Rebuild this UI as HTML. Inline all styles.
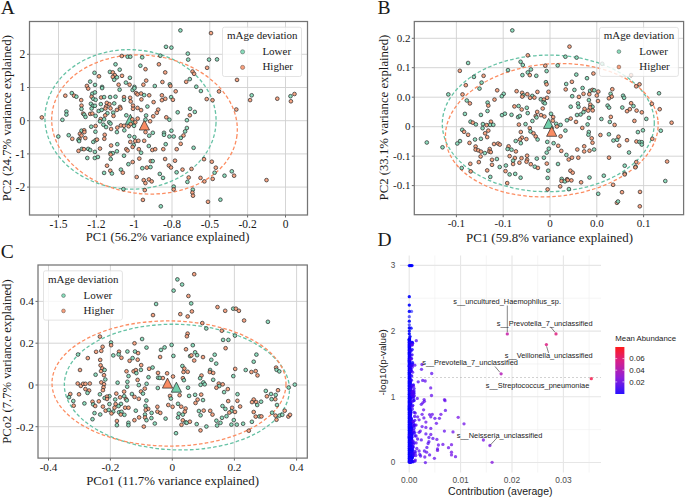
<!DOCTYPE html>
<html><head><meta charset="utf-8"><style>
html,body{margin:0;padding:0;background:#fff;}
svg{display:block;}

</style></head><body>
<svg width="685" height="498" viewBox="0 0 685 498">
<rect width="685" height="498" fill="#fff"/>
<line x1="58.5" y1="21.5" x2="58.5" y2="215" stroke="#d0d0d0" stroke-width="0.9" />
<line x1="96.4" y1="21.5" x2="96.4" y2="215" stroke="#d0d0d0" stroke-width="0.9" />
<line x1="134.2" y1="21.5" x2="134.2" y2="215" stroke="#d0d0d0" stroke-width="0.9" />
<line x1="172" y1="21.5" x2="172" y2="215" stroke="#d0d0d0" stroke-width="0.9" />
<line x1="209.8" y1="21.5" x2="209.8" y2="215" stroke="#d0d0d0" stroke-width="0.9" />
<line x1="247.6" y1="21.5" x2="247.6" y2="215" stroke="#d0d0d0" stroke-width="0.9" />
<line x1="285.5" y1="21.5" x2="285.5" y2="215" stroke="#d0d0d0" stroke-width="0.9" />
<line x1="29.5" y1="54.3" x2="307.5" y2="54.3" stroke="#d0d0d0" stroke-width="0.9" />
<line x1="29.5" y1="87.5" x2="307.5" y2="87.5" stroke="#d0d0d0" stroke-width="0.9" />
<line x1="29.5" y1="120.7" x2="307.5" y2="120.7" stroke="#d0d0d0" stroke-width="0.9" />
<line x1="29.5" y1="153.9" x2="307.5" y2="153.9" stroke="#d0d0d0" stroke-width="0.9" />
<line x1="29.5" y1="187.1" x2="307.5" y2="187.1" stroke="#d0d0d0" stroke-width="0.9" />
<line x1="58.5" y1="215" x2="58.5" y2="217.5" stroke="#444" stroke-width="0.8" />
<text x="58.5" y="227.5" font-size="11.5" text-anchor="middle" font-family="Liberation Serif, serif" fill="#1a1a1a" >-1.5</text>
<line x1="96.4" y1="215" x2="96.4" y2="217.5" stroke="#444" stroke-width="0.8" />
<text x="96.4" y="227.5" font-size="11.5" text-anchor="middle" font-family="Liberation Serif, serif" fill="#1a1a1a" >-1.2</text>
<line x1="134.2" y1="215" x2="134.2" y2="217.5" stroke="#444" stroke-width="0.8" />
<text x="134.2" y="227.5" font-size="11.5" text-anchor="middle" font-family="Liberation Serif, serif" fill="#1a1a1a" >-1</text>
<line x1="172" y1="215" x2="172" y2="217.5" stroke="#444" stroke-width="0.8" />
<text x="172" y="227.5" font-size="11.5" text-anchor="middle" font-family="Liberation Serif, serif" fill="#1a1a1a" >-0.8</text>
<line x1="209.8" y1="215" x2="209.8" y2="217.5" stroke="#444" stroke-width="0.8" />
<text x="209.8" y="227.5" font-size="11.5" text-anchor="middle" font-family="Liberation Serif, serif" fill="#1a1a1a" >-0.5</text>
<line x1="247.6" y1="215" x2="247.6" y2="217.5" stroke="#444" stroke-width="0.8" />
<text x="247.6" y="227.5" font-size="11.5" text-anchor="middle" font-family="Liberation Serif, serif" fill="#1a1a1a" >-0.2</text>
<line x1="285.5" y1="215" x2="285.5" y2="217.5" stroke="#444" stroke-width="0.8" />
<text x="285.5" y="227.5" font-size="11.5" text-anchor="middle" font-family="Liberation Serif, serif" fill="#1a1a1a" >0</text>
<line x1="27" y1="54.3" x2="29.5" y2="54.3" stroke="#444" stroke-width="0.8" />
<text x="25.2" y="58.21" font-size="11.5" text-anchor="end" font-family="Liberation Serif, serif" fill="#1a1a1a" >2</text>
<line x1="27" y1="87.5" x2="29.5" y2="87.5" stroke="#444" stroke-width="0.8" />
<text x="25.2" y="91.41" font-size="11.5" text-anchor="end" font-family="Liberation Serif, serif" fill="#1a1a1a" >1</text>
<line x1="27" y1="120.7" x2="29.5" y2="120.7" stroke="#444" stroke-width="0.8" />
<text x="25.2" y="124.61" font-size="11.5" text-anchor="end" font-family="Liberation Serif, serif" fill="#1a1a1a" >0</text>
<line x1="27" y1="153.9" x2="29.5" y2="153.9" stroke="#444" stroke-width="0.8" />
<text x="25.2" y="157.81" font-size="11.5" text-anchor="end" font-family="Liberation Serif, serif" fill="#1a1a1a" >-1</text>
<line x1="27" y1="187.1" x2="29.5" y2="187.1" stroke="#444" stroke-width="0.8" />
<text x="25.2" y="191.01" font-size="11.5" text-anchor="end" font-family="Liberation Serif, serif" fill="#1a1a1a" >-2</text>
<ellipse cx="130.5" cy="119.4" rx="85.6" ry="69.7" transform="rotate(2.4 130.5 119.4)" fill="none" stroke="#66c2a5" stroke-width="1.3" stroke-dasharray="3.6 2.2"/>
<ellipse cx="144.5" cy="124.5" rx="93.1" ry="69.2" transform="rotate(6.7 144.5 124.5)" fill="none" stroke="#fc8d62" stroke-width="1.3" stroke-dasharray="3.6 2.2"/>
<polygon points="130.4,114.3 125.3,124.3 135.5,124.3" fill="#72cfab" stroke="#222" stroke-width="0.7" stroke-linejoin="miter"/>
<polygon points="144.4,120 139.3,130 149.5,130" fill="#f98c63" stroke="#222" stroke-width="0.7" stroke-linejoin="miter"/>
<circle cx="94.5" cy="72.8" r="1.85" fill="#88dbba" fill-opacity="0.93" stroke="#2a2a2a" stroke-opacity="0.9" stroke-width="0.8"/>
<circle cx="90.2" cy="81.6" r="1.85" fill="#88dbba" fill-opacity="0.93" stroke="#2a2a2a" stroke-opacity="0.9" stroke-width="0.8"/>
<circle cx="95" cy="84.9" r="1.85" fill="#88dbba" fill-opacity="0.93" stroke="#2a2a2a" stroke-opacity="0.9" stroke-width="0.8"/>
<circle cx="86.9" cy="85.9" r="1.85" fill="#f79f7c" fill-opacity="0.93" stroke="#2a2a2a" stroke-opacity="0.9" stroke-width="0.8"/>
<circle cx="166" cy="46.8" r="1.85" fill="#88dbba" fill-opacity="0.93" stroke="#2a2a2a" stroke-opacity="0.9" stroke-width="0.8"/>
<circle cx="171.4" cy="47.6" r="1.85" fill="#88dbba" fill-opacity="0.93" stroke="#2a2a2a" stroke-opacity="0.9" stroke-width="0.8"/>
<circle cx="121.8" cy="56" r="1.85" fill="#f79f7c" fill-opacity="0.93" stroke="#2a2a2a" stroke-opacity="0.9" stroke-width="0.8"/>
<circle cx="127.6" cy="56.7" r="1.85" fill="#88dbba" fill-opacity="0.93" stroke="#2a2a2a" stroke-opacity="0.9" stroke-width="0.8"/>
<circle cx="130.3" cy="56.7" r="1.85" fill="#88dbba" fill-opacity="0.93" stroke="#2a2a2a" stroke-opacity="0.9" stroke-width="0.8"/>
<circle cx="142.2" cy="57.3" r="1.85" fill="#88dbba" fill-opacity="0.93" stroke="#2a2a2a" stroke-opacity="0.9" stroke-width="0.8"/>
<circle cx="160.3" cy="55.7" r="1.85" fill="#88dbba" fill-opacity="0.93" stroke="#2a2a2a" stroke-opacity="0.9" stroke-width="0.8"/>
<circle cx="115.5" cy="64.3" r="1.85" fill="#88dbba" fill-opacity="0.93" stroke="#2a2a2a" stroke-opacity="0.9" stroke-width="0.8"/>
<circle cx="140.4" cy="65.7" r="1.85" fill="#88dbba" fill-opacity="0.93" stroke="#2a2a2a" stroke-opacity="0.9" stroke-width="0.8"/>
<circle cx="145.5" cy="69.2" r="1.85" fill="#f79f7c" fill-opacity="0.93" stroke="#2a2a2a" stroke-opacity="0.9" stroke-width="0.8"/>
<circle cx="158.9" cy="64.3" r="1.85" fill="#f79f7c" fill-opacity="0.93" stroke="#2a2a2a" stroke-opacity="0.9" stroke-width="0.8"/>
<circle cx="119.7" cy="69.7" r="1.85" fill="#88dbba" fill-opacity="0.93" stroke="#2a2a2a" stroke-opacity="0.9" stroke-width="0.8"/>
<circle cx="109.9" cy="71.9" r="1.85" fill="#88dbba" fill-opacity="0.93" stroke="#2a2a2a" stroke-opacity="0.9" stroke-width="0.8"/>
<circle cx="112.8" cy="72.4" r="1.85" fill="#f79f7c" fill-opacity="0.93" stroke="#2a2a2a" stroke-opacity="0.9" stroke-width="0.8"/>
<circle cx="114.8" cy="75.2" r="1.85" fill="#f79f7c" fill-opacity="0.93" stroke="#2a2a2a" stroke-opacity="0.9" stroke-width="0.8"/>
<circle cx="112.8" cy="76.9" r="1.85" fill="#f79f7c" fill-opacity="0.93" stroke="#2a2a2a" stroke-opacity="0.9" stroke-width="0.8"/>
<circle cx="116.9" cy="77.3" r="1.85" fill="#88dbba" fill-opacity="0.93" stroke="#2a2a2a" stroke-opacity="0.9" stroke-width="0.8"/>
<circle cx="114.2" cy="79.8" r="1.85" fill="#88dbba" fill-opacity="0.93" stroke="#2a2a2a" stroke-opacity="0.9" stroke-width="0.8"/>
<circle cx="122" cy="75.8" r="1.85" fill="#f79f7c" fill-opacity="0.93" stroke="#2a2a2a" stroke-opacity="0.9" stroke-width="0.8"/>
<circle cx="129.9" cy="77.8" r="1.85" fill="#88dbba" fill-opacity="0.93" stroke="#2a2a2a" stroke-opacity="0.9" stroke-width="0.8"/>
<circle cx="99" cy="76.3" r="1.85" fill="#f79f7c" fill-opacity="0.93" stroke="#2a2a2a" stroke-opacity="0.9" stroke-width="0.8"/>
<circle cx="165.2" cy="72.4" r="1.85" fill="#f79f7c" fill-opacity="0.93" stroke="#2a2a2a" stroke-opacity="0.9" stroke-width="0.8"/>
<circle cx="146.2" cy="80.6" r="1.85" fill="#f79f7c" fill-opacity="0.93" stroke="#2a2a2a" stroke-opacity="0.9" stroke-width="0.8"/>
<circle cx="162.4" cy="82" r="1.85" fill="#f79f7c" fill-opacity="0.93" stroke="#2a2a2a" stroke-opacity="0.9" stroke-width="0.8"/>
<circle cx="125.9" cy="82.6" r="1.85" fill="#88dbba" fill-opacity="0.93" stroke="#2a2a2a" stroke-opacity="0.9" stroke-width="0.8"/>
<circle cx="118.6" cy="84.7" r="1.85" fill="#f79f7c" fill-opacity="0.93" stroke="#2a2a2a" stroke-opacity="0.9" stroke-width="0.8"/>
<circle cx="129.6" cy="84.7" r="1.85" fill="#f79f7c" fill-opacity="0.93" stroke="#2a2a2a" stroke-opacity="0.9" stroke-width="0.8"/>
<circle cx="143.4" cy="84.7" r="1.85" fill="#f79f7c" fill-opacity="0.93" stroke="#2a2a2a" stroke-opacity="0.9" stroke-width="0.8"/>
<circle cx="169.8" cy="84.3" r="1.85" fill="#88dbba" fill-opacity="0.93" stroke="#2a2a2a" stroke-opacity="0.9" stroke-width="0.8"/>
<circle cx="170.4" cy="85.9" r="1.85" fill="#f79f7c" fill-opacity="0.93" stroke="#2a2a2a" stroke-opacity="0.9" stroke-width="0.8"/>
<circle cx="102.1" cy="86.9" r="1.85" fill="#88dbba" fill-opacity="0.93" stroke="#2a2a2a" stroke-opacity="0.9" stroke-width="0.8"/>
<circle cx="134.4" cy="86.9" r="1.85" fill="#88dbba" fill-opacity="0.93" stroke="#2a2a2a" stroke-opacity="0.9" stroke-width="0.8"/>
<circle cx="154.8" cy="86" r="1.85" fill="#88dbba" fill-opacity="0.93" stroke="#2a2a2a" stroke-opacity="0.9" stroke-width="0.8"/>
<circle cx="180.4" cy="30.4" r="1.85" fill="#88dbba" fill-opacity="0.93" stroke="#2a2a2a" stroke-opacity="0.9" stroke-width="0.8"/>
<circle cx="211" cy="33.1" r="1.85" fill="#f79f7c" fill-opacity="0.93" stroke="#2a2a2a" stroke-opacity="0.9" stroke-width="0.8"/>
<circle cx="187.8" cy="53.6" r="1.85" fill="#88dbba" fill-opacity="0.93" stroke="#2a2a2a" stroke-opacity="0.9" stroke-width="0.8"/>
<circle cx="188.2" cy="59.6" r="1.85" fill="#88dbba" fill-opacity="0.93" stroke="#2a2a2a" stroke-opacity="0.9" stroke-width="0.8"/>
<circle cx="209" cy="59.6" r="1.85" fill="#88dbba" fill-opacity="0.93" stroke="#2a2a2a" stroke-opacity="0.9" stroke-width="0.8"/>
<circle cx="217" cy="59.4" r="1.85" fill="#88dbba" fill-opacity="0.93" stroke="#2a2a2a" stroke-opacity="0.9" stroke-width="0.8"/>
<circle cx="207.1" cy="67.8" r="1.85" fill="#f79f7c" fill-opacity="0.93" stroke="#2a2a2a" stroke-opacity="0.9" stroke-width="0.8"/>
<circle cx="192.5" cy="71.5" r="1.85" fill="#f79f7c" fill-opacity="0.93" stroke="#2a2a2a" stroke-opacity="0.9" stroke-width="0.8"/>
<circle cx="194.1" cy="73.8" r="1.85" fill="#f79f7c" fill-opacity="0.93" stroke="#2a2a2a" stroke-opacity="0.9" stroke-width="0.8"/>
<circle cx="189.8" cy="79.1" r="1.85" fill="#88dbba" fill-opacity="0.93" stroke="#2a2a2a" stroke-opacity="0.9" stroke-width="0.8"/>
<circle cx="186.2" cy="81.8" r="1.85" fill="#f79f7c" fill-opacity="0.93" stroke="#2a2a2a" stroke-opacity="0.9" stroke-width="0.8"/>
<circle cx="196.3" cy="86.7" r="1.85" fill="#88dbba" fill-opacity="0.93" stroke="#2a2a2a" stroke-opacity="0.9" stroke-width="0.8"/>
<circle cx="237" cy="79.9" r="1.85" fill="#f79f7c" fill-opacity="0.93" stroke="#2a2a2a" stroke-opacity="0.9" stroke-width="0.8"/>
<circle cx="41.8" cy="117.4" r="1.85" fill="#f79f7c" fill-opacity="0.93" stroke="#2a2a2a" stroke-opacity="0.9" stroke-width="0.8"/>
<circle cx="65.3" cy="95.7" r="1.85" fill="#f79f7c" fill-opacity="0.93" stroke="#2a2a2a" stroke-opacity="0.9" stroke-width="0.8"/>
<circle cx="71.8" cy="93.1" r="1.85" fill="#88dbba" fill-opacity="0.93" stroke="#2a2a2a" stroke-opacity="0.9" stroke-width="0.8"/>
<circle cx="74.1" cy="95.7" r="1.85" fill="#f79f7c" fill-opacity="0.93" stroke="#2a2a2a" stroke-opacity="0.9" stroke-width="0.8"/>
<circle cx="76.4" cy="96.7" r="1.85" fill="#88dbba" fill-opacity="0.93" stroke="#2a2a2a" stroke-opacity="0.9" stroke-width="0.8"/>
<circle cx="81.2" cy="100.1" r="1.85" fill="#f79f7c" fill-opacity="0.93" stroke="#2a2a2a" stroke-opacity="0.9" stroke-width="0.8"/>
<circle cx="81.5" cy="105.6" r="1.85" fill="#f79f7c" fill-opacity="0.93" stroke="#2a2a2a" stroke-opacity="0.9" stroke-width="0.8"/>
<circle cx="81.5" cy="108.9" r="1.85" fill="#88dbba" fill-opacity="0.93" stroke="#2a2a2a" stroke-opacity="0.9" stroke-width="0.8"/>
<circle cx="66.4" cy="111.5" r="1.85" fill="#88dbba" fill-opacity="0.93" stroke="#2a2a2a" stroke-opacity="0.9" stroke-width="0.8"/>
<circle cx="66.4" cy="114.6" r="1.85" fill="#88dbba" fill-opacity="0.93" stroke="#2a2a2a" stroke-opacity="0.9" stroke-width="0.8"/>
<circle cx="62.4" cy="119.8" r="1.85" fill="#88dbba" fill-opacity="0.93" stroke="#2a2a2a" stroke-opacity="0.9" stroke-width="0.8"/>
<circle cx="83.2" cy="113.6" r="1.85" fill="#f79f7c" fill-opacity="0.93" stroke="#2a2a2a" stroke-opacity="0.9" stroke-width="0.8"/>
<circle cx="84.2" cy="114.6" r="1.85" fill="#88dbba" fill-opacity="0.93" stroke="#2a2a2a" stroke-opacity="0.9" stroke-width="0.8"/>
<circle cx="85.5" cy="116.9" r="1.85" fill="#88dbba" fill-opacity="0.93" stroke="#2a2a2a" stroke-opacity="0.9" stroke-width="0.8"/>
<circle cx="90.2" cy="113.9" r="1.85" fill="#f79f7c" fill-opacity="0.93" stroke="#2a2a2a" stroke-opacity="0.9" stroke-width="0.8"/>
<circle cx="92.3" cy="113.5" r="1.85" fill="#f79f7c" fill-opacity="0.93" stroke="#2a2a2a" stroke-opacity="0.9" stroke-width="0.8"/>
<circle cx="95.6" cy="115.9" r="1.85" fill="#88dbba" fill-opacity="0.93" stroke="#2a2a2a" stroke-opacity="0.9" stroke-width="0.8"/>
<circle cx="88.2" cy="88.6" r="1.85" fill="#f79f7c" fill-opacity="0.93" stroke="#2a2a2a" stroke-opacity="0.9" stroke-width="0.8"/>
<circle cx="92.3" cy="93.7" r="1.85" fill="#88dbba" fill-opacity="0.93" stroke="#2a2a2a" stroke-opacity="0.9" stroke-width="0.8"/>
<circle cx="94.9" cy="92.4" r="1.85" fill="#88dbba" fill-opacity="0.93" stroke="#2a2a2a" stroke-opacity="0.9" stroke-width="0.8"/>
<circle cx="91.6" cy="96.7" r="1.85" fill="#f79f7c" fill-opacity="0.93" stroke="#2a2a2a" stroke-opacity="0.9" stroke-width="0.8"/>
<circle cx="93.3" cy="98.8" r="1.85" fill="#88dbba" fill-opacity="0.93" stroke="#2a2a2a" stroke-opacity="0.9" stroke-width="0.8"/>
<circle cx="95.6" cy="99.8" r="1.85" fill="#88dbba" fill-opacity="0.93" stroke="#2a2a2a" stroke-opacity="0.9" stroke-width="0.8"/>
<circle cx="90.9" cy="103.8" r="1.85" fill="#88dbba" fill-opacity="0.93" stroke="#2a2a2a" stroke-opacity="0.9" stroke-width="0.8"/>
<circle cx="92.9" cy="105.8" r="1.85" fill="#88dbba" fill-opacity="0.93" stroke="#2a2a2a" stroke-opacity="0.9" stroke-width="0.8"/>
<circle cx="94.9" cy="105.8" r="1.85" fill="#88dbba" fill-opacity="0.93" stroke="#2a2a2a" stroke-opacity="0.9" stroke-width="0.8"/>
<circle cx="91.6" cy="108.5" r="1.85" fill="#88dbba" fill-opacity="0.93" stroke="#2a2a2a" stroke-opacity="0.9" stroke-width="0.8"/>
<circle cx="91.2" cy="126.7" r="1.85" fill="#88dbba" fill-opacity="0.93" stroke="#2a2a2a" stroke-opacity="0.9" stroke-width="0.8"/>
<circle cx="95.6" cy="126" r="1.85" fill="#f79f7c" fill-opacity="0.93" stroke="#2a2a2a" stroke-opacity="0.9" stroke-width="0.8"/>
<circle cx="95.4" cy="131.7" r="1.85" fill="#88dbba" fill-opacity="0.93" stroke="#2a2a2a" stroke-opacity="0.9" stroke-width="0.8"/>
<circle cx="81.5" cy="130.7" r="1.85" fill="#88dbba" fill-opacity="0.93" stroke="#2a2a2a" stroke-opacity="0.9" stroke-width="0.8"/>
<circle cx="84.2" cy="130.3" r="1.85" fill="#f79f7c" fill-opacity="0.93" stroke="#2a2a2a" stroke-opacity="0.9" stroke-width="0.8"/>
<circle cx="84.4" cy="132.1" r="1.85" fill="#f79f7c" fill-opacity="0.93" stroke="#2a2a2a" stroke-opacity="0.9" stroke-width="0.8"/>
<circle cx="79.9" cy="133.8" r="1.85" fill="#f79f7c" fill-opacity="0.93" stroke="#2a2a2a" stroke-opacity="0.9" stroke-width="0.8"/>
<circle cx="81.5" cy="135.5" r="1.85" fill="#f79f7c" fill-opacity="0.93" stroke="#2a2a2a" stroke-opacity="0.9" stroke-width="0.8"/>
<circle cx="68.7" cy="135.2" r="1.85" fill="#88dbba" fill-opacity="0.93" stroke="#2a2a2a" stroke-opacity="0.9" stroke-width="0.8"/>
<circle cx="72.3" cy="138.8" r="1.85" fill="#f79f7c" fill-opacity="0.93" stroke="#2a2a2a" stroke-opacity="0.9" stroke-width="0.8"/>
<circle cx="58.3" cy="136.5" r="1.85" fill="#88dbba" fill-opacity="0.93" stroke="#2a2a2a" stroke-opacity="0.9" stroke-width="0.8"/>
<circle cx="79.5" cy="138.8" r="1.85" fill="#f79f7c" fill-opacity="0.93" stroke="#2a2a2a" stroke-opacity="0.9" stroke-width="0.8"/>
<circle cx="78.4" cy="139.8" r="1.85" fill="#88dbba" fill-opacity="0.93" stroke="#2a2a2a" stroke-opacity="0.9" stroke-width="0.8"/>
<circle cx="79.1" cy="141.1" r="1.85" fill="#88dbba" fill-opacity="0.93" stroke="#2a2a2a" stroke-opacity="0.9" stroke-width="0.8"/>
<circle cx="85.3" cy="138.1" r="1.85" fill="#f79f7c" fill-opacity="0.93" stroke="#2a2a2a" stroke-opacity="0.9" stroke-width="0.8"/>
<circle cx="93.3" cy="141.9" r="1.85" fill="#88dbba" fill-opacity="0.93" stroke="#2a2a2a" stroke-opacity="0.9" stroke-width="0.8"/>
<circle cx="95.6" cy="140.2" r="1.85" fill="#88dbba" fill-opacity="0.93" stroke="#2a2a2a" stroke-opacity="0.9" stroke-width="0.8"/>
<circle cx="78.5" cy="150.9" r="1.85" fill="#f79f7c" fill-opacity="0.93" stroke="#2a2a2a" stroke-opacity="0.9" stroke-width="0.8"/>
<circle cx="81.9" cy="148.9" r="1.85" fill="#88dbba" fill-opacity="0.93" stroke="#2a2a2a" stroke-opacity="0.9" stroke-width="0.8"/>
<circle cx="83.9" cy="149.2" r="1.85" fill="#f79f7c" fill-opacity="0.93" stroke="#2a2a2a" stroke-opacity="0.9" stroke-width="0.8"/>
<circle cx="88.2" cy="148.9" r="1.85" fill="#88dbba" fill-opacity="0.93" stroke="#2a2a2a" stroke-opacity="0.9" stroke-width="0.8"/>
<circle cx="90.2" cy="150" r="1.85" fill="#88dbba" fill-opacity="0.93" stroke="#2a2a2a" stroke-opacity="0.9" stroke-width="0.8"/>
<circle cx="94.9" cy="151.9" r="1.85" fill="#88dbba" fill-opacity="0.93" stroke="#2a2a2a" stroke-opacity="0.9" stroke-width="0.8"/>
<circle cx="102.1" cy="88.1" r="1.85" fill="#88dbba" fill-opacity="0.93" stroke="#2a2a2a" stroke-opacity="0.9" stroke-width="0.8"/>
<circle cx="119.6" cy="89.7" r="1.85" fill="#88dbba" fill-opacity="0.93" stroke="#2a2a2a" stroke-opacity="0.9" stroke-width="0.8"/>
<circle cx="132.6" cy="90" r="1.85" fill="#88dbba" fill-opacity="0.93" stroke="#2a2a2a" stroke-opacity="0.9" stroke-width="0.8"/>
<circle cx="134.4" cy="88.3" r="1.85" fill="#88dbba" fill-opacity="0.93" stroke="#2a2a2a" stroke-opacity="0.9" stroke-width="0.8"/>
<circle cx="136.1" cy="93.1" r="1.85" fill="#f79f7c" fill-opacity="0.93" stroke="#2a2a2a" stroke-opacity="0.9" stroke-width="0.8"/>
<circle cx="137.5" cy="94.4" r="1.85" fill="#f79f7c" fill-opacity="0.93" stroke="#2a2a2a" stroke-opacity="0.9" stroke-width="0.8"/>
<circle cx="141.1" cy="93.5" r="1.85" fill="#f79f7c" fill-opacity="0.93" stroke="#2a2a2a" stroke-opacity="0.9" stroke-width="0.8"/>
<circle cx="144.2" cy="95.1" r="1.85" fill="#88dbba" fill-opacity="0.93" stroke="#2a2a2a" stroke-opacity="0.9" stroke-width="0.8"/>
<circle cx="149.2" cy="95.3" r="1.85" fill="#f79f7c" fill-opacity="0.93" stroke="#2a2a2a" stroke-opacity="0.9" stroke-width="0.8"/>
<circle cx="101.1" cy="97.5" r="1.85" fill="#f79f7c" fill-opacity="0.93" stroke="#2a2a2a" stroke-opacity="0.9" stroke-width="0.8"/>
<circle cx="104.1" cy="97.1" r="1.85" fill="#88dbba" fill-opacity="0.93" stroke="#2a2a2a" stroke-opacity="0.9" stroke-width="0.8"/>
<circle cx="110.1" cy="97.1" r="1.85" fill="#88dbba" fill-opacity="0.93" stroke="#2a2a2a" stroke-opacity="0.9" stroke-width="0.8"/>
<circle cx="115.5" cy="96.7" r="1.85" fill="#88dbba" fill-opacity="0.93" stroke="#2a2a2a" stroke-opacity="0.9" stroke-width="0.8"/>
<circle cx="124" cy="97.1" r="1.85" fill="#f79f7c" fill-opacity="0.93" stroke="#2a2a2a" stroke-opacity="0.9" stroke-width="0.8"/>
<circle cx="124" cy="99.8" r="1.85" fill="#88dbba" fill-opacity="0.93" stroke="#2a2a2a" stroke-opacity="0.9" stroke-width="0.8"/>
<circle cx="130.1" cy="97.8" r="1.85" fill="#f79f7c" fill-opacity="0.93" stroke="#2a2a2a" stroke-opacity="0.9" stroke-width="0.8"/>
<circle cx="141.4" cy="99.4" r="1.85" fill="#f79f7c" fill-opacity="0.93" stroke="#2a2a2a" stroke-opacity="0.9" stroke-width="0.8"/>
<circle cx="161.9" cy="95.3" r="1.85" fill="#f79f7c" fill-opacity="0.93" stroke="#2a2a2a" stroke-opacity="0.9" stroke-width="0.8"/>
<circle cx="165.3" cy="98.8" r="1.85" fill="#f79f7c" fill-opacity="0.93" stroke="#2a2a2a" stroke-opacity="0.9" stroke-width="0.8"/>
<circle cx="161.9" cy="100.2" r="1.85" fill="#f79f7c" fill-opacity="0.93" stroke="#2a2a2a" stroke-opacity="0.9" stroke-width="0.8"/>
<circle cx="171.1" cy="97.1" r="1.85" fill="#88dbba" fill-opacity="0.93" stroke="#2a2a2a" stroke-opacity="0.9" stroke-width="0.8"/>
<circle cx="100.8" cy="104.1" r="1.85" fill="#88dbba" fill-opacity="0.93" stroke="#2a2a2a" stroke-opacity="0.9" stroke-width="0.8"/>
<circle cx="106.8" cy="102.9" r="1.85" fill="#f79f7c" fill-opacity="0.93" stroke="#2a2a2a" stroke-opacity="0.9" stroke-width="0.8"/>
<circle cx="109.5" cy="104.2" r="1.85" fill="#f79f7c" fill-opacity="0.93" stroke="#2a2a2a" stroke-opacity="0.9" stroke-width="0.8"/>
<circle cx="114.2" cy="103.4" r="1.85" fill="#88dbba" fill-opacity="0.93" stroke="#2a2a2a" stroke-opacity="0.9" stroke-width="0.8"/>
<circle cx="130.7" cy="101.5" r="1.85" fill="#f79f7c" fill-opacity="0.93" stroke="#2a2a2a" stroke-opacity="0.9" stroke-width="0.8"/>
<circle cx="153.6" cy="102.1" r="1.85" fill="#f79f7c" fill-opacity="0.93" stroke="#2a2a2a" stroke-opacity="0.9" stroke-width="0.8"/>
<circle cx="106.1" cy="106.5" r="1.85" fill="#f79f7c" fill-opacity="0.93" stroke="#2a2a2a" stroke-opacity="0.9" stroke-width="0.8"/>
<circle cx="105.4" cy="108.5" r="1.85" fill="#f79f7c" fill-opacity="0.93" stroke="#2a2a2a" stroke-opacity="0.9" stroke-width="0.8"/>
<circle cx="110.5" cy="108.3" r="1.85" fill="#f79f7c" fill-opacity="0.93" stroke="#2a2a2a" stroke-opacity="0.9" stroke-width="0.8"/>
<circle cx="98.7" cy="111" r="1.85" fill="#88dbba" fill-opacity="0.93" stroke="#2a2a2a" stroke-opacity="0.9" stroke-width="0.8"/>
<circle cx="101.7" cy="109.9" r="1.85" fill="#88dbba" fill-opacity="0.93" stroke="#2a2a2a" stroke-opacity="0.9" stroke-width="0.8"/>
<circle cx="116.9" cy="109.9" r="1.85" fill="#f79f7c" fill-opacity="0.93" stroke="#2a2a2a" stroke-opacity="0.9" stroke-width="0.8"/>
<circle cx="120" cy="106.9" r="1.85" fill="#f79f7c" fill-opacity="0.93" stroke="#2a2a2a" stroke-opacity="0.9" stroke-width="0.8"/>
<circle cx="120.5" cy="108.5" r="1.85" fill="#f79f7c" fill-opacity="0.93" stroke="#2a2a2a" stroke-opacity="0.9" stroke-width="0.8"/>
<circle cx="133" cy="105.6" r="1.85" fill="#f79f7c" fill-opacity="0.93" stroke="#2a2a2a" stroke-opacity="0.9" stroke-width="0.8"/>
<circle cx="133" cy="108.8" r="1.85" fill="#f79f7c" fill-opacity="0.93" stroke="#2a2a2a" stroke-opacity="0.9" stroke-width="0.8"/>
<circle cx="137.5" cy="107.9" r="1.85" fill="#f79f7c" fill-opacity="0.93" stroke="#2a2a2a" stroke-opacity="0.9" stroke-width="0.8"/>
<circle cx="141.1" cy="110.1" r="1.85" fill="#f79f7c" fill-opacity="0.93" stroke="#2a2a2a" stroke-opacity="0.9" stroke-width="0.8"/>
<circle cx="147.4" cy="106.5" r="1.85" fill="#88dbba" fill-opacity="0.93" stroke="#2a2a2a" stroke-opacity="0.9" stroke-width="0.8"/>
<circle cx="158.2" cy="109.6" r="1.85" fill="#f79f7c" fill-opacity="0.93" stroke="#2a2a2a" stroke-opacity="0.9" stroke-width="0.8"/>
<circle cx="156.8" cy="112.8" r="1.85" fill="#f79f7c" fill-opacity="0.93" stroke="#2a2a2a" stroke-opacity="0.9" stroke-width="0.8"/>
<circle cx="107.4" cy="113.2" r="1.85" fill="#88dbba" fill-opacity="0.93" stroke="#2a2a2a" stroke-opacity="0.9" stroke-width="0.8"/>
<circle cx="113.2" cy="112.6" r="1.85" fill="#88dbba" fill-opacity="0.93" stroke="#2a2a2a" stroke-opacity="0.9" stroke-width="0.8"/>
<circle cx="113.5" cy="115.9" r="1.85" fill="#f79f7c" fill-opacity="0.93" stroke="#2a2a2a" stroke-opacity="0.9" stroke-width="0.8"/>
<circle cx="105.2" cy="115.3" r="1.85" fill="#f79f7c" fill-opacity="0.93" stroke="#2a2a2a" stroke-opacity="0.9" stroke-width="0.8"/>
<circle cx="126.3" cy="115.3" r="1.85" fill="#88dbba" fill-opacity="0.93" stroke="#2a2a2a" stroke-opacity="0.9" stroke-width="0.8"/>
<circle cx="146.1" cy="115.5" r="1.85" fill="#88dbba" fill-opacity="0.93" stroke="#2a2a2a" stroke-opacity="0.9" stroke-width="0.8"/>
<circle cx="153.2" cy="116.3" r="1.85" fill="#f79f7c" fill-opacity="0.93" stroke="#2a2a2a" stroke-opacity="0.9" stroke-width="0.8"/>
<circle cx="166.3" cy="117.3" r="1.85" fill="#f79f7c" fill-opacity="0.93" stroke="#2a2a2a" stroke-opacity="0.9" stroke-width="0.8"/>
<circle cx="169.4" cy="119.7" r="1.85" fill="#88dbba" fill-opacity="0.93" stroke="#2a2a2a" stroke-opacity="0.9" stroke-width="0.8"/>
<circle cx="100.7" cy="119" r="1.85" fill="#f79f7c" fill-opacity="0.93" stroke="#2a2a2a" stroke-opacity="0.9" stroke-width="0.8"/>
<circle cx="104.1" cy="119.3" r="1.85" fill="#88dbba" fill-opacity="0.93" stroke="#2a2a2a" stroke-opacity="0.9" stroke-width="0.8"/>
<circle cx="100" cy="121.3" r="1.85" fill="#88dbba" fill-opacity="0.93" stroke="#2a2a2a" stroke-opacity="0.9" stroke-width="0.8"/>
<circle cx="109.2" cy="122.3" r="1.85" fill="#88dbba" fill-opacity="0.93" stroke="#2a2a2a" stroke-opacity="0.9" stroke-width="0.8"/>
<circle cx="110.5" cy="123.6" r="1.85" fill="#88dbba" fill-opacity="0.93" stroke="#2a2a2a" stroke-opacity="0.9" stroke-width="0.8"/>
<circle cx="132.3" cy="119.3" r="1.85" fill="#f79f7c" fill-opacity="0.93" stroke="#2a2a2a" stroke-opacity="0.9" stroke-width="0.8"/>
<circle cx="137.7" cy="118.6" r="1.85" fill="#f79f7c" fill-opacity="0.93" stroke="#2a2a2a" stroke-opacity="0.9" stroke-width="0.8"/>
<circle cx="135.3" cy="122.3" r="1.85" fill="#f79f7c" fill-opacity="0.93" stroke="#2a2a2a" stroke-opacity="0.9" stroke-width="0.8"/>
<circle cx="145.5" cy="119.6" r="1.85" fill="#88dbba" fill-opacity="0.93" stroke="#2a2a2a" stroke-opacity="0.9" stroke-width="0.8"/>
<circle cx="150.1" cy="121.3" r="1.85" fill="#f79f7c" fill-opacity="0.93" stroke="#2a2a2a" stroke-opacity="0.9" stroke-width="0.8"/>
<circle cx="103.4" cy="124.7" r="1.85" fill="#88dbba" fill-opacity="0.93" stroke="#2a2a2a" stroke-opacity="0.9" stroke-width="0.8"/>
<circle cx="106.1" cy="127.1" r="1.85" fill="#88dbba" fill-opacity="0.93" stroke="#2a2a2a" stroke-opacity="0.9" stroke-width="0.8"/>
<circle cx="111.1" cy="129" r="1.85" fill="#f79f7c" fill-opacity="0.93" stroke="#2a2a2a" stroke-opacity="0.9" stroke-width="0.8"/>
<circle cx="117.3" cy="127.6" r="1.85" fill="#f79f7c" fill-opacity="0.93" stroke="#2a2a2a" stroke-opacity="0.9" stroke-width="0.8"/>
<circle cx="120.9" cy="125.4" r="1.85" fill="#f79f7c" fill-opacity="0.93" stroke="#2a2a2a" stroke-opacity="0.9" stroke-width="0.8"/>
<circle cx="124" cy="125.8" r="1.85" fill="#f79f7c" fill-opacity="0.93" stroke="#2a2a2a" stroke-opacity="0.9" stroke-width="0.8"/>
<circle cx="128.6" cy="126.3" r="1.85" fill="#f79f7c" fill-opacity="0.93" stroke="#2a2a2a" stroke-opacity="0.9" stroke-width="0.8"/>
<circle cx="130.7" cy="124" r="1.85" fill="#f79f7c" fill-opacity="0.93" stroke="#2a2a2a" stroke-opacity="0.9" stroke-width="0.8"/>
<circle cx="134" cy="125.8" r="1.85" fill="#88dbba" fill-opacity="0.93" stroke="#2a2a2a" stroke-opacity="0.9" stroke-width="0.8"/>
<circle cx="124.3" cy="130.3" r="1.85" fill="#88dbba" fill-opacity="0.93" stroke="#2a2a2a" stroke-opacity="0.9" stroke-width="0.8"/>
<circle cx="116.9" cy="132.1" r="1.85" fill="#88dbba" fill-opacity="0.93" stroke="#2a2a2a" stroke-opacity="0.9" stroke-width="0.8"/>
<circle cx="145.5" cy="132.1" r="1.85" fill="#f79f7c" fill-opacity="0.93" stroke="#2a2a2a" stroke-opacity="0.9" stroke-width="0.8"/>
<circle cx="152.8" cy="132.8" r="1.85" fill="#88dbba" fill-opacity="0.93" stroke="#2a2a2a" stroke-opacity="0.9" stroke-width="0.8"/>
<circle cx="164" cy="132.8" r="1.85" fill="#88dbba" fill-opacity="0.93" stroke="#2a2a2a" stroke-opacity="0.9" stroke-width="0.8"/>
<circle cx="164" cy="134.8" r="1.85" fill="#88dbba" fill-opacity="0.93" stroke="#2a2a2a" stroke-opacity="0.9" stroke-width="0.8"/>
<circle cx="171.4" cy="130.7" r="1.85" fill="#88dbba" fill-opacity="0.93" stroke="#2a2a2a" stroke-opacity="0.9" stroke-width="0.8"/>
<circle cx="104.7" cy="134.8" r="1.85" fill="#f79f7c" fill-opacity="0.93" stroke="#2a2a2a" stroke-opacity="0.9" stroke-width="0.8"/>
<circle cx="104.3" cy="138.8" r="1.85" fill="#f79f7c" fill-opacity="0.93" stroke="#2a2a2a" stroke-opacity="0.9" stroke-width="0.8"/>
<circle cx="129.4" cy="136.1" r="1.85" fill="#88dbba" fill-opacity="0.93" stroke="#2a2a2a" stroke-opacity="0.9" stroke-width="0.8"/>
<circle cx="134.4" cy="137.1" r="1.85" fill="#88dbba" fill-opacity="0.93" stroke="#2a2a2a" stroke-opacity="0.9" stroke-width="0.8"/>
<circle cx="149.2" cy="135.7" r="1.85" fill="#88dbba" fill-opacity="0.93" stroke="#2a2a2a" stroke-opacity="0.9" stroke-width="0.8"/>
<circle cx="169.4" cy="136.5" r="1.85" fill="#88dbba" fill-opacity="0.93" stroke="#2a2a2a" stroke-opacity="0.9" stroke-width="0.8"/>
<circle cx="97" cy="139.6" r="1.85" fill="#f79f7c" fill-opacity="0.93" stroke="#2a2a2a" stroke-opacity="0.9" stroke-width="0.8"/>
<circle cx="130.3" cy="141.9" r="1.85" fill="#f79f7c" fill-opacity="0.93" stroke="#2a2a2a" stroke-opacity="0.9" stroke-width="0.8"/>
<circle cx="135.3" cy="141.1" r="1.85" fill="#f79f7c" fill-opacity="0.93" stroke="#2a2a2a" stroke-opacity="0.9" stroke-width="0.8"/>
<circle cx="138.4" cy="140.8" r="1.85" fill="#f79f7c" fill-opacity="0.93" stroke="#2a2a2a" stroke-opacity="0.9" stroke-width="0.8"/>
<circle cx="144.2" cy="140.8" r="1.85" fill="#f79f7c" fill-opacity="0.93" stroke="#2a2a2a" stroke-opacity="0.9" stroke-width="0.8"/>
<circle cx="117.3" cy="144.2" r="1.85" fill="#88dbba" fill-opacity="0.93" stroke="#2a2a2a" stroke-opacity="0.9" stroke-width="0.8"/>
<circle cx="133.7" cy="145.1" r="1.85" fill="#88dbba" fill-opacity="0.93" stroke="#2a2a2a" stroke-opacity="0.9" stroke-width="0.8"/>
<circle cx="132.6" cy="146.9" r="1.85" fill="#f79f7c" fill-opacity="0.93" stroke="#2a2a2a" stroke-opacity="0.9" stroke-width="0.8"/>
<circle cx="111.1" cy="145.5" r="1.85" fill="#f79f7c" fill-opacity="0.93" stroke="#2a2a2a" stroke-opacity="0.9" stroke-width="0.8"/>
<circle cx="148.8" cy="146" r="1.85" fill="#88dbba" fill-opacity="0.93" stroke="#2a2a2a" stroke-opacity="0.9" stroke-width="0.8"/>
<circle cx="165.7" cy="144.2" r="1.85" fill="#88dbba" fill-opacity="0.93" stroke="#2a2a2a" stroke-opacity="0.9" stroke-width="0.8"/>
<circle cx="100" cy="148.6" r="1.85" fill="#f79f7c" fill-opacity="0.93" stroke="#2a2a2a" stroke-opacity="0.9" stroke-width="0.8"/>
<circle cx="126.3" cy="149.2" r="1.85" fill="#f79f7c" fill-opacity="0.93" stroke="#2a2a2a" stroke-opacity="0.9" stroke-width="0.8"/>
<circle cx="127.6" cy="150.5" r="1.85" fill="#f79f7c" fill-opacity="0.93" stroke="#2a2a2a" stroke-opacity="0.9" stroke-width="0.8"/>
<circle cx="138.8" cy="149.2" r="1.85" fill="#f79f7c" fill-opacity="0.93" stroke="#2a2a2a" stroke-opacity="0.9" stroke-width="0.8"/>
<circle cx="141.1" cy="152.7" r="1.85" fill="#88dbba" fill-opacity="0.93" stroke="#2a2a2a" stroke-opacity="0.9" stroke-width="0.8"/>
<circle cx="152.3" cy="150" r="1.85" fill="#f79f7c" fill-opacity="0.93" stroke="#2a2a2a" stroke-opacity="0.9" stroke-width="0.8"/>
<circle cx="155.2" cy="149.2" r="1.85" fill="#f79f7c" fill-opacity="0.93" stroke="#2a2a2a" stroke-opacity="0.9" stroke-width="0.8"/>
<circle cx="163.3" cy="149.2" r="1.85" fill="#f79f7c" fill-opacity="0.93" stroke="#2a2a2a" stroke-opacity="0.9" stroke-width="0.8"/>
<circle cx="110.5" cy="153.2" r="1.85" fill="#88dbba" fill-opacity="0.93" stroke="#2a2a2a" stroke-opacity="0.9" stroke-width="0.8"/>
<circle cx="112.8" cy="153.2" r="1.85" fill="#88dbba" fill-opacity="0.93" stroke="#2a2a2a" stroke-opacity="0.9" stroke-width="0.8"/>
<circle cx="116.9" cy="151.3" r="1.85" fill="#88dbba" fill-opacity="0.93" stroke="#2a2a2a" stroke-opacity="0.9" stroke-width="0.8"/>
<circle cx="175.7" cy="91.3" r="1.85" fill="#f79f7c" fill-opacity="0.93" stroke="#2a2a2a" stroke-opacity="0.9" stroke-width="0.8"/>
<circle cx="200.9" cy="91" r="1.85" fill="#88dbba" fill-opacity="0.93" stroke="#2a2a2a" stroke-opacity="0.9" stroke-width="0.8"/>
<circle cx="172.9" cy="99.8" r="1.85" fill="#f79f7c" fill-opacity="0.93" stroke="#2a2a2a" stroke-opacity="0.9" stroke-width="0.8"/>
<circle cx="206.7" cy="99.1" r="1.85" fill="#f79f7c" fill-opacity="0.93" stroke="#2a2a2a" stroke-opacity="0.9" stroke-width="0.8"/>
<circle cx="212.5" cy="100.2" r="1.85" fill="#f79f7c" fill-opacity="0.93" stroke="#2a2a2a" stroke-opacity="0.9" stroke-width="0.8"/>
<circle cx="219" cy="91.4" r="1.85" fill="#f79f7c" fill-opacity="0.93" stroke="#2a2a2a" stroke-opacity="0.9" stroke-width="0.8"/>
<circle cx="236.3" cy="109.5" r="1.85" fill="#f79f7c" fill-opacity="0.93" stroke="#2a2a2a" stroke-opacity="0.9" stroke-width="0.8"/>
<circle cx="190.1" cy="108.8" r="1.85" fill="#88dbba" fill-opacity="0.93" stroke="#2a2a2a" stroke-opacity="0.9" stroke-width="0.8"/>
<circle cx="177.7" cy="112.3" r="1.85" fill="#88dbba" fill-opacity="0.93" stroke="#2a2a2a" stroke-opacity="0.9" stroke-width="0.8"/>
<circle cx="194.8" cy="111.9" r="1.85" fill="#88dbba" fill-opacity="0.93" stroke="#2a2a2a" stroke-opacity="0.9" stroke-width="0.8"/>
<circle cx="189.8" cy="115.3" r="1.85" fill="#f79f7c" fill-opacity="0.93" stroke="#2a2a2a" stroke-opacity="0.9" stroke-width="0.8"/>
<circle cx="186.9" cy="120.2" r="1.85" fill="#88dbba" fill-opacity="0.93" stroke="#2a2a2a" stroke-opacity="0.9" stroke-width="0.8"/>
<circle cx="186.9" cy="128" r="1.85" fill="#88dbba" fill-opacity="0.93" stroke="#2a2a2a" stroke-opacity="0.9" stroke-width="0.8"/>
<circle cx="185.1" cy="131.4" r="1.85" fill="#88dbba" fill-opacity="0.93" stroke="#2a2a2a" stroke-opacity="0.9" stroke-width="0.8"/>
<circle cx="173.7" cy="136.5" r="1.85" fill="#88dbba" fill-opacity="0.93" stroke="#2a2a2a" stroke-opacity="0.9" stroke-width="0.8"/>
<circle cx="183.5" cy="135.5" r="1.85" fill="#f79f7c" fill-opacity="0.93" stroke="#2a2a2a" stroke-opacity="0.9" stroke-width="0.8"/>
<circle cx="180.8" cy="137.9" r="1.85" fill="#88dbba" fill-opacity="0.93" stroke="#2a2a2a" stroke-opacity="0.9" stroke-width="0.8"/>
<circle cx="180.7" cy="143.8" r="1.85" fill="#f79f7c" fill-opacity="0.93" stroke="#2a2a2a" stroke-opacity="0.9" stroke-width="0.8"/>
<circle cx="176.7" cy="149.2" r="1.85" fill="#f79f7c" fill-opacity="0.93" stroke="#2a2a2a" stroke-opacity="0.9" stroke-width="0.8"/>
<circle cx="193.6" cy="147.8" r="1.85" fill="#88dbba" fill-opacity="0.93" stroke="#2a2a2a" stroke-opacity="0.9" stroke-width="0.8"/>
<circle cx="251.7" cy="95.3" r="1.85" fill="#88dbba" fill-opacity="0.93" stroke="#2a2a2a" stroke-opacity="0.9" stroke-width="0.8"/>
<circle cx="250.1" cy="100.1" r="1.85" fill="#f79f7c" fill-opacity="0.93" stroke="#2a2a2a" stroke-opacity="0.9" stroke-width="0.8"/>
<circle cx="277.3" cy="98.7" r="1.85" fill="#f79f7c" fill-opacity="0.93" stroke="#2a2a2a" stroke-opacity="0.9" stroke-width="0.8"/>
<circle cx="290.5" cy="96.2" r="1.85" fill="#88dbba" fill-opacity="0.93" stroke="#2a2a2a" stroke-opacity="0.9" stroke-width="0.8"/>
<circle cx="294.5" cy="94" r="1.85" fill="#f79f7c" fill-opacity="0.93" stroke="#2a2a2a" stroke-opacity="0.9" stroke-width="0.8"/>
<circle cx="290.9" cy="101.3" r="1.85" fill="#f79f7c" fill-opacity="0.93" stroke="#2a2a2a" stroke-opacity="0.9" stroke-width="0.8"/>
<circle cx="87.3" cy="158" r="1.85" fill="#88dbba" fill-opacity="0.93" stroke="#2a2a2a" stroke-opacity="0.9" stroke-width="0.8"/>
<circle cx="94.8" cy="158" r="1.85" fill="#88dbba" fill-opacity="0.93" stroke="#2a2a2a" stroke-opacity="0.9" stroke-width="0.8"/>
<circle cx="97.9" cy="157" r="1.85" fill="#88dbba" fill-opacity="0.93" stroke="#2a2a2a" stroke-opacity="0.9" stroke-width="0.8"/>
<circle cx="110.7" cy="154.5" r="1.85" fill="#f79f7c" fill-opacity="0.93" stroke="#2a2a2a" stroke-opacity="0.9" stroke-width="0.8"/>
<circle cx="110.7" cy="159" r="1.85" fill="#88dbba" fill-opacity="0.93" stroke="#2a2a2a" stroke-opacity="0.9" stroke-width="0.8"/>
<circle cx="124" cy="155.7" r="1.85" fill="#88dbba" fill-opacity="0.93" stroke="#2a2a2a" stroke-opacity="0.9" stroke-width="0.8"/>
<circle cx="107" cy="165.7" r="1.85" fill="#f79f7c" fill-opacity="0.93" stroke="#2a2a2a" stroke-opacity="0.9" stroke-width="0.8"/>
<circle cx="110.3" cy="170.7" r="1.85" fill="#f79f7c" fill-opacity="0.93" stroke="#2a2a2a" stroke-opacity="0.9" stroke-width="0.8"/>
<circle cx="111.9" cy="173.5" r="1.85" fill="#88dbba" fill-opacity="0.93" stroke="#2a2a2a" stroke-opacity="0.9" stroke-width="0.8"/>
<circle cx="104.1" cy="172.9" r="1.85" fill="#88dbba" fill-opacity="0.93" stroke="#2a2a2a" stroke-opacity="0.9" stroke-width="0.8"/>
<circle cx="120.9" cy="169.6" r="1.85" fill="#88dbba" fill-opacity="0.93" stroke="#2a2a2a" stroke-opacity="0.9" stroke-width="0.8"/>
<circle cx="122.8" cy="172.7" r="1.85" fill="#f79f7c" fill-opacity="0.93" stroke="#2a2a2a" stroke-opacity="0.9" stroke-width="0.8"/>
<circle cx="128.4" cy="164.2" r="1.85" fill="#88dbba" fill-opacity="0.93" stroke="#2a2a2a" stroke-opacity="0.9" stroke-width="0.8"/>
<circle cx="132.7" cy="162" r="1.85" fill="#f79f7c" fill-opacity="0.93" stroke="#2a2a2a" stroke-opacity="0.9" stroke-width="0.8"/>
<circle cx="139.3" cy="158.6" r="1.85" fill="#f79f7c" fill-opacity="0.93" stroke="#2a2a2a" stroke-opacity="0.9" stroke-width="0.8"/>
<circle cx="150.8" cy="161.1" r="1.85" fill="#f79f7c" fill-opacity="0.93" stroke="#2a2a2a" stroke-opacity="0.9" stroke-width="0.8"/>
<circle cx="152.7" cy="161.1" r="1.85" fill="#88dbba" fill-opacity="0.93" stroke="#2a2a2a" stroke-opacity="0.9" stroke-width="0.8"/>
<circle cx="165.1" cy="159" r="1.85" fill="#f79f7c" fill-opacity="0.93" stroke="#2a2a2a" stroke-opacity="0.9" stroke-width="0.8"/>
<circle cx="142.3" cy="168.2" r="1.85" fill="#88dbba" fill-opacity="0.93" stroke="#2a2a2a" stroke-opacity="0.9" stroke-width="0.8"/>
<circle cx="146.8" cy="167.6" r="1.85" fill="#f79f7c" fill-opacity="0.93" stroke="#2a2a2a" stroke-opacity="0.9" stroke-width="0.8"/>
<circle cx="150.5" cy="167.1" r="1.85" fill="#88dbba" fill-opacity="0.93" stroke="#2a2a2a" stroke-opacity="0.9" stroke-width="0.8"/>
<circle cx="168.9" cy="165.5" r="1.85" fill="#f79f7c" fill-opacity="0.93" stroke="#2a2a2a" stroke-opacity="0.9" stroke-width="0.8"/>
<circle cx="171" cy="167.5" r="1.85" fill="#f79f7c" fill-opacity="0.93" stroke="#2a2a2a" stroke-opacity="0.9" stroke-width="0.8"/>
<circle cx="159.8" cy="173.9" r="1.85" fill="#88dbba" fill-opacity="0.93" stroke="#2a2a2a" stroke-opacity="0.9" stroke-width="0.8"/>
<circle cx="163" cy="177.9" r="1.85" fill="#88dbba" fill-opacity="0.93" stroke="#2a2a2a" stroke-opacity="0.9" stroke-width="0.8"/>
<circle cx="136.7" cy="177" r="1.85" fill="#f79f7c" fill-opacity="0.93" stroke="#2a2a2a" stroke-opacity="0.9" stroke-width="0.8"/>
<circle cx="143.7" cy="180.1" r="1.85" fill="#f79f7c" fill-opacity="0.93" stroke="#2a2a2a" stroke-opacity="0.9" stroke-width="0.8"/>
<circle cx="148.9" cy="179.4" r="1.85" fill="#f79f7c" fill-opacity="0.93" stroke="#2a2a2a" stroke-opacity="0.9" stroke-width="0.8"/>
<circle cx="151.7" cy="181.4" r="1.85" fill="#f79f7c" fill-opacity="0.93" stroke="#2a2a2a" stroke-opacity="0.9" stroke-width="0.8"/>
<circle cx="145.4" cy="183.1" r="1.85" fill="#f79f7c" fill-opacity="0.93" stroke="#2a2a2a" stroke-opacity="0.9" stroke-width="0.8"/>
<circle cx="123.4" cy="189.1" r="1.85" fill="#88dbba" fill-opacity="0.93" stroke="#2a2a2a" stroke-opacity="0.9" stroke-width="0.8"/>
<circle cx="144.8" cy="190.1" r="1.85" fill="#f79f7c" fill-opacity="0.93" stroke="#2a2a2a" stroke-opacity="0.9" stroke-width="0.8"/>
<circle cx="142.9" cy="199.9" r="1.85" fill="#f79f7c" fill-opacity="0.93" stroke="#2a2a2a" stroke-opacity="0.9" stroke-width="0.8"/>
<circle cx="160.8" cy="206.3" r="1.85" fill="#88dbba" fill-opacity="0.93" stroke="#2a2a2a" stroke-opacity="0.9" stroke-width="0.8"/>
<circle cx="175" cy="160.7" r="1.85" fill="#f79f7c" fill-opacity="0.93" stroke="#2a2a2a" stroke-opacity="0.9" stroke-width="0.8"/>
<circle cx="182.5" cy="169.6" r="1.85" fill="#f79f7c" fill-opacity="0.93" stroke="#2a2a2a" stroke-opacity="0.9" stroke-width="0.8"/>
<circle cx="191.5" cy="168.9" r="1.85" fill="#f79f7c" fill-opacity="0.93" stroke="#2a2a2a" stroke-opacity="0.9" stroke-width="0.8"/>
<circle cx="176.6" cy="172.3" r="1.85" fill="#88dbba" fill-opacity="0.93" stroke="#2a2a2a" stroke-opacity="0.9" stroke-width="0.8"/>
<circle cx="204" cy="159.2" r="1.85" fill="#f79f7c" fill-opacity="0.93" stroke="#2a2a2a" stroke-opacity="0.9" stroke-width="0.8"/>
<circle cx="211.8" cy="161.7" r="1.85" fill="#f79f7c" fill-opacity="0.93" stroke="#2a2a2a" stroke-opacity="0.9" stroke-width="0.8"/>
<circle cx="215.8" cy="167.7" r="1.85" fill="#f79f7c" fill-opacity="0.93" stroke="#2a2a2a" stroke-opacity="0.9" stroke-width="0.8"/>
<circle cx="214.6" cy="172.7" r="1.85" fill="#88dbba" fill-opacity="0.93" stroke="#2a2a2a" stroke-opacity="0.9" stroke-width="0.8"/>
<circle cx="231.8" cy="171.3" r="1.85" fill="#88dbba" fill-opacity="0.93" stroke="#2a2a2a" stroke-opacity="0.9" stroke-width="0.8"/>
<circle cx="224.5" cy="175.7" r="1.85" fill="#88dbba" fill-opacity="0.93" stroke="#2a2a2a" stroke-opacity="0.9" stroke-width="0.8"/>
<circle cx="234.1" cy="175.7" r="1.85" fill="#f79f7c" fill-opacity="0.93" stroke="#2a2a2a" stroke-opacity="0.9" stroke-width="0.8"/>
<circle cx="188.7" cy="177.5" r="1.85" fill="#f79f7c" fill-opacity="0.93" stroke="#2a2a2a" stroke-opacity="0.9" stroke-width="0.8"/>
<circle cx="187.4" cy="181.9" r="1.85" fill="#88dbba" fill-opacity="0.93" stroke="#2a2a2a" stroke-opacity="0.9" stroke-width="0.8"/>
<circle cx="200.5" cy="177.9" r="1.85" fill="#f79f7c" fill-opacity="0.93" stroke="#2a2a2a" stroke-opacity="0.9" stroke-width="0.8"/>
<circle cx="204.4" cy="181.4" r="1.85" fill="#f79f7c" fill-opacity="0.93" stroke="#2a2a2a" stroke-opacity="0.9" stroke-width="0.8"/>
<circle cx="212.7" cy="178.9" r="1.85" fill="#f79f7c" fill-opacity="0.93" stroke="#2a2a2a" stroke-opacity="0.9" stroke-width="0.8"/>
<circle cx="173.7" cy="186.6" r="1.85" fill="#88dbba" fill-opacity="0.93" stroke="#2a2a2a" stroke-opacity="0.9" stroke-width="0.8"/>
<circle cx="173.7" cy="189.4" r="1.85" fill="#f79f7c" fill-opacity="0.93" stroke="#2a2a2a" stroke-opacity="0.9" stroke-width="0.8"/>
<circle cx="192.8" cy="189.7" r="1.85" fill="#88dbba" fill-opacity="0.93" stroke="#2a2a2a" stroke-opacity="0.9" stroke-width="0.8"/>
<circle cx="192.4" cy="192.6" r="1.85" fill="#f79f7c" fill-opacity="0.93" stroke="#2a2a2a" stroke-opacity="0.9" stroke-width="0.8"/>
<circle cx="193" cy="195.7" r="1.85" fill="#f79f7c" fill-opacity="0.93" stroke="#2a2a2a" stroke-opacity="0.9" stroke-width="0.8"/>
<circle cx="208" cy="201.8" r="1.85" fill="#f79f7c" fill-opacity="0.93" stroke="#2a2a2a" stroke-opacity="0.9" stroke-width="0.8"/>
<circle cx="220.4" cy="199.7" r="1.85" fill="#88dbba" fill-opacity="0.93" stroke="#2a2a2a" stroke-opacity="0.9" stroke-width="0.8"/>
<circle cx="266.5" cy="180.1" r="1.85" fill="#f79f7c" fill-opacity="0.93" stroke="#2a2a2a" stroke-opacity="0.9" stroke-width="0.8"/>
<rect x="222.5" y="27.2" width="79" height="49.3" rx="2" fill="#fff" fill-opacity="0.8" stroke="#dcdcdc" stroke-width="0.8"/>
<text x="227" y="39" font-size="11" text-anchor="start" font-family="Liberation Serif, serif" fill="#1a1a1a" >mAge deviation</text>
<text x="262.4" y="54.6" font-size="11" text-anchor="start" font-family="Liberation Serif, serif" fill="#1a1a1a" >Lower</text>
<text x="262.4" y="69.8" font-size="11" text-anchor="start" font-family="Liberation Serif, serif" fill="#1a1a1a" >Higher</text>
<circle cx="242.6" cy="51.8" r="2.1" fill="#88dbba" stroke="#333" stroke-opacity="0.8" stroke-width="0.5"/>
<circle cx="242.6" cy="67.4" r="2.1" fill="#f79f7c" stroke="#333" stroke-opacity="0.8" stroke-width="0.5"/>
<rect x="29.5" y="21.5" width="278" height="193.5" fill="none" stroke="#747474" stroke-width="1.25"/>
<text x="167.5" y="241" font-size="12.6" text-anchor="middle" font-family="Liberation Serif, serif" fill="#1a1a1a" >PC1 (56.2% variance explained)</text>
<text x="0" y="0" font-size="12.8" text-anchor="middle" font-family="Liberation Serif, serif" fill="#1a1a1a" transform="translate(10.8 118.2) rotate(-90)">PC2 (24.7% variance explained)</text>
<text x="0.8" y="13.8" font-size="19.5" text-anchor="start" font-family="Liberation Serif, serif" fill="#1a1a1a" >A</text>
<line x1="456.4" y1="21.5" x2="456.4" y2="214.7" stroke="#d0d0d0" stroke-width="0.9" />
<line x1="503.2" y1="21.5" x2="503.2" y2="214.7" stroke="#d0d0d0" stroke-width="0.9" />
<line x1="550" y1="21.5" x2="550" y2="214.7" stroke="#d0d0d0" stroke-width="0.9" />
<line x1="596.8" y1="21.5" x2="596.8" y2="214.7" stroke="#d0d0d0" stroke-width="0.9" />
<line x1="643.6" y1="21.5" x2="643.6" y2="214.7" stroke="#d0d0d0" stroke-width="0.9" />
<line x1="414.3" y1="38.3" x2="683.6" y2="38.3" stroke="#d0d0d0" stroke-width="0.9" />
<line x1="414.3" y1="67.7" x2="683.6" y2="67.7" stroke="#d0d0d0" stroke-width="0.9" />
<line x1="414.3" y1="97.2" x2="683.6" y2="97.2" stroke="#d0d0d0" stroke-width="0.9" />
<line x1="414.3" y1="126.7" x2="683.6" y2="126.7" stroke="#d0d0d0" stroke-width="0.9" />
<line x1="414.3" y1="156.2" x2="683.6" y2="156.2" stroke="#d0d0d0" stroke-width="0.9" />
<line x1="414.3" y1="185.6" x2="683.6" y2="185.6" stroke="#d0d0d0" stroke-width="0.9" />
<line x1="456.4" y1="214.7" x2="456.4" y2="217.2" stroke="#444" stroke-width="0.8" />
<text x="456.4" y="227.3" font-size="11" text-anchor="middle" font-family="Liberation Serif, serif" fill="#1a1a1a" >-0.1</text>
<line x1="503.2" y1="214.7" x2="503.2" y2="217.2" stroke="#444" stroke-width="0.8" />
<text x="503.2" y="227.3" font-size="11" text-anchor="middle" font-family="Liberation Serif, serif" fill="#1a1a1a" >-0.1</text>
<line x1="550" y1="214.7" x2="550" y2="217.2" stroke="#444" stroke-width="0.8" />
<text x="550" y="227.3" font-size="11" text-anchor="middle" font-family="Liberation Serif, serif" fill="#1a1a1a" >0</text>
<line x1="596.8" y1="214.7" x2="596.8" y2="217.2" stroke="#444" stroke-width="0.8" />
<text x="596.8" y="227.3" font-size="11" text-anchor="middle" font-family="Liberation Serif, serif" fill="#1a1a1a" >0.0</text>
<line x1="643.6" y1="214.7" x2="643.6" y2="217.2" stroke="#444" stroke-width="0.8" />
<text x="643.6" y="227.3" font-size="11" text-anchor="middle" font-family="Liberation Serif, serif" fill="#1a1a1a" >0.1</text>
<line x1="411.8" y1="38.3" x2="414.3" y2="38.3" stroke="#444" stroke-width="0.8" />
<text x="410.5" y="42.04" font-size="11" text-anchor="end" font-family="Liberation Serif, serif" fill="#1a1a1a" >0.2</text>
<line x1="411.8" y1="67.7" x2="414.3" y2="67.7" stroke="#444" stroke-width="0.8" />
<text x="410.5" y="71.44" font-size="11" text-anchor="end" font-family="Liberation Serif, serif" fill="#1a1a1a" >0.1</text>
<line x1="411.8" y1="97.2" x2="414.3" y2="97.2" stroke="#444" stroke-width="0.8" />
<text x="410.5" y="100.94" font-size="11" text-anchor="end" font-family="Liberation Serif, serif" fill="#1a1a1a" >0.0</text>
<line x1="411.8" y1="126.7" x2="414.3" y2="126.7" stroke="#444" stroke-width="0.8" />
<text x="410.5" y="130.44" font-size="11" text-anchor="end" font-family="Liberation Serif, serif" fill="#1a1a1a" >0</text>
<line x1="411.8" y1="156.2" x2="414.3" y2="156.2" stroke="#444" stroke-width="0.8" />
<text x="410.5" y="159.94" font-size="11" text-anchor="end" font-family="Liberation Serif, serif" fill="#1a1a1a" >-0.1</text>
<line x1="411.8" y1="185.6" x2="414.3" y2="185.6" stroke="#444" stroke-width="0.8" />
<text x="410.5" y="189.34" font-size="11" text-anchor="end" font-family="Liberation Serif, serif" fill="#1a1a1a" >-0.1</text>
<ellipse cx="548.3" cy="123.4" rx="106" ry="68.3" transform="rotate(-0.45 548.3 123.4)" fill="none" stroke="#66c2a5" stroke-width="1.3" stroke-dasharray="3.6 2.2"/>
<ellipse cx="551.8" cy="130.2" rx="106.6" ry="66.3" transform="rotate(-4.9 551.8 130.2)" fill="none" stroke="#fc8d62" stroke-width="1.3" stroke-dasharray="3.6 2.2"/>
<polygon points="548.6,118.4 543.5,128.4 553.7,128.4" fill="#72cfab" stroke="#222" stroke-width="0.7" stroke-linejoin="miter"/>
<polygon points="551.7,126.3 546.6,136.3 556.8,136.3" fill="#f98c63" stroke="#222" stroke-width="0.7" stroke-linejoin="miter"/>
<circle cx="468.1" cy="63" r="1.85" fill="#88dbba" fill-opacity="0.93" stroke="#2a2a2a" stroke-opacity="0.9" stroke-width="0.8"/>
<circle cx="459.8" cy="70.8" r="1.85" fill="#f79f7c" fill-opacity="0.93" stroke="#2a2a2a" stroke-opacity="0.9" stroke-width="0.8"/>
<circle cx="473.9" cy="76.9" r="1.85" fill="#88dbba" fill-opacity="0.93" stroke="#2a2a2a" stroke-opacity="0.9" stroke-width="0.8"/>
<circle cx="465.8" cy="85.2" r="1.85" fill="#f79f7c" fill-opacity="0.93" stroke="#2a2a2a" stroke-opacity="0.9" stroke-width="0.8"/>
<circle cx="512.3" cy="30.4" r="1.85" fill="#88dbba" fill-opacity="0.93" stroke="#2a2a2a" stroke-opacity="0.9" stroke-width="0.8"/>
<circle cx="527.8" cy="55.3" r="1.85" fill="#f79f7c" fill-opacity="0.93" stroke="#2a2a2a" stroke-opacity="0.9" stroke-width="0.8"/>
<circle cx="520.6" cy="61.8" r="1.85" fill="#88dbba" fill-opacity="0.93" stroke="#2a2a2a" stroke-opacity="0.9" stroke-width="0.8"/>
<circle cx="522.8" cy="65" r="1.85" fill="#88dbba" fill-opacity="0.93" stroke="#2a2a2a" stroke-opacity="0.9" stroke-width="0.8"/>
<circle cx="508" cy="70.1" r="1.85" fill="#88dbba" fill-opacity="0.93" stroke="#2a2a2a" stroke-opacity="0.9" stroke-width="0.8"/>
<circle cx="530.9" cy="69.5" r="1.85" fill="#88dbba" fill-opacity="0.93" stroke="#2a2a2a" stroke-opacity="0.9" stroke-width="0.8"/>
<circle cx="527.8" cy="72.4" r="1.85" fill="#88dbba" fill-opacity="0.93" stroke="#2a2a2a" stroke-opacity="0.9" stroke-width="0.8"/>
<circle cx="529.8" cy="75.1" r="1.85" fill="#f79f7c" fill-opacity="0.93" stroke="#2a2a2a" stroke-opacity="0.9" stroke-width="0.8"/>
<circle cx="522.4" cy="75.1" r="1.85" fill="#88dbba" fill-opacity="0.93" stroke="#2a2a2a" stroke-opacity="0.9" stroke-width="0.8"/>
<circle cx="536.3" cy="75.8" r="1.85" fill="#88dbba" fill-opacity="0.93" stroke="#2a2a2a" stroke-opacity="0.9" stroke-width="0.8"/>
<circle cx="545.3" cy="65.7" r="1.85" fill="#f79f7c" fill-opacity="0.93" stroke="#2a2a2a" stroke-opacity="0.9" stroke-width="0.8"/>
<circle cx="546.6" cy="71.1" r="1.85" fill="#88dbba" fill-opacity="0.93" stroke="#2a2a2a" stroke-opacity="0.9" stroke-width="0.8"/>
<circle cx="545.9" cy="82.2" r="1.85" fill="#88dbba" fill-opacity="0.93" stroke="#2a2a2a" stroke-opacity="0.9" stroke-width="0.8"/>
<circle cx="546.6" cy="84.3" r="1.85" fill="#f79f7c" fill-opacity="0.93" stroke="#2a2a2a" stroke-opacity="0.9" stroke-width="0.8"/>
<circle cx="483.6" cy="75.8" r="1.85" fill="#f79f7c" fill-opacity="0.93" stroke="#2a2a2a" stroke-opacity="0.9" stroke-width="0.8"/>
<circle cx="481.6" cy="82.6" r="1.85" fill="#88dbba" fill-opacity="0.93" stroke="#2a2a2a" stroke-opacity="0.9" stroke-width="0.8"/>
<circle cx="569.5" cy="46.6" r="1.85" fill="#f79f7c" fill-opacity="0.93" stroke="#2a2a2a" stroke-opacity="0.9" stroke-width="0.8"/>
<circle cx="565.4" cy="56.7" r="1.85" fill="#88dbba" fill-opacity="0.93" stroke="#2a2a2a" stroke-opacity="0.9" stroke-width="0.8"/>
<circle cx="576.6" cy="57.6" r="1.85" fill="#88dbba" fill-opacity="0.93" stroke="#2a2a2a" stroke-opacity="0.9" stroke-width="0.8"/>
<circle cx="557.7" cy="65.4" r="1.85" fill="#88dbba" fill-opacity="0.93" stroke="#2a2a2a" stroke-opacity="0.9" stroke-width="0.8"/>
<circle cx="602.2" cy="63.8" r="1.85" fill="#88dbba" fill-opacity="0.93" stroke="#2a2a2a" stroke-opacity="0.9" stroke-width="0.8"/>
<circle cx="576.3" cy="74.6" r="1.85" fill="#88dbba" fill-opacity="0.93" stroke="#2a2a2a" stroke-opacity="0.9" stroke-width="0.8"/>
<circle cx="593.4" cy="73.5" r="1.85" fill="#f79f7c" fill-opacity="0.93" stroke="#2a2a2a" stroke-opacity="0.9" stroke-width="0.8"/>
<circle cx="587" cy="78.2" r="1.85" fill="#88dbba" fill-opacity="0.93" stroke="#2a2a2a" stroke-opacity="0.9" stroke-width="0.8"/>
<circle cx="571.9" cy="81.8" r="1.85" fill="#f79f7c" fill-opacity="0.93" stroke="#2a2a2a" stroke-opacity="0.9" stroke-width="0.8"/>
<circle cx="566.2" cy="84" r="1.85" fill="#88dbba" fill-opacity="0.93" stroke="#2a2a2a" stroke-opacity="0.9" stroke-width="0.8"/>
<circle cx="631.1" cy="75.1" r="1.85" fill="#f79f7c" fill-opacity="0.93" stroke="#2a2a2a" stroke-opacity="0.9" stroke-width="0.8"/>
<circle cx="639.5" cy="84.3" r="1.85" fill="#f79f7c" fill-opacity="0.93" stroke="#2a2a2a" stroke-opacity="0.9" stroke-width="0.8"/>
<circle cx="636.2" cy="86.3" r="1.85" fill="#f79f7c" fill-opacity="0.93" stroke="#2a2a2a" stroke-opacity="0.9" stroke-width="0.8"/>
<circle cx="448.3" cy="94.4" r="1.85" fill="#88dbba" fill-opacity="0.93" stroke="#2a2a2a" stroke-opacity="0.9" stroke-width="0.8"/>
<circle cx="462.5" cy="94.4" r="1.85" fill="#f79f7c" fill-opacity="0.93" stroke="#2a2a2a" stroke-opacity="0.9" stroke-width="0.8"/>
<circle cx="479.5" cy="88.6" r="1.85" fill="#88dbba" fill-opacity="0.93" stroke="#2a2a2a" stroke-opacity="0.9" stroke-width="0.8"/>
<circle cx="466.8" cy="100.5" r="1.85" fill="#88dbba" fill-opacity="0.93" stroke="#2a2a2a" stroke-opacity="0.9" stroke-width="0.8"/>
<circle cx="469.9" cy="103.4" r="1.85" fill="#f79f7c" fill-opacity="0.93" stroke="#2a2a2a" stroke-opacity="0.9" stroke-width="0.8"/>
<circle cx="464.9" cy="113.9" r="1.85" fill="#88dbba" fill-opacity="0.93" stroke="#2a2a2a" stroke-opacity="0.9" stroke-width="0.8"/>
<circle cx="480.9" cy="114.9" r="1.85" fill="#88dbba" fill-opacity="0.93" stroke="#2a2a2a" stroke-opacity="0.9" stroke-width="0.8"/>
<circle cx="470.5" cy="121.7" r="1.85" fill="#88dbba" fill-opacity="0.93" stroke="#2a2a2a" stroke-opacity="0.9" stroke-width="0.8"/>
<circle cx="472.8" cy="122.7" r="1.85" fill="#f79f7c" fill-opacity="0.93" stroke="#2a2a2a" stroke-opacity="0.9" stroke-width="0.8"/>
<circle cx="475.9" cy="124.4" r="1.85" fill="#88dbba" fill-opacity="0.93" stroke="#2a2a2a" stroke-opacity="0.9" stroke-width="0.8"/>
<circle cx="462.2" cy="129.8" r="1.85" fill="#88dbba" fill-opacity="0.93" stroke="#2a2a2a" stroke-opacity="0.9" stroke-width="0.8"/>
<circle cx="464.1" cy="131.8" r="1.85" fill="#f79f7c" fill-opacity="0.93" stroke="#2a2a2a" stroke-opacity="0.9" stroke-width="0.8"/>
<circle cx="468.1" cy="134.8" r="1.85" fill="#f79f7c" fill-opacity="0.93" stroke="#2a2a2a" stroke-opacity="0.9" stroke-width="0.8"/>
<circle cx="475" cy="139.5" r="1.85" fill="#88dbba" fill-opacity="0.93" stroke="#2a2a2a" stroke-opacity="0.9" stroke-width="0.8"/>
<circle cx="480.9" cy="138.8" r="1.85" fill="#88dbba" fill-opacity="0.93" stroke="#2a2a2a" stroke-opacity="0.9" stroke-width="0.8"/>
<circle cx="469.5" cy="142.9" r="1.85" fill="#f79f7c" fill-opacity="0.93" stroke="#2a2a2a" stroke-opacity="0.9" stroke-width="0.8"/>
<circle cx="460" cy="141.1" r="1.85" fill="#88dbba" fill-opacity="0.93" stroke="#2a2a2a" stroke-opacity="0.9" stroke-width="0.8"/>
<circle cx="457.3" cy="143.5" r="1.85" fill="#88dbba" fill-opacity="0.93" stroke="#2a2a2a" stroke-opacity="0.9" stroke-width="0.8"/>
<circle cx="426.8" cy="142.5" r="1.85" fill="#88dbba" fill-opacity="0.93" stroke="#2a2a2a" stroke-opacity="0.9" stroke-width="0.8"/>
<circle cx="442.5" cy="147.3" r="1.85" fill="#88dbba" fill-opacity="0.93" stroke="#2a2a2a" stroke-opacity="0.9" stroke-width="0.8"/>
<circle cx="475.6" cy="146.5" r="1.85" fill="#f79f7c" fill-opacity="0.93" stroke="#2a2a2a" stroke-opacity="0.9" stroke-width="0.8"/>
<circle cx="475.6" cy="149.6" r="1.85" fill="#f79f7c" fill-opacity="0.93" stroke="#2a2a2a" stroke-opacity="0.9" stroke-width="0.8"/>
<circle cx="478.3" cy="150.3" r="1.85" fill="#f79f7c" fill-opacity="0.93" stroke="#2a2a2a" stroke-opacity="0.9" stroke-width="0.8"/>
<circle cx="480.9" cy="151.6" r="1.85" fill="#f79f7c" fill-opacity="0.93" stroke="#2a2a2a" stroke-opacity="0.9" stroke-width="0.8"/>
<circle cx="497.2" cy="90.3" r="1.85" fill="#f79f7c" fill-opacity="0.93" stroke="#2a2a2a" stroke-opacity="0.9" stroke-width="0.8"/>
<circle cx="503.7" cy="93.8" r="1.85" fill="#88dbba" fill-opacity="0.93" stroke="#2a2a2a" stroke-opacity="0.9" stroke-width="0.8"/>
<circle cx="501.8" cy="96.2" r="1.85" fill="#88dbba" fill-opacity="0.93" stroke="#2a2a2a" stroke-opacity="0.9" stroke-width="0.8"/>
<circle cx="494.5" cy="99.6" r="1.85" fill="#f79f7c" fill-opacity="0.93" stroke="#2a2a2a" stroke-opacity="0.9" stroke-width="0.8"/>
<circle cx="487.6" cy="102.6" r="1.85" fill="#88dbba" fill-opacity="0.93" stroke="#2a2a2a" stroke-opacity="0.9" stroke-width="0.8"/>
<circle cx="488.3" cy="105.6" r="1.85" fill="#f79f7c" fill-opacity="0.93" stroke="#2a2a2a" stroke-opacity="0.9" stroke-width="0.8"/>
<circle cx="487.5" cy="111" r="1.85" fill="#88dbba" fill-opacity="0.93" stroke="#2a2a2a" stroke-opacity="0.9" stroke-width="0.8"/>
<circle cx="502" cy="115.1" r="1.85" fill="#88dbba" fill-opacity="0.93" stroke="#2a2a2a" stroke-opacity="0.9" stroke-width="0.8"/>
<circle cx="504.9" cy="113.7" r="1.85" fill="#88dbba" fill-opacity="0.93" stroke="#2a2a2a" stroke-opacity="0.9" stroke-width="0.8"/>
<circle cx="511.5" cy="114.8" r="1.85" fill="#88dbba" fill-opacity="0.93" stroke="#2a2a2a" stroke-opacity="0.9" stroke-width="0.8"/>
<circle cx="514.4" cy="106.4" r="1.85" fill="#f79f7c" fill-opacity="0.93" stroke="#2a2a2a" stroke-opacity="0.9" stroke-width="0.8"/>
<circle cx="516.6" cy="91.2" r="1.85" fill="#f79f7c" fill-opacity="0.93" stroke="#2a2a2a" stroke-opacity="0.9" stroke-width="0.8"/>
<circle cx="522.1" cy="92.8" r="1.85" fill="#f79f7c" fill-opacity="0.93" stroke="#2a2a2a" stroke-opacity="0.9" stroke-width="0.8"/>
<circle cx="523.2" cy="95.2" r="1.85" fill="#88dbba" fill-opacity="0.93" stroke="#2a2a2a" stroke-opacity="0.9" stroke-width="0.8"/>
<circle cx="522.2" cy="96.6" r="1.85" fill="#f79f7c" fill-opacity="0.93" stroke="#2a2a2a" stroke-opacity="0.9" stroke-width="0.8"/>
<circle cx="527.3" cy="94.2" r="1.85" fill="#f79f7c" fill-opacity="0.93" stroke="#2a2a2a" stroke-opacity="0.9" stroke-width="0.8"/>
<circle cx="532.3" cy="95.9" r="1.85" fill="#88dbba" fill-opacity="0.93" stroke="#2a2a2a" stroke-opacity="0.9" stroke-width="0.8"/>
<circle cx="530.1" cy="97.8" r="1.85" fill="#f79f7c" fill-opacity="0.93" stroke="#2a2a2a" stroke-opacity="0.9" stroke-width="0.8"/>
<circle cx="534.4" cy="97.6" r="1.85" fill="#f79f7c" fill-opacity="0.93" stroke="#2a2a2a" stroke-opacity="0.9" stroke-width="0.8"/>
<circle cx="537.4" cy="91.9" r="1.85" fill="#f79f7c" fill-opacity="0.93" stroke="#2a2a2a" stroke-opacity="0.9" stroke-width="0.8"/>
<circle cx="548.5" cy="91.8" r="1.85" fill="#f79f7c" fill-opacity="0.93" stroke="#2a2a2a" stroke-opacity="0.9" stroke-width="0.8"/>
<circle cx="540.8" cy="99.3" r="1.85" fill="#88dbba" fill-opacity="0.93" stroke="#2a2a2a" stroke-opacity="0.9" stroke-width="0.8"/>
<circle cx="543.9" cy="99.6" r="1.85" fill="#f79f7c" fill-opacity="0.93" stroke="#2a2a2a" stroke-opacity="0.9" stroke-width="0.8"/>
<circle cx="547.1" cy="97.8" r="1.85" fill="#f79f7c" fill-opacity="0.93" stroke="#2a2a2a" stroke-opacity="0.9" stroke-width="0.8"/>
<circle cx="543.5" cy="102.4" r="1.85" fill="#88dbba" fill-opacity="0.93" stroke="#2a2a2a" stroke-opacity="0.9" stroke-width="0.8"/>
<circle cx="544.9" cy="103.3" r="1.85" fill="#88dbba" fill-opacity="0.93" stroke="#2a2a2a" stroke-opacity="0.9" stroke-width="0.8"/>
<circle cx="518.6" cy="106" r="1.85" fill="#88dbba" fill-opacity="0.93" stroke="#2a2a2a" stroke-opacity="0.9" stroke-width="0.8"/>
<circle cx="521.7" cy="109.5" r="1.85" fill="#f79f7c" fill-opacity="0.93" stroke="#2a2a2a" stroke-opacity="0.9" stroke-width="0.8"/>
<circle cx="526.8" cy="107.8" r="1.85" fill="#88dbba" fill-opacity="0.93" stroke="#2a2a2a" stroke-opacity="0.9" stroke-width="0.8"/>
<circle cx="527.7" cy="113.1" r="1.85" fill="#88dbba" fill-opacity="0.93" stroke="#2a2a2a" stroke-opacity="0.9" stroke-width="0.8"/>
<circle cx="542.7" cy="108.5" r="1.85" fill="#f79f7c" fill-opacity="0.93" stroke="#2a2a2a" stroke-opacity="0.9" stroke-width="0.8"/>
<circle cx="537.2" cy="111.9" r="1.85" fill="#f79f7c" fill-opacity="0.93" stroke="#2a2a2a" stroke-opacity="0.9" stroke-width="0.8"/>
<circle cx="535.7" cy="116" r="1.85" fill="#f79f7c" fill-opacity="0.93" stroke="#2a2a2a" stroke-opacity="0.9" stroke-width="0.8"/>
<circle cx="536.5" cy="117.4" r="1.85" fill="#88dbba" fill-opacity="0.93" stroke="#2a2a2a" stroke-opacity="0.9" stroke-width="0.8"/>
<circle cx="541" cy="115.1" r="1.85" fill="#f79f7c" fill-opacity="0.93" stroke="#2a2a2a" stroke-opacity="0.9" stroke-width="0.8"/>
<circle cx="544.4" cy="116.5" r="1.85" fill="#f79f7c" fill-opacity="0.93" stroke="#2a2a2a" stroke-opacity="0.9" stroke-width="0.8"/>
<circle cx="518.1" cy="117.1" r="1.85" fill="#88dbba" fill-opacity="0.93" stroke="#2a2a2a" stroke-opacity="0.9" stroke-width="0.8"/>
<circle cx="519.8" cy="116" r="1.85" fill="#88dbba" fill-opacity="0.93" stroke="#2a2a2a" stroke-opacity="0.9" stroke-width="0.8"/>
<circle cx="490.9" cy="121.7" r="1.85" fill="#f79f7c" fill-opacity="0.93" stroke="#2a2a2a" stroke-opacity="0.9" stroke-width="0.8"/>
<circle cx="482.9" cy="124.1" r="1.85" fill="#88dbba" fill-opacity="0.93" stroke="#2a2a2a" stroke-opacity="0.9" stroke-width="0.8"/>
<circle cx="486.7" cy="125.1" r="1.85" fill="#f79f7c" fill-opacity="0.93" stroke="#2a2a2a" stroke-opacity="0.9" stroke-width="0.8"/>
<circle cx="490.1" cy="124.9" r="1.85" fill="#88dbba" fill-opacity="0.93" stroke="#2a2a2a" stroke-opacity="0.9" stroke-width="0.8"/>
<circle cx="493.3" cy="124.8" r="1.85" fill="#88dbba" fill-opacity="0.93" stroke="#2a2a2a" stroke-opacity="0.9" stroke-width="0.8"/>
<circle cx="482.6" cy="128.2" r="1.85" fill="#88dbba" fill-opacity="0.93" stroke="#2a2a2a" stroke-opacity="0.9" stroke-width="0.8"/>
<circle cx="488.3" cy="130.6" r="1.85" fill="#f79f7c" fill-opacity="0.93" stroke="#2a2a2a" stroke-opacity="0.9" stroke-width="0.8"/>
<circle cx="485.1" cy="133.3" r="1.85" fill="#f79f7c" fill-opacity="0.93" stroke="#2a2a2a" stroke-opacity="0.9" stroke-width="0.8"/>
<circle cx="487.2" cy="137.1" r="1.85" fill="#f79f7c" fill-opacity="0.93" stroke="#2a2a2a" stroke-opacity="0.9" stroke-width="0.8"/>
<circle cx="494" cy="144" r="1.85" fill="#f79f7c" fill-opacity="0.93" stroke="#2a2a2a" stroke-opacity="0.9" stroke-width="0.8"/>
<circle cx="498.1" cy="143.5" r="1.85" fill="#f79f7c" fill-opacity="0.93" stroke="#2a2a2a" stroke-opacity="0.9" stroke-width="0.8"/>
<circle cx="499.8" cy="144.6" r="1.85" fill="#f79f7c" fill-opacity="0.93" stroke="#2a2a2a" stroke-opacity="0.9" stroke-width="0.8"/>
<circle cx="489.7" cy="149" r="1.85" fill="#f79f7c" fill-opacity="0.93" stroke="#2a2a2a" stroke-opacity="0.9" stroke-width="0.8"/>
<circle cx="489.2" cy="151.5" r="1.85" fill="#f79f7c" fill-opacity="0.93" stroke="#2a2a2a" stroke-opacity="0.9" stroke-width="0.8"/>
<circle cx="490.8" cy="152.1" r="1.85" fill="#f79f7c" fill-opacity="0.93" stroke="#2a2a2a" stroke-opacity="0.9" stroke-width="0.8"/>
<circle cx="484.8" cy="153.1" r="1.85" fill="#88dbba" fill-opacity="0.93" stroke="#2a2a2a" stroke-opacity="0.9" stroke-width="0.8"/>
<circle cx="508.6" cy="146.3" r="1.85" fill="#f79f7c" fill-opacity="0.93" stroke="#2a2a2a" stroke-opacity="0.9" stroke-width="0.8"/>
<circle cx="507.6" cy="149" r="1.85" fill="#88dbba" fill-opacity="0.93" stroke="#2a2a2a" stroke-opacity="0.9" stroke-width="0.8"/>
<circle cx="511.5" cy="149.7" r="1.85" fill="#88dbba" fill-opacity="0.93" stroke="#2a2a2a" stroke-opacity="0.9" stroke-width="0.8"/>
<circle cx="532.4" cy="121" r="1.85" fill="#88dbba" fill-opacity="0.93" stroke="#2a2a2a" stroke-opacity="0.9" stroke-width="0.8"/>
<circle cx="518.9" cy="124.6" r="1.85" fill="#f79f7c" fill-opacity="0.93" stroke="#2a2a2a" stroke-opacity="0.9" stroke-width="0.8"/>
<circle cx="525.5" cy="124.1" r="1.85" fill="#88dbba" fill-opacity="0.93" stroke="#2a2a2a" stroke-opacity="0.9" stroke-width="0.8"/>
<circle cx="529.8" cy="128.1" r="1.85" fill="#f79f7c" fill-opacity="0.93" stroke="#2a2a2a" stroke-opacity="0.9" stroke-width="0.8"/>
<circle cx="530.5" cy="131.5" r="1.85" fill="#88dbba" fill-opacity="0.93" stroke="#2a2a2a" stroke-opacity="0.9" stroke-width="0.8"/>
<circle cx="533.5" cy="133.3" r="1.85" fill="#f79f7c" fill-opacity="0.93" stroke="#2a2a2a" stroke-opacity="0.9" stroke-width="0.8"/>
<circle cx="535.7" cy="136.4" r="1.85" fill="#f79f7c" fill-opacity="0.93" stroke="#2a2a2a" stroke-opacity="0.9" stroke-width="0.8"/>
<circle cx="537.6" cy="139.5" r="1.85" fill="#88dbba" fill-opacity="0.93" stroke="#2a2a2a" stroke-opacity="0.9" stroke-width="0.8"/>
<circle cx="520.8" cy="132" r="1.85" fill="#f79f7c" fill-opacity="0.93" stroke="#2a2a2a" stroke-opacity="0.9" stroke-width="0.8"/>
<circle cx="521.9" cy="137.6" r="1.85" fill="#f79f7c" fill-opacity="0.93" stroke="#2a2a2a" stroke-opacity="0.9" stroke-width="0.8"/>
<circle cx="520" cy="139.5" r="1.85" fill="#f79f7c" fill-opacity="0.93" stroke="#2a2a2a" stroke-opacity="0.9" stroke-width="0.8"/>
<circle cx="526.4" cy="139.1" r="1.85" fill="#f79f7c" fill-opacity="0.93" stroke="#2a2a2a" stroke-opacity="0.9" stroke-width="0.8"/>
<circle cx="515.7" cy="141" r="1.85" fill="#88dbba" fill-opacity="0.93" stroke="#2a2a2a" stroke-opacity="0.9" stroke-width="0.8"/>
<circle cx="520.8" cy="143.2" r="1.85" fill="#88dbba" fill-opacity="0.93" stroke="#2a2a2a" stroke-opacity="0.9" stroke-width="0.8"/>
<circle cx="515.9" cy="151.4" r="1.85" fill="#f79f7c" fill-opacity="0.93" stroke="#2a2a2a" stroke-opacity="0.9" stroke-width="0.8"/>
<circle cx="547.3" cy="141.9" r="1.85" fill="#88dbba" fill-opacity="0.93" stroke="#2a2a2a" stroke-opacity="0.9" stroke-width="0.8"/>
<circle cx="548.8" cy="148.7" r="1.85" fill="#88dbba" fill-opacity="0.93" stroke="#2a2a2a" stroke-opacity="0.9" stroke-width="0.8"/>
<circle cx="546.7" cy="152.6" r="1.85" fill="#88dbba" fill-opacity="0.93" stroke="#2a2a2a" stroke-opacity="0.9" stroke-width="0.8"/>
<circle cx="565.7" cy="89.4" r="1.85" fill="#f79f7c" fill-opacity="0.93" stroke="#2a2a2a" stroke-opacity="0.9" stroke-width="0.8"/>
<circle cx="574.4" cy="89.9" r="1.85" fill="#88dbba" fill-opacity="0.93" stroke="#2a2a2a" stroke-opacity="0.9" stroke-width="0.8"/>
<circle cx="582.6" cy="88" r="1.85" fill="#88dbba" fill-opacity="0.93" stroke="#2a2a2a" stroke-opacity="0.9" stroke-width="0.8"/>
<circle cx="572.2" cy="96.2" r="1.85" fill="#88dbba" fill-opacity="0.93" stroke="#2a2a2a" stroke-opacity="0.9" stroke-width="0.8"/>
<circle cx="578.9" cy="96.9" r="1.85" fill="#f79f7c" fill-opacity="0.93" stroke="#2a2a2a" stroke-opacity="0.9" stroke-width="0.8"/>
<circle cx="583.5" cy="93.8" r="1.85" fill="#f79f7c" fill-opacity="0.93" stroke="#2a2a2a" stroke-opacity="0.9" stroke-width="0.8"/>
<circle cx="578" cy="103.5" r="1.85" fill="#88dbba" fill-opacity="0.93" stroke="#2a2a2a" stroke-opacity="0.9" stroke-width="0.8"/>
<circle cx="578.5" cy="106.9" r="1.85" fill="#88dbba" fill-opacity="0.93" stroke="#2a2a2a" stroke-opacity="0.9" stroke-width="0.8"/>
<circle cx="570.7" cy="106.7" r="1.85" fill="#88dbba" fill-opacity="0.93" stroke="#2a2a2a" stroke-opacity="0.9" stroke-width="0.8"/>
<circle cx="584.5" cy="108.9" r="1.85" fill="#f79f7c" fill-opacity="0.93" stroke="#2a2a2a" stroke-opacity="0.9" stroke-width="0.8"/>
<circle cx="583.5" cy="112.1" r="1.85" fill="#88dbba" fill-opacity="0.93" stroke="#2a2a2a" stroke-opacity="0.9" stroke-width="0.8"/>
<circle cx="580.6" cy="114.5" r="1.85" fill="#88dbba" fill-opacity="0.93" stroke="#2a2a2a" stroke-opacity="0.9" stroke-width="0.8"/>
<circle cx="577" cy="115" r="1.85" fill="#88dbba" fill-opacity="0.93" stroke="#2a2a2a" stroke-opacity="0.9" stroke-width="0.8"/>
<circle cx="570.7" cy="118.6" r="1.85" fill="#f79f7c" fill-opacity="0.93" stroke="#2a2a2a" stroke-opacity="0.9" stroke-width="0.8"/>
<circle cx="566.9" cy="120.3" r="1.85" fill="#88dbba" fill-opacity="0.93" stroke="#2a2a2a" stroke-opacity="0.9" stroke-width="0.8"/>
<circle cx="551" cy="113.8" r="1.85" fill="#88dbba" fill-opacity="0.93" stroke="#2a2a2a" stroke-opacity="0.9" stroke-width="0.8"/>
<circle cx="553.2" cy="117.1" r="1.85" fill="#f79f7c" fill-opacity="0.93" stroke="#2a2a2a" stroke-opacity="0.9" stroke-width="0.8"/>
<circle cx="552.8" cy="120.7" r="1.85" fill="#f79f7c" fill-opacity="0.93" stroke="#2a2a2a" stroke-opacity="0.9" stroke-width="0.8"/>
<circle cx="576" cy="121.9" r="1.85" fill="#f79f7c" fill-opacity="0.93" stroke="#2a2a2a" stroke-opacity="0.9" stroke-width="0.8"/>
<circle cx="556.2" cy="123.8" r="1.85" fill="#88dbba" fill-opacity="0.93" stroke="#2a2a2a" stroke-opacity="0.9" stroke-width="0.8"/>
<circle cx="560.6" cy="124.9" r="1.85" fill="#88dbba" fill-opacity="0.93" stroke="#2a2a2a" stroke-opacity="0.9" stroke-width="0.8"/>
<circle cx="556.9" cy="126.5" r="1.85" fill="#f79f7c" fill-opacity="0.93" stroke="#2a2a2a" stroke-opacity="0.9" stroke-width="0.8"/>
<circle cx="582.3" cy="127.9" r="1.85" fill="#f79f7c" fill-opacity="0.93" stroke="#2a2a2a" stroke-opacity="0.9" stroke-width="0.8"/>
<circle cx="565.4" cy="130.6" r="1.85" fill="#88dbba" fill-opacity="0.93" stroke="#2a2a2a" stroke-opacity="0.9" stroke-width="0.8"/>
<circle cx="560.6" cy="136.3" r="1.85" fill="#f79f7c" fill-opacity="0.93" stroke="#2a2a2a" stroke-opacity="0.9" stroke-width="0.8"/>
<circle cx="553.6" cy="143.2" r="1.85" fill="#88dbba" fill-opacity="0.93" stroke="#2a2a2a" stroke-opacity="0.9" stroke-width="0.8"/>
<circle cx="558.2" cy="145.8" r="1.85" fill="#f79f7c" fill-opacity="0.93" stroke="#2a2a2a" stroke-opacity="0.9" stroke-width="0.8"/>
<circle cx="561.3" cy="150.9" r="1.85" fill="#f79f7c" fill-opacity="0.93" stroke="#2a2a2a" stroke-opacity="0.9" stroke-width="0.8"/>
<circle cx="577.3" cy="149.5" r="1.85" fill="#f79f7c" fill-opacity="0.93" stroke="#2a2a2a" stroke-opacity="0.9" stroke-width="0.8"/>
<circle cx="584.2" cy="146.3" r="1.85" fill="#f79f7c" fill-opacity="0.93" stroke="#2a2a2a" stroke-opacity="0.9" stroke-width="0.8"/>
<circle cx="584.2" cy="151.4" r="1.85" fill="#f79f7c" fill-opacity="0.93" stroke="#2a2a2a" stroke-opacity="0.9" stroke-width="0.8"/>
<circle cx="590.1" cy="90.8" r="1.85" fill="#88dbba" fill-opacity="0.93" stroke="#2a2a2a" stroke-opacity="0.9" stroke-width="0.8"/>
<circle cx="592.5" cy="89.9" r="1.85" fill="#f79f7c" fill-opacity="0.93" stroke="#2a2a2a" stroke-opacity="0.9" stroke-width="0.8"/>
<circle cx="594.2" cy="90.3" r="1.85" fill="#88dbba" fill-opacity="0.93" stroke="#2a2a2a" stroke-opacity="0.9" stroke-width="0.8"/>
<circle cx="598.3" cy="91.6" r="1.85" fill="#f79f7c" fill-opacity="0.93" stroke="#2a2a2a" stroke-opacity="0.9" stroke-width="0.8"/>
<circle cx="589.3" cy="94.2" r="1.85" fill="#f79f7c" fill-opacity="0.93" stroke="#2a2a2a" stroke-opacity="0.9" stroke-width="0.8"/>
<circle cx="596.8" cy="95.5" r="1.85" fill="#f79f7c" fill-opacity="0.93" stroke="#2a2a2a" stroke-opacity="0.9" stroke-width="0.8"/>
<circle cx="612.3" cy="89.2" r="1.85" fill="#f79f7c" fill-opacity="0.93" stroke="#2a2a2a" stroke-opacity="0.9" stroke-width="0.8"/>
<circle cx="610.6" cy="93.8" r="1.85" fill="#88dbba" fill-opacity="0.93" stroke="#2a2a2a" stroke-opacity="0.9" stroke-width="0.8"/>
<circle cx="611.7" cy="96.6" r="1.85" fill="#f79f7c" fill-opacity="0.93" stroke="#2a2a2a" stroke-opacity="0.9" stroke-width="0.8"/>
<circle cx="608.9" cy="98.3" r="1.85" fill="#f79f7c" fill-opacity="0.93" stroke="#2a2a2a" stroke-opacity="0.9" stroke-width="0.8"/>
<circle cx="588.9" cy="100.1" r="1.85" fill="#88dbba" fill-opacity="0.93" stroke="#2a2a2a" stroke-opacity="0.9" stroke-width="0.8"/>
<circle cx="598" cy="101" r="1.85" fill="#f79f7c" fill-opacity="0.93" stroke="#2a2a2a" stroke-opacity="0.9" stroke-width="0.8"/>
<circle cx="590.3" cy="104.6" r="1.85" fill="#f79f7c" fill-opacity="0.93" stroke="#2a2a2a" stroke-opacity="0.9" stroke-width="0.8"/>
<circle cx="592.5" cy="106.8" r="1.85" fill="#88dbba" fill-opacity="0.93" stroke="#2a2a2a" stroke-opacity="0.9" stroke-width="0.8"/>
<circle cx="590.1" cy="107.5" r="1.85" fill="#f79f7c" fill-opacity="0.93" stroke="#2a2a2a" stroke-opacity="0.9" stroke-width="0.8"/>
<circle cx="588.2" cy="110.6" r="1.85" fill="#f79f7c" fill-opacity="0.93" stroke="#2a2a2a" stroke-opacity="0.9" stroke-width="0.8"/>
<circle cx="592.7" cy="110.4" r="1.85" fill="#f79f7c" fill-opacity="0.93" stroke="#2a2a2a" stroke-opacity="0.9" stroke-width="0.8"/>
<circle cx="607.6" cy="105.6" r="1.85" fill="#88dbba" fill-opacity="0.93" stroke="#2a2a2a" stroke-opacity="0.9" stroke-width="0.8"/>
<circle cx="609.1" cy="107.6" r="1.85" fill="#88dbba" fill-opacity="0.93" stroke="#2a2a2a" stroke-opacity="0.9" stroke-width="0.8"/>
<circle cx="588.9" cy="117.9" r="1.85" fill="#88dbba" fill-opacity="0.93" stroke="#2a2a2a" stroke-opacity="0.9" stroke-width="0.8"/>
<circle cx="601.4" cy="119" r="1.85" fill="#88dbba" fill-opacity="0.93" stroke="#2a2a2a" stroke-opacity="0.9" stroke-width="0.8"/>
<circle cx="610.8" cy="116.9" r="1.85" fill="#f79f7c" fill-opacity="0.93" stroke="#2a2a2a" stroke-opacity="0.9" stroke-width="0.8"/>
<circle cx="587.6" cy="124.4" r="1.85" fill="#88dbba" fill-opacity="0.93" stroke="#2a2a2a" stroke-opacity="0.9" stroke-width="0.8"/>
<circle cx="609.8" cy="121.9" r="1.85" fill="#88dbba" fill-opacity="0.93" stroke="#2a2a2a" stroke-opacity="0.9" stroke-width="0.8"/>
<circle cx="614.6" cy="124.9" r="1.85" fill="#f79f7c" fill-opacity="0.93" stroke="#2a2a2a" stroke-opacity="0.9" stroke-width="0.8"/>
<circle cx="588.8" cy="132" r="1.85" fill="#88dbba" fill-opacity="0.93" stroke="#2a2a2a" stroke-opacity="0.9" stroke-width="0.8"/>
<circle cx="588.4" cy="134.7" r="1.85" fill="#88dbba" fill-opacity="0.93" stroke="#2a2a2a" stroke-opacity="0.9" stroke-width="0.8"/>
<circle cx="591.7" cy="138.3" r="1.85" fill="#f79f7c" fill-opacity="0.93" stroke="#2a2a2a" stroke-opacity="0.9" stroke-width="0.8"/>
<circle cx="592.5" cy="142.7" r="1.85" fill="#f79f7c" fill-opacity="0.93" stroke="#2a2a2a" stroke-opacity="0.9" stroke-width="0.8"/>
<circle cx="600.4" cy="135" r="1.85" fill="#f79f7c" fill-opacity="0.93" stroke="#2a2a2a" stroke-opacity="0.9" stroke-width="0.8"/>
<circle cx="608.9" cy="134.3" r="1.85" fill="#88dbba" fill-opacity="0.93" stroke="#2a2a2a" stroke-opacity="0.9" stroke-width="0.8"/>
<circle cx="613.4" cy="140.5" r="1.85" fill="#88dbba" fill-opacity="0.93" stroke="#2a2a2a" stroke-opacity="0.9" stroke-width="0.8"/>
<circle cx="617.1" cy="139.8" r="1.85" fill="#88dbba" fill-opacity="0.93" stroke="#2a2a2a" stroke-opacity="0.9" stroke-width="0.8"/>
<circle cx="618.5" cy="136.7" r="1.85" fill="#f79f7c" fill-opacity="0.93" stroke="#2a2a2a" stroke-opacity="0.9" stroke-width="0.8"/>
<circle cx="619.2" cy="145.6" r="1.85" fill="#f79f7c" fill-opacity="0.93" stroke="#2a2a2a" stroke-opacity="0.9" stroke-width="0.8"/>
<circle cx="589.5" cy="150.7" r="1.85" fill="#f79f7c" fill-opacity="0.93" stroke="#2a2a2a" stroke-opacity="0.9" stroke-width="0.8"/>
<circle cx="594.1" cy="149.5" r="1.85" fill="#88dbba" fill-opacity="0.93" stroke="#2a2a2a" stroke-opacity="0.9" stroke-width="0.8"/>
<circle cx="659" cy="93.3" r="1.85" fill="#88dbba" fill-opacity="0.93" stroke="#2a2a2a" stroke-opacity="0.9" stroke-width="0.8"/>
<circle cx="623.1" cy="95.7" r="1.85" fill="#88dbba" fill-opacity="0.93" stroke="#2a2a2a" stroke-opacity="0.9" stroke-width="0.8"/>
<circle cx="624.1" cy="97.8" r="1.85" fill="#88dbba" fill-opacity="0.93" stroke="#2a2a2a" stroke-opacity="0.9" stroke-width="0.8"/>
<circle cx="631.1" cy="103.2" r="1.85" fill="#f79f7c" fill-opacity="0.93" stroke="#2a2a2a" stroke-opacity="0.9" stroke-width="0.8"/>
<circle cx="633.5" cy="106.1" r="1.85" fill="#88dbba" fill-opacity="0.93" stroke="#2a2a2a" stroke-opacity="0.9" stroke-width="0.8"/>
<circle cx="622.3" cy="107.5" r="1.85" fill="#88dbba" fill-opacity="0.93" stroke="#2a2a2a" stroke-opacity="0.9" stroke-width="0.8"/>
<circle cx="629.8" cy="109.2" r="1.85" fill="#f79f7c" fill-opacity="0.93" stroke="#2a2a2a" stroke-opacity="0.9" stroke-width="0.8"/>
<circle cx="627" cy="111.2" r="1.85" fill="#f79f7c" fill-opacity="0.93" stroke="#2a2a2a" stroke-opacity="0.9" stroke-width="0.8"/>
<circle cx="636.6" cy="110.6" r="1.85" fill="#f79f7c" fill-opacity="0.93" stroke="#2a2a2a" stroke-opacity="0.9" stroke-width="0.8"/>
<circle cx="641.8" cy="112.3" r="1.85" fill="#f79f7c" fill-opacity="0.93" stroke="#2a2a2a" stroke-opacity="0.9" stroke-width="0.8"/>
<circle cx="651.9" cy="103.8" r="1.85" fill="#f79f7c" fill-opacity="0.93" stroke="#2a2a2a" stroke-opacity="0.9" stroke-width="0.8"/>
<circle cx="659.7" cy="109.2" r="1.85" fill="#f79f7c" fill-opacity="0.93" stroke="#2a2a2a" stroke-opacity="0.9" stroke-width="0.8"/>
<circle cx="646.3" cy="118.9" r="1.85" fill="#88dbba" fill-opacity="0.93" stroke="#2a2a2a" stroke-opacity="0.9" stroke-width="0.8"/>
<circle cx="634.4" cy="120.9" r="1.85" fill="#f79f7c" fill-opacity="0.93" stroke="#2a2a2a" stroke-opacity="0.9" stroke-width="0.8"/>
<circle cx="671.6" cy="122.7" r="1.85" fill="#f79f7c" fill-opacity="0.93" stroke="#2a2a2a" stroke-opacity="0.9" stroke-width="0.8"/>
<circle cx="637.9" cy="132.1" r="1.85" fill="#88dbba" fill-opacity="0.93" stroke="#2a2a2a" stroke-opacity="0.9" stroke-width="0.8"/>
<circle cx="642.9" cy="130.3" r="1.85" fill="#88dbba" fill-opacity="0.93" stroke="#2a2a2a" stroke-opacity="0.9" stroke-width="0.8"/>
<circle cx="660.8" cy="130.7" r="1.85" fill="#88dbba" fill-opacity="0.93" stroke="#2a2a2a" stroke-opacity="0.9" stroke-width="0.8"/>
<circle cx="627" cy="140.2" r="1.85" fill="#f79f7c" fill-opacity="0.93" stroke="#2a2a2a" stroke-opacity="0.9" stroke-width="0.8"/>
<circle cx="636.4" cy="141.5" r="1.85" fill="#f79f7c" fill-opacity="0.93" stroke="#2a2a2a" stroke-opacity="0.9" stroke-width="0.8"/>
<circle cx="639.5" cy="141.9" r="1.85" fill="#88dbba" fill-opacity="0.93" stroke="#2a2a2a" stroke-opacity="0.9" stroke-width="0.8"/>
<circle cx="641.8" cy="142.2" r="1.85" fill="#88dbba" fill-opacity="0.93" stroke="#2a2a2a" stroke-opacity="0.9" stroke-width="0.8"/>
<circle cx="641.8" cy="144.6" r="1.85" fill="#88dbba" fill-opacity="0.93" stroke="#2a2a2a" stroke-opacity="0.9" stroke-width="0.8"/>
<circle cx="652.3" cy="138.8" r="1.85" fill="#f79f7c" fill-opacity="0.93" stroke="#2a2a2a" stroke-opacity="0.9" stroke-width="0.8"/>
<circle cx="629" cy="152.5" r="1.85" fill="#88dbba" fill-opacity="0.93" stroke="#2a2a2a" stroke-opacity="0.9" stroke-width="0.8"/>
<circle cx="461.7" cy="168" r="1.85" fill="#88dbba" fill-opacity="0.93" stroke="#2a2a2a" stroke-opacity="0.9" stroke-width="0.8"/>
<circle cx="470.3" cy="163.8" r="1.85" fill="#f79f7c" fill-opacity="0.93" stroke="#2a2a2a" stroke-opacity="0.9" stroke-width="0.8"/>
<circle cx="470.7" cy="171.4" r="1.85" fill="#f79f7c" fill-opacity="0.93" stroke="#2a2a2a" stroke-opacity="0.9" stroke-width="0.8"/>
<circle cx="478.8" cy="162.1" r="1.85" fill="#f79f7c" fill-opacity="0.93" stroke="#2a2a2a" stroke-opacity="0.9" stroke-width="0.8"/>
<circle cx="480.6" cy="156.5" r="1.85" fill="#f79f7c" fill-opacity="0.93" stroke="#2a2a2a" stroke-opacity="0.9" stroke-width="0.8"/>
<circle cx="492" cy="159.8" r="1.85" fill="#f79f7c" fill-opacity="0.93" stroke="#2a2a2a" stroke-opacity="0.9" stroke-width="0.8"/>
<circle cx="496.9" cy="159" r="1.85" fill="#88dbba" fill-opacity="0.93" stroke="#2a2a2a" stroke-opacity="0.9" stroke-width="0.8"/>
<circle cx="492" cy="164.8" r="1.85" fill="#f79f7c" fill-opacity="0.93" stroke="#2a2a2a" stroke-opacity="0.9" stroke-width="0.8"/>
<circle cx="499.7" cy="167" r="1.85" fill="#88dbba" fill-opacity="0.93" stroke="#2a2a2a" stroke-opacity="0.9" stroke-width="0.8"/>
<circle cx="487.2" cy="170.4" r="1.85" fill="#f79f7c" fill-opacity="0.93" stroke="#2a2a2a" stroke-opacity="0.9" stroke-width="0.8"/>
<circle cx="505.9" cy="165.5" r="1.85" fill="#88dbba" fill-opacity="0.93" stroke="#2a2a2a" stroke-opacity="0.9" stroke-width="0.8"/>
<circle cx="505.5" cy="171.1" r="1.85" fill="#f79f7c" fill-opacity="0.93" stroke="#2a2a2a" stroke-opacity="0.9" stroke-width="0.8"/>
<circle cx="509.6" cy="174.4" r="1.85" fill="#88dbba" fill-opacity="0.93" stroke="#2a2a2a" stroke-opacity="0.9" stroke-width="0.8"/>
<circle cx="515.2" cy="173.9" r="1.85" fill="#88dbba" fill-opacity="0.93" stroke="#2a2a2a" stroke-opacity="0.9" stroke-width="0.8"/>
<circle cx="520.6" cy="177.7" r="1.85" fill="#88dbba" fill-opacity="0.93" stroke="#2a2a2a" stroke-opacity="0.9" stroke-width="0.8"/>
<circle cx="490.3" cy="176.9" r="1.85" fill="#88dbba" fill-opacity="0.93" stroke="#2a2a2a" stroke-opacity="0.9" stroke-width="0.8"/>
<circle cx="507.2" cy="183.1" r="1.85" fill="#f79f7c" fill-opacity="0.93" stroke="#2a2a2a" stroke-opacity="0.9" stroke-width="0.8"/>
<circle cx="509.6" cy="156.1" r="1.85" fill="#f79f7c" fill-opacity="0.93" stroke="#2a2a2a" stroke-opacity="0.9" stroke-width="0.8"/>
<circle cx="514.9" cy="158" r="1.85" fill="#f79f7c" fill-opacity="0.93" stroke="#2a2a2a" stroke-opacity="0.9" stroke-width="0.8"/>
<circle cx="513.1" cy="160.7" r="1.85" fill="#88dbba" fill-opacity="0.93" stroke="#2a2a2a" stroke-opacity="0.9" stroke-width="0.8"/>
<circle cx="513.1" cy="164" r="1.85" fill="#f79f7c" fill-opacity="0.93" stroke="#2a2a2a" stroke-opacity="0.9" stroke-width="0.8"/>
<circle cx="519.4" cy="162.7" r="1.85" fill="#f79f7c" fill-opacity="0.93" stroke="#2a2a2a" stroke-opacity="0.9" stroke-width="0.8"/>
<circle cx="521.5" cy="158.2" r="1.85" fill="#f79f7c" fill-opacity="0.93" stroke="#2a2a2a" stroke-opacity="0.9" stroke-width="0.8"/>
<circle cx="527.1" cy="155.7" r="1.85" fill="#f79f7c" fill-opacity="0.93" stroke="#2a2a2a" stroke-opacity="0.9" stroke-width="0.8"/>
<circle cx="527.1" cy="159.8" r="1.85" fill="#f79f7c" fill-opacity="0.93" stroke="#2a2a2a" stroke-opacity="0.9" stroke-width="0.8"/>
<circle cx="526.5" cy="161.7" r="1.85" fill="#f79f7c" fill-opacity="0.93" stroke="#2a2a2a" stroke-opacity="0.9" stroke-width="0.8"/>
<circle cx="530.8" cy="164.2" r="1.85" fill="#f79f7c" fill-opacity="0.93" stroke="#2a2a2a" stroke-opacity="0.9" stroke-width="0.8"/>
<circle cx="536.8" cy="158.6" r="1.85" fill="#88dbba" fill-opacity="0.93" stroke="#2a2a2a" stroke-opacity="0.9" stroke-width="0.8"/>
<circle cx="534.8" cy="166.7" r="1.85" fill="#88dbba" fill-opacity="0.93" stroke="#2a2a2a" stroke-opacity="0.9" stroke-width="0.8"/>
<circle cx="537.9" cy="167.9" r="1.85" fill="#f79f7c" fill-opacity="0.93" stroke="#2a2a2a" stroke-opacity="0.9" stroke-width="0.8"/>
<circle cx="543.9" cy="157.7" r="1.85" fill="#88dbba" fill-opacity="0.93" stroke="#2a2a2a" stroke-opacity="0.9" stroke-width="0.8"/>
<circle cx="546.8" cy="163.6" r="1.85" fill="#f79f7c" fill-opacity="0.93" stroke="#2a2a2a" stroke-opacity="0.9" stroke-width="0.8"/>
<circle cx="548.2" cy="170.7" r="1.85" fill="#88dbba" fill-opacity="0.93" stroke="#2a2a2a" stroke-opacity="0.9" stroke-width="0.8"/>
<circle cx="547.6" cy="177.9" r="1.85" fill="#88dbba" fill-opacity="0.93" stroke="#2a2a2a" stroke-opacity="0.9" stroke-width="0.8"/>
<circle cx="547.6" cy="189.4" r="1.85" fill="#f79f7c" fill-opacity="0.93" stroke="#2a2a2a" stroke-opacity="0.9" stroke-width="0.8"/>
<circle cx="566.4" cy="154.9" r="1.85" fill="#88dbba" fill-opacity="0.93" stroke="#2a2a2a" stroke-opacity="0.9" stroke-width="0.8"/>
<circle cx="568.7" cy="159.5" r="1.85" fill="#f79f7c" fill-opacity="0.93" stroke="#2a2a2a" stroke-opacity="0.9" stroke-width="0.8"/>
<circle cx="572" cy="157.7" r="1.85" fill="#f79f7c" fill-opacity="0.93" stroke="#2a2a2a" stroke-opacity="0.9" stroke-width="0.8"/>
<circle cx="578.3" cy="157.7" r="1.85" fill="#f79f7c" fill-opacity="0.93" stroke="#2a2a2a" stroke-opacity="0.9" stroke-width="0.8"/>
<circle cx="609" cy="157.7" r="1.85" fill="#f79f7c" fill-opacity="0.93" stroke="#2a2a2a" stroke-opacity="0.9" stroke-width="0.8"/>
<circle cx="558" cy="164" r="1.85" fill="#88dbba" fill-opacity="0.93" stroke="#2a2a2a" stroke-opacity="0.9" stroke-width="0.8"/>
<circle cx="570.4" cy="170.7" r="1.85" fill="#f79f7c" fill-opacity="0.93" stroke="#2a2a2a" stroke-opacity="0.9" stroke-width="0.8"/>
<circle cx="572.7" cy="172.7" r="1.85" fill="#f79f7c" fill-opacity="0.93" stroke="#2a2a2a" stroke-opacity="0.9" stroke-width="0.8"/>
<circle cx="561.7" cy="178.9" r="1.85" fill="#88dbba" fill-opacity="0.93" stroke="#2a2a2a" stroke-opacity="0.9" stroke-width="0.8"/>
<circle cx="561.5" cy="181" r="1.85" fill="#f79f7c" fill-opacity="0.93" stroke="#2a2a2a" stroke-opacity="0.9" stroke-width="0.8"/>
<circle cx="564.9" cy="181.4" r="1.85" fill="#88dbba" fill-opacity="0.93" stroke="#2a2a2a" stroke-opacity="0.9" stroke-width="0.8"/>
<circle cx="567.1" cy="179.2" r="1.85" fill="#f79f7c" fill-opacity="0.93" stroke="#2a2a2a" stroke-opacity="0.9" stroke-width="0.8"/>
<circle cx="567.7" cy="180.1" r="1.85" fill="#f79f7c" fill-opacity="0.93" stroke="#2a2a2a" stroke-opacity="0.9" stroke-width="0.8"/>
<circle cx="571.4" cy="180.4" r="1.85" fill="#f79f7c" fill-opacity="0.93" stroke="#2a2a2a" stroke-opacity="0.9" stroke-width="0.8"/>
<circle cx="581.1" cy="182.3" r="1.85" fill="#f79f7c" fill-opacity="0.93" stroke="#2a2a2a" stroke-opacity="0.9" stroke-width="0.8"/>
<circle cx="589.5" cy="177.5" r="1.85" fill="#88dbba" fill-opacity="0.93" stroke="#2a2a2a" stroke-opacity="0.9" stroke-width="0.8"/>
<circle cx="603.8" cy="175.7" r="1.85" fill="#88dbba" fill-opacity="0.93" stroke="#2a2a2a" stroke-opacity="0.9" stroke-width="0.8"/>
<circle cx="560.2" cy="186.4" r="1.85" fill="#f79f7c" fill-opacity="0.93" stroke="#2a2a2a" stroke-opacity="0.9" stroke-width="0.8"/>
<circle cx="568.9" cy="189.1" r="1.85" fill="#88dbba" fill-opacity="0.93" stroke="#2a2a2a" stroke-opacity="0.9" stroke-width="0.8"/>
<circle cx="598.2" cy="193.8" r="1.85" fill="#88dbba" fill-opacity="0.93" stroke="#2a2a2a" stroke-opacity="0.9" stroke-width="0.8"/>
<circle cx="613.1" cy="184.8" r="1.85" fill="#f79f7c" fill-opacity="0.93" stroke="#2a2a2a" stroke-opacity="0.9" stroke-width="0.8"/>
<circle cx="616.9" cy="202.8" r="1.85" fill="#f79f7c" fill-opacity="0.93" stroke="#2a2a2a" stroke-opacity="0.9" stroke-width="0.8"/>
<circle cx="636.3" cy="162" r="1.85" fill="#f79f7c" fill-opacity="0.93" stroke="#2a2a2a" stroke-opacity="0.9" stroke-width="0.8"/>
<circle cx="624.7" cy="165.7" r="1.85" fill="#88dbba" fill-opacity="0.93" stroke="#2a2a2a" stroke-opacity="0.9" stroke-width="0.8"/>
<circle cx="635.6" cy="166.6" r="1.85" fill="#88dbba" fill-opacity="0.93" stroke="#2a2a2a" stroke-opacity="0.9" stroke-width="0.8"/>
<circle cx="635.4" cy="167.3" r="1.85" fill="#f79f7c" fill-opacity="0.93" stroke="#2a2a2a" stroke-opacity="0.9" stroke-width="0.8"/>
<circle cx="624.7" cy="173.5" r="1.85" fill="#88dbba" fill-opacity="0.93" stroke="#2a2a2a" stroke-opacity="0.9" stroke-width="0.8"/>
<circle cx="624.7" cy="174.4" r="1.85" fill="#f79f7c" fill-opacity="0.93" stroke="#2a2a2a" stroke-opacity="0.9" stroke-width="0.8"/>
<circle cx="667.1" cy="161.5" r="1.85" fill="#f79f7c" fill-opacity="0.93" stroke="#2a2a2a" stroke-opacity="0.9" stroke-width="0.8"/>
<circle cx="665.3" cy="181" r="1.85" fill="#88dbba" fill-opacity="0.93" stroke="#2a2a2a" stroke-opacity="0.9" stroke-width="0.8"/>
<circle cx="622" cy="192.2" r="1.85" fill="#f79f7c" fill-opacity="0.93" stroke="#2a2a2a" stroke-opacity="0.9" stroke-width="0.8"/>
<circle cx="640" cy="191.9" r="1.85" fill="#f79f7c" fill-opacity="0.93" stroke="#2a2a2a" stroke-opacity="0.9" stroke-width="0.8"/>
<circle cx="618" cy="201.5" r="1.85" fill="#88dbba" fill-opacity="0.93" stroke="#2a2a2a" stroke-opacity="0.9" stroke-width="0.8"/>
<circle cx="639.8" cy="206.3" r="1.85" fill="#f79f7c" fill-opacity="0.93" stroke="#2a2a2a" stroke-opacity="0.9" stroke-width="0.8"/>
<rect x="599.5" y="27.4" width="78.9" height="49" rx="2" fill="#fff" fill-opacity="0.8" stroke="#dcdcdc" stroke-width="0.8"/>
<text x="603.7" y="38.6" font-size="11" text-anchor="start" font-family="Liberation Serif, serif" fill="#1a1a1a" >mAge deviation</text>
<text x="639.2" y="54.8" font-size="11" text-anchor="start" font-family="Liberation Serif, serif" fill="#1a1a1a" >Lower</text>
<text x="639.2" y="70" font-size="11" text-anchor="start" font-family="Liberation Serif, serif" fill="#1a1a1a" >Higher</text>
<circle cx="618.9" cy="51.6" r="1.9" fill="#88dbba" stroke="#333" stroke-opacity="0.8" stroke-width="0.5"/>
<circle cx="618.9" cy="67" r="1.9" fill="#f79f7c" stroke="#333" stroke-opacity="0.8" stroke-width="0.5"/>
<rect x="414.3" y="21.5" width="269.3" height="193.2" fill="none" stroke="#747474" stroke-width="1.25"/>
<text x="549.5" y="241.6" font-size="12.85" text-anchor="middle" font-family="Liberation Serif, serif" fill="#1a1a1a" >PC1 (59.8% variance explained)</text>
<text x="0" y="0" font-size="12.76" text-anchor="middle" font-family="Liberation Serif, serif" fill="#1a1a1a" transform="translate(387.6 117.6) rotate(-90)">PC2 (33.1% variance explained)</text>
<text x="377.5" y="14.1" font-size="19.5" text-anchor="start" font-family="Liberation Serif, serif" fill="#1a1a1a" >B</text>
<line x1="48.5" y1="265" x2="48.5" y2="458.1" stroke="#d0d0d0" stroke-width="0.9" />
<line x1="110.4" y1="265" x2="110.4" y2="458.1" stroke="#d0d0d0" stroke-width="0.9" />
<line x1="172.3" y1="265" x2="172.3" y2="458.1" stroke="#d0d0d0" stroke-width="0.9" />
<line x1="234.4" y1="265" x2="234.4" y2="458.1" stroke="#d0d0d0" stroke-width="0.9" />
<line x1="296.6" y1="265" x2="296.6" y2="458.1" stroke="#d0d0d0" stroke-width="0.9" />
<line x1="38" y1="301.4" x2="307.3" y2="301.4" stroke="#d0d0d0" stroke-width="0.9" />
<line x1="38" y1="343.2" x2="307.3" y2="343.2" stroke="#d0d0d0" stroke-width="0.9" />
<line x1="38" y1="385" x2="307.3" y2="385" stroke="#d0d0d0" stroke-width="0.9" />
<line x1="38" y1="426.7" x2="307.3" y2="426.7" stroke="#d0d0d0" stroke-width="0.9" />
<line x1="48.5" y1="458.1" x2="48.5" y2="460.6" stroke="#444" stroke-width="0.8" />
<text x="48.5" y="471" font-size="11.2" text-anchor="middle" font-family="Liberation Serif, serif" fill="#1a1a1a" >-0.4</text>
<line x1="110.4" y1="458.1" x2="110.4" y2="460.6" stroke="#444" stroke-width="0.8" />
<text x="110.4" y="471" font-size="11.2" text-anchor="middle" font-family="Liberation Serif, serif" fill="#1a1a1a" >-0.2</text>
<line x1="172.3" y1="458.1" x2="172.3" y2="460.6" stroke="#444" stroke-width="0.8" />
<text x="172.3" y="471" font-size="11.2" text-anchor="middle" font-family="Liberation Serif, serif" fill="#1a1a1a" >0</text>
<line x1="234.4" y1="458.1" x2="234.4" y2="460.6" stroke="#444" stroke-width="0.8" />
<text x="234.4" y="471" font-size="11.2" text-anchor="middle" font-family="Liberation Serif, serif" fill="#1a1a1a" >0.2</text>
<line x1="296.6" y1="458.1" x2="296.6" y2="460.6" stroke="#444" stroke-width="0.8" />
<text x="296.6" y="471" font-size="11.2" text-anchor="middle" font-family="Liberation Serif, serif" fill="#1a1a1a" >0.4</text>
<line x1="35.5" y1="301.4" x2="38" y2="301.4" stroke="#444" stroke-width="0.8" />
<text x="33.8" y="305.21" font-size="11.2" text-anchor="end" font-family="Liberation Serif, serif" fill="#1a1a1a" >0.4</text>
<line x1="35.5" y1="343.2" x2="38" y2="343.2" stroke="#444" stroke-width="0.8" />
<text x="33.8" y="347.01" font-size="11.2" text-anchor="end" font-family="Liberation Serif, serif" fill="#1a1a1a" >0.2</text>
<line x1="35.5" y1="385" x2="38" y2="385" stroke="#444" stroke-width="0.8" />
<text x="33.8" y="388.81" font-size="11.2" text-anchor="end" font-family="Liberation Serif, serif" fill="#1a1a1a" >0</text>
<line x1="35.5" y1="426.7" x2="38" y2="426.7" stroke="#444" stroke-width="0.8" />
<text x="33.8" y="430.51" font-size="11.2" text-anchor="end" font-family="Liberation Serif, serif" fill="#1a1a1a" >-0.2</text>
<ellipse cx="176.9" cy="387.1" rx="112.6" ry="62.8" transform="rotate(1.7 176.9 387.1)" fill="none" stroke="#66c2a5" stroke-width="1.3" stroke-dasharray="3.6 2.2"/>
<ellipse cx="169" cy="383.5" rx="117" ry="62.6" transform="rotate(0.3 169 383.5)" fill="none" stroke="#fc8d62" stroke-width="1.3" stroke-dasharray="3.6 2.2"/>
<polygon points="176.4,382.2 171.3,392.2 181.5,392.2" fill="#72cfab" stroke="#222" stroke-width="0.7" stroke-linejoin="miter"/>
<polygon points="167.5,378.1 162.4,388.1 172.6,388.1" fill="#f98c63" stroke="#222" stroke-width="0.7" stroke-linejoin="miter"/>
<circle cx="156.1" cy="304" r="1.85" fill="#88dbba" fill-opacity="0.93" stroke="#2a2a2a" stroke-opacity="0.9" stroke-width="0.8"/>
<circle cx="153" cy="315.1" r="1.85" fill="#f79f7c" fill-opacity="0.93" stroke="#2a2a2a" stroke-opacity="0.9" stroke-width="0.8"/>
<circle cx="99.9" cy="336.6" r="1.85" fill="#f79f7c" fill-opacity="0.93" stroke="#2a2a2a" stroke-opacity="0.9" stroke-width="0.8"/>
<circle cx="102.6" cy="346.8" r="1.85" fill="#f79f7c" fill-opacity="0.93" stroke="#2a2a2a" stroke-opacity="0.9" stroke-width="0.8"/>
<circle cx="101.3" cy="350.9" r="1.85" fill="#f79f7c" fill-opacity="0.93" stroke="#2a2a2a" stroke-opacity="0.9" stroke-width="0.8"/>
<circle cx="96.1" cy="351.8" r="1.85" fill="#f79f7c" fill-opacity="0.93" stroke="#2a2a2a" stroke-opacity="0.9" stroke-width="0.8"/>
<circle cx="78" cy="354.5" r="1.85" fill="#88dbba" fill-opacity="0.93" stroke="#2a2a2a" stroke-opacity="0.9" stroke-width="0.8"/>
<circle cx="87.8" cy="358.1" r="1.85" fill="#f79f7c" fill-opacity="0.93" stroke="#2a2a2a" stroke-opacity="0.9" stroke-width="0.8"/>
<circle cx="100.2" cy="359.9" r="1.85" fill="#f79f7c" fill-opacity="0.93" stroke="#2a2a2a" stroke-opacity="0.9" stroke-width="0.8"/>
<circle cx="100.6" cy="365.3" r="1.85" fill="#f79f7c" fill-opacity="0.93" stroke="#2a2a2a" stroke-opacity="0.9" stroke-width="0.8"/>
<circle cx="80" cy="370" r="1.85" fill="#f79f7c" fill-opacity="0.93" stroke="#2a2a2a" stroke-opacity="0.9" stroke-width="0.8"/>
<circle cx="95.6" cy="374.7" r="1.85" fill="#88dbba" fill-opacity="0.93" stroke="#2a2a2a" stroke-opacity="0.9" stroke-width="0.8"/>
<circle cx="102.3" cy="368.4" r="1.85" fill="#f79f7c" fill-opacity="0.93" stroke="#2a2a2a" stroke-opacity="0.9" stroke-width="0.8"/>
<circle cx="101" cy="371.1" r="1.85" fill="#f79f7c" fill-opacity="0.93" stroke="#2a2a2a" stroke-opacity="0.9" stroke-width="0.8"/>
<circle cx="104.6" cy="370" r="1.85" fill="#88dbba" fill-opacity="0.93" stroke="#2a2a2a" stroke-opacity="0.9" stroke-width="0.8"/>
<circle cx="104" cy="375.2" r="1.85" fill="#f79f7c" fill-opacity="0.93" stroke="#2a2a2a" stroke-opacity="0.9" stroke-width="0.8"/>
<circle cx="105.3" cy="379.5" r="1.85" fill="#88dbba" fill-opacity="0.93" stroke="#2a2a2a" stroke-opacity="0.9" stroke-width="0.8"/>
<circle cx="77.7" cy="383.5" r="1.85" fill="#f79f7c" fill-opacity="0.93" stroke="#2a2a2a" stroke-opacity="0.9" stroke-width="0.8"/>
<circle cx="80.8" cy="385.9" r="1.85" fill="#f79f7c" fill-opacity="0.93" stroke="#2a2a2a" stroke-opacity="0.9" stroke-width="0.8"/>
<circle cx="83.1" cy="383.8" r="1.85" fill="#f79f7c" fill-opacity="0.93" stroke="#2a2a2a" stroke-opacity="0.9" stroke-width="0.8"/>
<circle cx="85.4" cy="383.8" r="1.85" fill="#f79f7c" fill-opacity="0.93" stroke="#2a2a2a" stroke-opacity="0.9" stroke-width="0.8"/>
<circle cx="89.8" cy="383.5" r="1.85" fill="#f79f7c" fill-opacity="0.93" stroke="#2a2a2a" stroke-opacity="0.9" stroke-width="0.8"/>
<circle cx="85.4" cy="389.1" r="1.85" fill="#f79f7c" fill-opacity="0.93" stroke="#2a2a2a" stroke-opacity="0.9" stroke-width="0.8"/>
<circle cx="89.1" cy="390.5" r="1.85" fill="#f79f7c" fill-opacity="0.93" stroke="#2a2a2a" stroke-opacity="0.9" stroke-width="0.8"/>
<circle cx="87.5" cy="392.9" r="1.85" fill="#88dbba" fill-opacity="0.93" stroke="#2a2a2a" stroke-opacity="0.9" stroke-width="0.8"/>
<circle cx="101.3" cy="382.4" r="1.85" fill="#f79f7c" fill-opacity="0.93" stroke="#2a2a2a" stroke-opacity="0.9" stroke-width="0.8"/>
<circle cx="104" cy="384.2" r="1.85" fill="#f79f7c" fill-opacity="0.93" stroke="#2a2a2a" stroke-opacity="0.9" stroke-width="0.8"/>
<circle cx="103.5" cy="387.3" r="1.85" fill="#f79f7c" fill-opacity="0.93" stroke="#2a2a2a" stroke-opacity="0.9" stroke-width="0.8"/>
<circle cx="102.9" cy="390.2" r="1.85" fill="#f79f7c" fill-opacity="0.93" stroke="#2a2a2a" stroke-opacity="0.9" stroke-width="0.8"/>
<circle cx="70.3" cy="394" r="1.85" fill="#f79f7c" fill-opacity="0.93" stroke="#2a2a2a" stroke-opacity="0.9" stroke-width="0.8"/>
<circle cx="69" cy="397.2" r="1.85" fill="#88dbba" fill-opacity="0.93" stroke="#2a2a2a" stroke-opacity="0.9" stroke-width="0.8"/>
<circle cx="79" cy="394.3" r="1.85" fill="#f79f7c" fill-opacity="0.93" stroke="#2a2a2a" stroke-opacity="0.9" stroke-width="0.8"/>
<circle cx="99.9" cy="394.3" r="1.85" fill="#88dbba" fill-opacity="0.93" stroke="#2a2a2a" stroke-opacity="0.9" stroke-width="0.8"/>
<circle cx="104.6" cy="398" r="1.85" fill="#88dbba" fill-opacity="0.93" stroke="#2a2a2a" stroke-opacity="0.9" stroke-width="0.8"/>
<circle cx="73.3" cy="401" r="1.85" fill="#88dbba" fill-opacity="0.93" stroke="#2a2a2a" stroke-opacity="0.9" stroke-width="0.8"/>
<circle cx="73.7" cy="405.7" r="1.85" fill="#f79f7c" fill-opacity="0.93" stroke="#2a2a2a" stroke-opacity="0.9" stroke-width="0.8"/>
<circle cx="84.4" cy="403.4" r="1.85" fill="#88dbba" fill-opacity="0.93" stroke="#2a2a2a" stroke-opacity="0.9" stroke-width="0.8"/>
<circle cx="92.5" cy="401.7" r="1.85" fill="#f79f7c" fill-opacity="0.93" stroke="#2a2a2a" stroke-opacity="0.9" stroke-width="0.8"/>
<circle cx="93.2" cy="404.4" r="1.85" fill="#88dbba" fill-opacity="0.93" stroke="#2a2a2a" stroke-opacity="0.9" stroke-width="0.8"/>
<circle cx="95.2" cy="406" r="1.85" fill="#f79f7c" fill-opacity="0.93" stroke="#2a2a2a" stroke-opacity="0.9" stroke-width="0.8"/>
<circle cx="98.8" cy="401.3" r="1.85" fill="#f79f7c" fill-opacity="0.93" stroke="#2a2a2a" stroke-opacity="0.9" stroke-width="0.8"/>
<circle cx="102.9" cy="406.6" r="1.85" fill="#f79f7c" fill-opacity="0.93" stroke="#2a2a2a" stroke-opacity="0.9" stroke-width="0.8"/>
<circle cx="105.6" cy="410.7" r="1.85" fill="#f79f7c" fill-opacity="0.93" stroke="#2a2a2a" stroke-opacity="0.9" stroke-width="0.8"/>
<circle cx="94.5" cy="413.1" r="1.85" fill="#88dbba" fill-opacity="0.93" stroke="#2a2a2a" stroke-opacity="0.9" stroke-width="0.8"/>
<circle cx="100.2" cy="414.5" r="1.85" fill="#88dbba" fill-opacity="0.93" stroke="#2a2a2a" stroke-opacity="0.9" stroke-width="0.8"/>
<circle cx="92.5" cy="419.2" r="1.85" fill="#88dbba" fill-opacity="0.93" stroke="#2a2a2a" stroke-opacity="0.9" stroke-width="0.8"/>
<circle cx="111" cy="342.5" r="1.85" fill="#88dbba" fill-opacity="0.93" stroke="#2a2a2a" stroke-opacity="0.9" stroke-width="0.8"/>
<circle cx="111.1" cy="345.2" r="1.85" fill="#f79f7c" fill-opacity="0.93" stroke="#2a2a2a" stroke-opacity="0.9" stroke-width="0.8"/>
<circle cx="134.5" cy="343.3" r="1.85" fill="#f79f7c" fill-opacity="0.93" stroke="#2a2a2a" stroke-opacity="0.9" stroke-width="0.8"/>
<circle cx="119" cy="351.7" r="1.85" fill="#f79f7c" fill-opacity="0.93" stroke="#2a2a2a" stroke-opacity="0.9" stroke-width="0.8"/>
<circle cx="127.4" cy="351.5" r="1.85" fill="#88dbba" fill-opacity="0.93" stroke="#2a2a2a" stroke-opacity="0.9" stroke-width="0.8"/>
<circle cx="135" cy="351.5" r="1.85" fill="#88dbba" fill-opacity="0.93" stroke="#2a2a2a" stroke-opacity="0.9" stroke-width="0.8"/>
<circle cx="138.1" cy="353.1" r="1.85" fill="#f79f7c" fill-opacity="0.93" stroke="#2a2a2a" stroke-opacity="0.9" stroke-width="0.8"/>
<circle cx="142.1" cy="339" r="1.85" fill="#88dbba" fill-opacity="0.93" stroke="#2a2a2a" stroke-opacity="0.9" stroke-width="0.8"/>
<circle cx="146.5" cy="347.6" r="1.85" fill="#88dbba" fill-opacity="0.93" stroke="#2a2a2a" stroke-opacity="0.9" stroke-width="0.8"/>
<circle cx="161" cy="349.9" r="1.85" fill="#88dbba" fill-opacity="0.93" stroke="#2a2a2a" stroke-opacity="0.9" stroke-width="0.8"/>
<circle cx="164.6" cy="347.4" r="1.85" fill="#88dbba" fill-opacity="0.93" stroke="#2a2a2a" stroke-opacity="0.9" stroke-width="0.8"/>
<circle cx="171.6" cy="344.9" r="1.85" fill="#88dbba" fill-opacity="0.93" stroke="#2a2a2a" stroke-opacity="0.9" stroke-width="0.8"/>
<circle cx="113.3" cy="355.4" r="1.85" fill="#88dbba" fill-opacity="0.93" stroke="#2a2a2a" stroke-opacity="0.9" stroke-width="0.8"/>
<circle cx="118.6" cy="354.4" r="1.85" fill="#88dbba" fill-opacity="0.93" stroke="#2a2a2a" stroke-opacity="0.9" stroke-width="0.8"/>
<circle cx="121.4" cy="357.8" r="1.85" fill="#f79f7c" fill-opacity="0.93" stroke="#2a2a2a" stroke-opacity="0.9" stroke-width="0.8"/>
<circle cx="132.6" cy="358.1" r="1.85" fill="#88dbba" fill-opacity="0.93" stroke="#2a2a2a" stroke-opacity="0.9" stroke-width="0.8"/>
<circle cx="129.6" cy="360.8" r="1.85" fill="#f79f7c" fill-opacity="0.93" stroke="#2a2a2a" stroke-opacity="0.9" stroke-width="0.8"/>
<circle cx="137.7" cy="359.7" r="1.85" fill="#f79f7c" fill-opacity="0.93" stroke="#2a2a2a" stroke-opacity="0.9" stroke-width="0.8"/>
<circle cx="126.5" cy="371.3" r="1.85" fill="#f79f7c" fill-opacity="0.93" stroke="#2a2a2a" stroke-opacity="0.9" stroke-width="0.8"/>
<circle cx="133.6" cy="371.3" r="1.85" fill="#f79f7c" fill-opacity="0.93" stroke="#2a2a2a" stroke-opacity="0.9" stroke-width="0.8"/>
<circle cx="135.8" cy="370.1" r="1.85" fill="#f79f7c" fill-opacity="0.93" stroke="#2a2a2a" stroke-opacity="0.9" stroke-width="0.8"/>
<circle cx="136.4" cy="373.1" r="1.85" fill="#88dbba" fill-opacity="0.93" stroke="#2a2a2a" stroke-opacity="0.9" stroke-width="0.8"/>
<circle cx="128.5" cy="376.1" r="1.85" fill="#88dbba" fill-opacity="0.93" stroke="#2a2a2a" stroke-opacity="0.9" stroke-width="0.8"/>
<circle cx="137.6" cy="379.9" r="1.85" fill="#f79f7c" fill-opacity="0.93" stroke="#2a2a2a" stroke-opacity="0.9" stroke-width="0.8"/>
<circle cx="117.6" cy="382.7" r="1.85" fill="#88dbba" fill-opacity="0.93" stroke="#2a2a2a" stroke-opacity="0.9" stroke-width="0.8"/>
<circle cx="127.4" cy="381.8" r="1.85" fill="#88dbba" fill-opacity="0.93" stroke="#2a2a2a" stroke-opacity="0.9" stroke-width="0.8"/>
<circle cx="138.8" cy="385.1" r="1.85" fill="#88dbba" fill-opacity="0.93" stroke="#2a2a2a" stroke-opacity="0.9" stroke-width="0.8"/>
<circle cx="160.1" cy="357" r="1.85" fill="#f79f7c" fill-opacity="0.93" stroke="#2a2a2a" stroke-opacity="0.9" stroke-width="0.8"/>
<circle cx="173.4" cy="355.9" r="1.85" fill="#88dbba" fill-opacity="0.93" stroke="#2a2a2a" stroke-opacity="0.9" stroke-width="0.8"/>
<circle cx="141.2" cy="365.1" r="1.85" fill="#f79f7c" fill-opacity="0.93" stroke="#2a2a2a" stroke-opacity="0.9" stroke-width="0.8"/>
<circle cx="140.9" cy="369.9" r="1.85" fill="#88dbba" fill-opacity="0.93" stroke="#2a2a2a" stroke-opacity="0.9" stroke-width="0.8"/>
<circle cx="149.1" cy="368.8" r="1.85" fill="#f79f7c" fill-opacity="0.93" stroke="#2a2a2a" stroke-opacity="0.9" stroke-width="0.8"/>
<circle cx="152.6" cy="367.5" r="1.85" fill="#88dbba" fill-opacity="0.93" stroke="#2a2a2a" stroke-opacity="0.9" stroke-width="0.8"/>
<circle cx="158" cy="372.9" r="1.85" fill="#f79f7c" fill-opacity="0.93" stroke="#2a2a2a" stroke-opacity="0.9" stroke-width="0.8"/>
<circle cx="167.1" cy="373.3" r="1.85" fill="#f79f7c" fill-opacity="0.93" stroke="#2a2a2a" stroke-opacity="0.9" stroke-width="0.8"/>
<circle cx="148.5" cy="377.2" r="1.85" fill="#88dbba" fill-opacity="0.93" stroke="#2a2a2a" stroke-opacity="0.9" stroke-width="0.8"/>
<circle cx="158.1" cy="377.7" r="1.85" fill="#88dbba" fill-opacity="0.93" stroke="#2a2a2a" stroke-opacity="0.9" stroke-width="0.8"/>
<circle cx="159.8" cy="377.9" r="1.85" fill="#88dbba" fill-opacity="0.93" stroke="#2a2a2a" stroke-opacity="0.9" stroke-width="0.8"/>
<circle cx="162.9" cy="378.1" r="1.85" fill="#f79f7c" fill-opacity="0.93" stroke="#2a2a2a" stroke-opacity="0.9" stroke-width="0.8"/>
<circle cx="146.6" cy="383.8" r="1.85" fill="#88dbba" fill-opacity="0.93" stroke="#2a2a2a" stroke-opacity="0.9" stroke-width="0.8"/>
<circle cx="173" cy="376.5" r="1.85" fill="#f79f7c" fill-opacity="0.93" stroke="#2a2a2a" stroke-opacity="0.9" stroke-width="0.8"/>
<circle cx="127.2" cy="386.7" r="1.85" fill="#88dbba" fill-opacity="0.93" stroke="#2a2a2a" stroke-opacity="0.9" stroke-width="0.8"/>
<circle cx="116.3" cy="393.6" r="1.85" fill="#f79f7c" fill-opacity="0.93" stroke="#2a2a2a" stroke-opacity="0.9" stroke-width="0.8"/>
<circle cx="124.1" cy="391.6" r="1.85" fill="#f79f7c" fill-opacity="0.93" stroke="#2a2a2a" stroke-opacity="0.9" stroke-width="0.8"/>
<circle cx="124.2" cy="396.2" r="1.85" fill="#88dbba" fill-opacity="0.93" stroke="#2a2a2a" stroke-opacity="0.9" stroke-width="0.8"/>
<circle cx="120.1" cy="397.3" r="1.85" fill="#f79f7c" fill-opacity="0.93" stroke="#2a2a2a" stroke-opacity="0.9" stroke-width="0.8"/>
<circle cx="126" cy="399.1" r="1.85" fill="#f79f7c" fill-opacity="0.93" stroke="#2a2a2a" stroke-opacity="0.9" stroke-width="0.8"/>
<circle cx="126.8" cy="400.3" r="1.85" fill="#88dbba" fill-opacity="0.93" stroke="#2a2a2a" stroke-opacity="0.9" stroke-width="0.8"/>
<circle cx="131.9" cy="394" r="1.85" fill="#88dbba" fill-opacity="0.93" stroke="#2a2a2a" stroke-opacity="0.9" stroke-width="0.8"/>
<circle cx="134.5" cy="396.9" r="1.85" fill="#f79f7c" fill-opacity="0.93" stroke="#2a2a2a" stroke-opacity="0.9" stroke-width="0.8"/>
<circle cx="138.8" cy="398.8" r="1.85" fill="#f79f7c" fill-opacity="0.93" stroke="#2a2a2a" stroke-opacity="0.9" stroke-width="0.8"/>
<circle cx="115.2" cy="399.5" r="1.85" fill="#88dbba" fill-opacity="0.93" stroke="#2a2a2a" stroke-opacity="0.9" stroke-width="0.8"/>
<circle cx="109.4" cy="396.2" r="1.85" fill="#88dbba" fill-opacity="0.93" stroke="#2a2a2a" stroke-opacity="0.9" stroke-width="0.8"/>
<circle cx="107" cy="396.6" r="1.85" fill="#f79f7c" fill-opacity="0.93" stroke="#2a2a2a" stroke-opacity="0.9" stroke-width="0.8"/>
<circle cx="107" cy="399" r="1.85" fill="#f79f7c" fill-opacity="0.93" stroke="#2a2a2a" stroke-opacity="0.9" stroke-width="0.8"/>
<circle cx="109.4" cy="404.1" r="1.85" fill="#88dbba" fill-opacity="0.93" stroke="#2a2a2a" stroke-opacity="0.9" stroke-width="0.8"/>
<circle cx="115.6" cy="404.1" r="1.85" fill="#f79f7c" fill-opacity="0.93" stroke="#2a2a2a" stroke-opacity="0.9" stroke-width="0.8"/>
<circle cx="121" cy="403.9" r="1.85" fill="#88dbba" fill-opacity="0.93" stroke="#2a2a2a" stroke-opacity="0.9" stroke-width="0.8"/>
<circle cx="118.6" cy="406.1" r="1.85" fill="#88dbba" fill-opacity="0.93" stroke="#2a2a2a" stroke-opacity="0.9" stroke-width="0.8"/>
<circle cx="114.5" cy="407.7" r="1.85" fill="#f79f7c" fill-opacity="0.93" stroke="#2a2a2a" stroke-opacity="0.9" stroke-width="0.8"/>
<circle cx="113.2" cy="411.6" r="1.85" fill="#88dbba" fill-opacity="0.93" stroke="#2a2a2a" stroke-opacity="0.9" stroke-width="0.8"/>
<circle cx="111.5" cy="413.4" r="1.85" fill="#f79f7c" fill-opacity="0.93" stroke="#2a2a2a" stroke-opacity="0.9" stroke-width="0.8"/>
<circle cx="108.8" cy="409.9" r="1.85" fill="#88dbba" fill-opacity="0.93" stroke="#2a2a2a" stroke-opacity="0.9" stroke-width="0.8"/>
<circle cx="125.1" cy="407.7" r="1.85" fill="#f79f7c" fill-opacity="0.93" stroke="#2a2a2a" stroke-opacity="0.9" stroke-width="0.8"/>
<circle cx="128.5" cy="407.7" r="1.85" fill="#f79f7c" fill-opacity="0.93" stroke="#2a2a2a" stroke-opacity="0.9" stroke-width="0.8"/>
<circle cx="119" cy="412.3" r="1.85" fill="#88dbba" fill-opacity="0.93" stroke="#2a2a2a" stroke-opacity="0.9" stroke-width="0.8"/>
<circle cx="121.5" cy="411.8" r="1.85" fill="#88dbba" fill-opacity="0.93" stroke="#2a2a2a" stroke-opacity="0.9" stroke-width="0.8"/>
<circle cx="120.8" cy="414.5" r="1.85" fill="#f79f7c" fill-opacity="0.93" stroke="#2a2a2a" stroke-opacity="0.9" stroke-width="0.8"/>
<circle cx="124.4" cy="414.8" r="1.85" fill="#88dbba" fill-opacity="0.93" stroke="#2a2a2a" stroke-opacity="0.9" stroke-width="0.8"/>
<circle cx="135.8" cy="410.7" r="1.85" fill="#88dbba" fill-opacity="0.93" stroke="#2a2a2a" stroke-opacity="0.9" stroke-width="0.8"/>
<circle cx="139.1" cy="417.4" r="1.85" fill="#f79f7c" fill-opacity="0.93" stroke="#2a2a2a" stroke-opacity="0.9" stroke-width="0.8"/>
<circle cx="144.8" cy="388.6" r="1.85" fill="#f79f7c" fill-opacity="0.93" stroke="#2a2a2a" stroke-opacity="0.9" stroke-width="0.8"/>
<circle cx="141" cy="391.5" r="1.85" fill="#f79f7c" fill-opacity="0.93" stroke="#2a2a2a" stroke-opacity="0.9" stroke-width="0.8"/>
<circle cx="143" cy="393.6" r="1.85" fill="#88dbba" fill-opacity="0.93" stroke="#2a2a2a" stroke-opacity="0.9" stroke-width="0.8"/>
<circle cx="157.8" cy="388" r="1.85" fill="#88dbba" fill-opacity="0.93" stroke="#2a2a2a" stroke-opacity="0.9" stroke-width="0.8"/>
<circle cx="170" cy="395.9" r="1.85" fill="#f79f7c" fill-opacity="0.93" stroke="#2a2a2a" stroke-opacity="0.9" stroke-width="0.8"/>
<circle cx="170.9" cy="398.6" r="1.85" fill="#88dbba" fill-opacity="0.93" stroke="#2a2a2a" stroke-opacity="0.9" stroke-width="0.8"/>
<circle cx="146.4" cy="400.5" r="1.85" fill="#88dbba" fill-opacity="0.93" stroke="#2a2a2a" stroke-opacity="0.9" stroke-width="0.8"/>
<circle cx="145.5" cy="405.9" r="1.85" fill="#88dbba" fill-opacity="0.93" stroke="#2a2a2a" stroke-opacity="0.9" stroke-width="0.8"/>
<circle cx="148.2" cy="408.9" r="1.85" fill="#f79f7c" fill-opacity="0.93" stroke="#2a2a2a" stroke-opacity="0.9" stroke-width="0.8"/>
<circle cx="145.7" cy="410" r="1.85" fill="#f79f7c" fill-opacity="0.93" stroke="#2a2a2a" stroke-opacity="0.9" stroke-width="0.8"/>
<circle cx="157.4" cy="406.8" r="1.85" fill="#f79f7c" fill-opacity="0.93" stroke="#2a2a2a" stroke-opacity="0.9" stroke-width="0.8"/>
<circle cx="157.4" cy="411.6" r="1.85" fill="#f79f7c" fill-opacity="0.93" stroke="#2a2a2a" stroke-opacity="0.9" stroke-width="0.8"/>
<circle cx="160.3" cy="412.9" r="1.85" fill="#f79f7c" fill-opacity="0.93" stroke="#2a2a2a" stroke-opacity="0.9" stroke-width="0.8"/>
<circle cx="151.6" cy="412.9" r="1.85" fill="#88dbba" fill-opacity="0.93" stroke="#2a2a2a" stroke-opacity="0.9" stroke-width="0.8"/>
<circle cx="168.3" cy="405" r="1.85" fill="#f79f7c" fill-opacity="0.93" stroke="#2a2a2a" stroke-opacity="0.9" stroke-width="0.8"/>
<circle cx="172.6" cy="406.8" r="1.85" fill="#f79f7c" fill-opacity="0.93" stroke="#2a2a2a" stroke-opacity="0.9" stroke-width="0.8"/>
<circle cx="145" cy="414.5" r="1.85" fill="#88dbba" fill-opacity="0.93" stroke="#2a2a2a" stroke-opacity="0.9" stroke-width="0.8"/>
<circle cx="145" cy="417.5" r="1.85" fill="#f79f7c" fill-opacity="0.93" stroke="#2a2a2a" stroke-opacity="0.9" stroke-width="0.8"/>
<circle cx="151.4" cy="418.1" r="1.85" fill="#88dbba" fill-opacity="0.93" stroke="#2a2a2a" stroke-opacity="0.9" stroke-width="0.8"/>
<circle cx="165.6" cy="418.6" r="1.85" fill="#88dbba" fill-opacity="0.93" stroke="#2a2a2a" stroke-opacity="0.9" stroke-width="0.8"/>
<circle cx="116.9" cy="421" r="1.85" fill="#f79f7c" fill-opacity="0.93" stroke="#2a2a2a" stroke-opacity="0.9" stroke-width="0.8"/>
<circle cx="116.9" cy="425.2" r="1.85" fill="#88dbba" fill-opacity="0.93" stroke="#2a2a2a" stroke-opacity="0.9" stroke-width="0.8"/>
<circle cx="128.4" cy="422.8" r="1.85" fill="#88dbba" fill-opacity="0.93" stroke="#2a2a2a" stroke-opacity="0.9" stroke-width="0.8"/>
<circle cx="128.4" cy="425.2" r="1.85" fill="#88dbba" fill-opacity="0.93" stroke="#2a2a2a" stroke-opacity="0.9" stroke-width="0.8"/>
<circle cx="134.4" cy="420.2" r="1.85" fill="#f79f7c" fill-opacity="0.93" stroke="#2a2a2a" stroke-opacity="0.9" stroke-width="0.8"/>
<circle cx="146.5" cy="420.2" r="1.85" fill="#88dbba" fill-opacity="0.93" stroke="#2a2a2a" stroke-opacity="0.9" stroke-width="0.8"/>
<circle cx="143.8" cy="426.6" r="1.85" fill="#f79f7c" fill-opacity="0.93" stroke="#2a2a2a" stroke-opacity="0.9" stroke-width="0.8"/>
<circle cx="154.8" cy="423.5" r="1.85" fill="#88dbba" fill-opacity="0.93" stroke="#2a2a2a" stroke-opacity="0.9" stroke-width="0.8"/>
<circle cx="194.2" cy="274.2" r="1.85" fill="#f79f7c" fill-opacity="0.93" stroke="#2a2a2a" stroke-opacity="0.9" stroke-width="0.8"/>
<circle cx="177.4" cy="279.4" r="1.85" fill="#88dbba" fill-opacity="0.93" stroke="#2a2a2a" stroke-opacity="0.9" stroke-width="0.8"/>
<circle cx="182.1" cy="284.5" r="1.85" fill="#88dbba" fill-opacity="0.93" stroke="#2a2a2a" stroke-opacity="0.9" stroke-width="0.8"/>
<circle cx="173.6" cy="290.6" r="1.85" fill="#88dbba" fill-opacity="0.93" stroke="#2a2a2a" stroke-opacity="0.9" stroke-width="0.8"/>
<circle cx="188.4" cy="296" r="1.85" fill="#f79f7c" fill-opacity="0.93" stroke="#2a2a2a" stroke-opacity="0.9" stroke-width="0.8"/>
<circle cx="191.2" cy="303.4" r="1.85" fill="#88dbba" fill-opacity="0.93" stroke="#2a2a2a" stroke-opacity="0.9" stroke-width="0.8"/>
<circle cx="191.9" cy="311.4" r="1.85" fill="#f79f7c" fill-opacity="0.93" stroke="#2a2a2a" stroke-opacity="0.9" stroke-width="0.8"/>
<circle cx="180.3" cy="314.1" r="1.85" fill="#f79f7c" fill-opacity="0.93" stroke="#2a2a2a" stroke-opacity="0.9" stroke-width="0.8"/>
<circle cx="187.7" cy="316.4" r="1.85" fill="#f79f7c" fill-opacity="0.93" stroke="#2a2a2a" stroke-opacity="0.9" stroke-width="0.8"/>
<circle cx="217.5" cy="307.1" r="1.85" fill="#f79f7c" fill-opacity="0.93" stroke="#2a2a2a" stroke-opacity="0.9" stroke-width="0.8"/>
<circle cx="225.2" cy="310.8" r="1.85" fill="#f79f7c" fill-opacity="0.93" stroke="#2a2a2a" stroke-opacity="0.9" stroke-width="0.8"/>
<circle cx="233.2" cy="308.7" r="1.85" fill="#88dbba" fill-opacity="0.93" stroke="#2a2a2a" stroke-opacity="0.9" stroke-width="0.8"/>
<circle cx="235.9" cy="308.7" r="1.85" fill="#f79f7c" fill-opacity="0.93" stroke="#2a2a2a" stroke-opacity="0.9" stroke-width="0.8"/>
<circle cx="238.9" cy="310.8" r="1.85" fill="#f79f7c" fill-opacity="0.93" stroke="#2a2a2a" stroke-opacity="0.9" stroke-width="0.8"/>
<circle cx="202.3" cy="323.1" r="1.85" fill="#f79f7c" fill-opacity="0.93" stroke="#2a2a2a" stroke-opacity="0.9" stroke-width="0.8"/>
<circle cx="206.3" cy="328.5" r="1.85" fill="#88dbba" fill-opacity="0.93" stroke="#2a2a2a" stroke-opacity="0.9" stroke-width="0.8"/>
<circle cx="221.8" cy="330.7" r="1.85" fill="#f79f7c" fill-opacity="0.93" stroke="#2a2a2a" stroke-opacity="0.9" stroke-width="0.8"/>
<circle cx="244.1" cy="320.5" r="1.85" fill="#f79f7c" fill-opacity="0.93" stroke="#2a2a2a" stroke-opacity="0.9" stroke-width="0.8"/>
<circle cx="267.9" cy="321.8" r="1.85" fill="#88dbba" fill-opacity="0.93" stroke="#2a2a2a" stroke-opacity="0.9" stroke-width="0.8"/>
<circle cx="187.6" cy="333.6" r="1.85" fill="#f79f7c" fill-opacity="0.93" stroke="#2a2a2a" stroke-opacity="0.9" stroke-width="0.8"/>
<circle cx="186.9" cy="336.3" r="1.85" fill="#f79f7c" fill-opacity="0.93" stroke="#2a2a2a" stroke-opacity="0.9" stroke-width="0.8"/>
<circle cx="192.8" cy="345.2" r="1.85" fill="#88dbba" fill-opacity="0.93" stroke="#2a2a2a" stroke-opacity="0.9" stroke-width="0.8"/>
<circle cx="186" cy="349.3" r="1.85" fill="#f79f7c" fill-opacity="0.93" stroke="#2a2a2a" stroke-opacity="0.9" stroke-width="0.8"/>
<circle cx="195.1" cy="352.3" r="1.85" fill="#88dbba" fill-opacity="0.93" stroke="#2a2a2a" stroke-opacity="0.9" stroke-width="0.8"/>
<circle cx="190.1" cy="356.1" r="1.85" fill="#88dbba" fill-opacity="0.93" stroke="#2a2a2a" stroke-opacity="0.9" stroke-width="0.8"/>
<circle cx="191.4" cy="355.4" r="1.85" fill="#f79f7c" fill-opacity="0.93" stroke="#2a2a2a" stroke-opacity="0.9" stroke-width="0.8"/>
<circle cx="197.1" cy="355.2" r="1.85" fill="#88dbba" fill-opacity="0.93" stroke="#2a2a2a" stroke-opacity="0.9" stroke-width="0.8"/>
<circle cx="203" cy="357.1" r="1.85" fill="#f79f7c" fill-opacity="0.93" stroke="#2a2a2a" stroke-opacity="0.9" stroke-width="0.8"/>
<circle cx="194.2" cy="360.5" r="1.85" fill="#f79f7c" fill-opacity="0.93" stroke="#2a2a2a" stroke-opacity="0.9" stroke-width="0.8"/>
<circle cx="235" cy="335.6" r="1.85" fill="#88dbba" fill-opacity="0.93" stroke="#2a2a2a" stroke-opacity="0.9" stroke-width="0.8"/>
<circle cx="223.1" cy="339.9" r="1.85" fill="#88dbba" fill-opacity="0.93" stroke="#2a2a2a" stroke-opacity="0.9" stroke-width="0.8"/>
<circle cx="228.4" cy="339.9" r="1.85" fill="#88dbba" fill-opacity="0.93" stroke="#2a2a2a" stroke-opacity="0.9" stroke-width="0.8"/>
<circle cx="225.6" cy="348.2" r="1.85" fill="#f79f7c" fill-opacity="0.93" stroke="#2a2a2a" stroke-opacity="0.9" stroke-width="0.8"/>
<circle cx="214.7" cy="354.7" r="1.85" fill="#88dbba" fill-opacity="0.93" stroke="#2a2a2a" stroke-opacity="0.9" stroke-width="0.8"/>
<circle cx="211.3" cy="359.8" r="1.85" fill="#88dbba" fill-opacity="0.93" stroke="#2a2a2a" stroke-opacity="0.9" stroke-width="0.8"/>
<circle cx="216.2" cy="363.6" r="1.85" fill="#88dbba" fill-opacity="0.93" stroke="#2a2a2a" stroke-opacity="0.9" stroke-width="0.8"/>
<circle cx="182.4" cy="366" r="1.85" fill="#88dbba" fill-opacity="0.93" stroke="#2a2a2a" stroke-opacity="0.9" stroke-width="0.8"/>
<circle cx="184.3" cy="368.6" r="1.85" fill="#f79f7c" fill-opacity="0.93" stroke="#2a2a2a" stroke-opacity="0.9" stroke-width="0.8"/>
<circle cx="183.5" cy="372" r="1.85" fill="#f79f7c" fill-opacity="0.93" stroke="#2a2a2a" stroke-opacity="0.9" stroke-width="0.8"/>
<circle cx="187.7" cy="371.8" r="1.85" fill="#f79f7c" fill-opacity="0.93" stroke="#2a2a2a" stroke-opacity="0.9" stroke-width="0.8"/>
<circle cx="182.9" cy="378.2" r="1.85" fill="#f79f7c" fill-opacity="0.93" stroke="#2a2a2a" stroke-opacity="0.9" stroke-width="0.8"/>
<circle cx="183.9" cy="380.2" r="1.85" fill="#88dbba" fill-opacity="0.93" stroke="#2a2a2a" stroke-opacity="0.9" stroke-width="0.8"/>
<circle cx="201.5" cy="375.5" r="1.85" fill="#f79f7c" fill-opacity="0.93" stroke="#2a2a2a" stroke-opacity="0.9" stroke-width="0.8"/>
<circle cx="200.1" cy="378.2" r="1.85" fill="#88dbba" fill-opacity="0.93" stroke="#2a2a2a" stroke-opacity="0.9" stroke-width="0.8"/>
<circle cx="203.4" cy="382.4" r="1.85" fill="#88dbba" fill-opacity="0.93" stroke="#2a2a2a" stroke-opacity="0.9" stroke-width="0.8"/>
<circle cx="200.6" cy="384.8" r="1.85" fill="#88dbba" fill-opacity="0.93" stroke="#2a2a2a" stroke-opacity="0.9" stroke-width="0.8"/>
<circle cx="204.7" cy="384.3" r="1.85" fill="#88dbba" fill-opacity="0.93" stroke="#2a2a2a" stroke-opacity="0.9" stroke-width="0.8"/>
<circle cx="188" cy="387.7" r="1.85" fill="#88dbba" fill-opacity="0.93" stroke="#2a2a2a" stroke-opacity="0.9" stroke-width="0.8"/>
<circle cx="179.6" cy="395.2" r="1.85" fill="#f79f7c" fill-opacity="0.93" stroke="#2a2a2a" stroke-opacity="0.9" stroke-width="0.8"/>
<circle cx="189.1" cy="395.9" r="1.85" fill="#88dbba" fill-opacity="0.93" stroke="#2a2a2a" stroke-opacity="0.9" stroke-width="0.8"/>
<circle cx="195.1" cy="394.8" r="1.85" fill="#88dbba" fill-opacity="0.93" stroke="#2a2a2a" stroke-opacity="0.9" stroke-width="0.8"/>
<circle cx="201.2" cy="394.6" r="1.85" fill="#f79f7c" fill-opacity="0.93" stroke="#2a2a2a" stroke-opacity="0.9" stroke-width="0.8"/>
<circle cx="210.1" cy="370" r="1.85" fill="#88dbba" fill-opacity="0.93" stroke="#2a2a2a" stroke-opacity="0.9" stroke-width="0.8"/>
<circle cx="209.8" cy="372" r="1.85" fill="#f79f7c" fill-opacity="0.93" stroke="#2a2a2a" stroke-opacity="0.9" stroke-width="0.8"/>
<circle cx="213.2" cy="372.9" r="1.85" fill="#f79f7c" fill-opacity="0.93" stroke="#2a2a2a" stroke-opacity="0.9" stroke-width="0.8"/>
<circle cx="213.2" cy="379.8" r="1.85" fill="#88dbba" fill-opacity="0.93" stroke="#2a2a2a" stroke-opacity="0.9" stroke-width="0.8"/>
<circle cx="235.2" cy="368.9" r="1.85" fill="#f79f7c" fill-opacity="0.93" stroke="#2a2a2a" stroke-opacity="0.9" stroke-width="0.8"/>
<circle cx="233.3" cy="376.1" r="1.85" fill="#88dbba" fill-opacity="0.93" stroke="#2a2a2a" stroke-opacity="0.9" stroke-width="0.8"/>
<circle cx="218.8" cy="383.6" r="1.85" fill="#f79f7c" fill-opacity="0.93" stroke="#2a2a2a" stroke-opacity="0.9" stroke-width="0.8"/>
<circle cx="219.3" cy="386" r="1.85" fill="#88dbba" fill-opacity="0.93" stroke="#2a2a2a" stroke-opacity="0.9" stroke-width="0.8"/>
<circle cx="222.7" cy="384.3" r="1.85" fill="#f79f7c" fill-opacity="0.93" stroke="#2a2a2a" stroke-opacity="0.9" stroke-width="0.8"/>
<circle cx="216.4" cy="387.7" r="1.85" fill="#f79f7c" fill-opacity="0.93" stroke="#2a2a2a" stroke-opacity="0.9" stroke-width="0.8"/>
<circle cx="227.8" cy="389.1" r="1.85" fill="#f79f7c" fill-opacity="0.93" stroke="#2a2a2a" stroke-opacity="0.9" stroke-width="0.8"/>
<circle cx="224.1" cy="392.1" r="1.85" fill="#88dbba" fill-opacity="0.93" stroke="#2a2a2a" stroke-opacity="0.9" stroke-width="0.8"/>
<circle cx="237.5" cy="394.2" r="1.85" fill="#88dbba" fill-opacity="0.93" stroke="#2a2a2a" stroke-opacity="0.9" stroke-width="0.8"/>
<circle cx="197.6" cy="399.6" r="1.85" fill="#f79f7c" fill-opacity="0.93" stroke="#2a2a2a" stroke-opacity="0.9" stroke-width="0.8"/>
<circle cx="195.5" cy="403" r="1.85" fill="#f79f7c" fill-opacity="0.93" stroke="#2a2a2a" stroke-opacity="0.9" stroke-width="0.8"/>
<circle cx="203" cy="400.1" r="1.85" fill="#88dbba" fill-opacity="0.93" stroke="#2a2a2a" stroke-opacity="0.9" stroke-width="0.8"/>
<circle cx="178" cy="403.8" r="1.85" fill="#88dbba" fill-opacity="0.93" stroke="#2a2a2a" stroke-opacity="0.9" stroke-width="0.8"/>
<circle cx="181.2" cy="406.7" r="1.85" fill="#f79f7c" fill-opacity="0.93" stroke="#2a2a2a" stroke-opacity="0.9" stroke-width="0.8"/>
<circle cx="185.6" cy="408.5" r="1.85" fill="#f79f7c" fill-opacity="0.93" stroke="#2a2a2a" stroke-opacity="0.9" stroke-width="0.8"/>
<circle cx="184.8" cy="411.7" r="1.85" fill="#f79f7c" fill-opacity="0.93" stroke="#2a2a2a" stroke-opacity="0.9" stroke-width="0.8"/>
<circle cx="178.8" cy="413.7" r="1.85" fill="#88dbba" fill-opacity="0.93" stroke="#2a2a2a" stroke-opacity="0.9" stroke-width="0.8"/>
<circle cx="182.8" cy="414.6" r="1.85" fill="#88dbba" fill-opacity="0.93" stroke="#2a2a2a" stroke-opacity="0.9" stroke-width="0.8"/>
<circle cx="178" cy="417.5" r="1.85" fill="#88dbba" fill-opacity="0.93" stroke="#2a2a2a" stroke-opacity="0.9" stroke-width="0.8"/>
<circle cx="198.9" cy="411" r="1.85" fill="#88dbba" fill-opacity="0.93" stroke="#2a2a2a" stroke-opacity="0.9" stroke-width="0.8"/>
<circle cx="203.7" cy="410.6" r="1.85" fill="#f79f7c" fill-opacity="0.93" stroke="#2a2a2a" stroke-opacity="0.9" stroke-width="0.8"/>
<circle cx="200.6" cy="415.3" r="1.85" fill="#88dbba" fill-opacity="0.93" stroke="#2a2a2a" stroke-opacity="0.9" stroke-width="0.8"/>
<circle cx="182.8" cy="420.3" r="1.85" fill="#f79f7c" fill-opacity="0.93" stroke="#2a2a2a" stroke-opacity="0.9" stroke-width="0.8"/>
<circle cx="185.6" cy="422.4" r="1.85" fill="#88dbba" fill-opacity="0.93" stroke="#2a2a2a" stroke-opacity="0.9" stroke-width="0.8"/>
<circle cx="186.7" cy="422.8" r="1.85" fill="#88dbba" fill-opacity="0.93" stroke="#2a2a2a" stroke-opacity="0.9" stroke-width="0.8"/>
<circle cx="189.9" cy="421.7" r="1.85" fill="#f79f7c" fill-opacity="0.93" stroke="#2a2a2a" stroke-opacity="0.9" stroke-width="0.8"/>
<circle cx="181.5" cy="424.8" r="1.85" fill="#f79f7c" fill-opacity="0.93" stroke="#2a2a2a" stroke-opacity="0.9" stroke-width="0.8"/>
<circle cx="196.7" cy="424.1" r="1.85" fill="#88dbba" fill-opacity="0.93" stroke="#2a2a2a" stroke-opacity="0.9" stroke-width="0.8"/>
<circle cx="200.5" cy="430.4" r="1.85" fill="#f79f7c" fill-opacity="0.93" stroke="#2a2a2a" stroke-opacity="0.9" stroke-width="0.8"/>
<circle cx="206.4" cy="426.5" r="1.85" fill="#88dbba" fill-opacity="0.93" stroke="#2a2a2a" stroke-opacity="0.9" stroke-width="0.8"/>
<circle cx="228.2" cy="401.1" r="1.85" fill="#f79f7c" fill-opacity="0.93" stroke="#2a2a2a" stroke-opacity="0.9" stroke-width="0.8"/>
<circle cx="237.4" cy="400.8" r="1.85" fill="#f79f7c" fill-opacity="0.93" stroke="#2a2a2a" stroke-opacity="0.9" stroke-width="0.8"/>
<circle cx="240.1" cy="406.5" r="1.85" fill="#f79f7c" fill-opacity="0.93" stroke="#2a2a2a" stroke-opacity="0.9" stroke-width="0.8"/>
<circle cx="222.5" cy="406" r="1.85" fill="#88dbba" fill-opacity="0.93" stroke="#2a2a2a" stroke-opacity="0.9" stroke-width="0.8"/>
<circle cx="225.4" cy="408.9" r="1.85" fill="#88dbba" fill-opacity="0.93" stroke="#2a2a2a" stroke-opacity="0.9" stroke-width="0.8"/>
<circle cx="232.1" cy="407.8" r="1.85" fill="#f79f7c" fill-opacity="0.93" stroke="#2a2a2a" stroke-opacity="0.9" stroke-width="0.8"/>
<circle cx="231.4" cy="411.2" r="1.85" fill="#88dbba" fill-opacity="0.93" stroke="#2a2a2a" stroke-opacity="0.9" stroke-width="0.8"/>
<circle cx="229.3" cy="412.6" r="1.85" fill="#f79f7c" fill-opacity="0.93" stroke="#2a2a2a" stroke-opacity="0.9" stroke-width="0.8"/>
<circle cx="235" cy="411.9" r="1.85" fill="#f79f7c" fill-opacity="0.93" stroke="#2a2a2a" stroke-opacity="0.9" stroke-width="0.8"/>
<circle cx="210.2" cy="410.8" r="1.85" fill="#f79f7c" fill-opacity="0.93" stroke="#2a2a2a" stroke-opacity="0.9" stroke-width="0.8"/>
<circle cx="212.5" cy="414.6" r="1.85" fill="#f79f7c" fill-opacity="0.93" stroke="#2a2a2a" stroke-opacity="0.9" stroke-width="0.8"/>
<circle cx="226.5" cy="416.2" r="1.85" fill="#88dbba" fill-opacity="0.93" stroke="#2a2a2a" stroke-opacity="0.9" stroke-width="0.8"/>
<circle cx="222" cy="417.8" r="1.85" fill="#88dbba" fill-opacity="0.93" stroke="#2a2a2a" stroke-opacity="0.9" stroke-width="0.8"/>
<circle cx="216.4" cy="420.7" r="1.85" fill="#88dbba" fill-opacity="0.93" stroke="#2a2a2a" stroke-opacity="0.9" stroke-width="0.8"/>
<circle cx="220.5" cy="422.8" r="1.85" fill="#88dbba" fill-opacity="0.93" stroke="#2a2a2a" stroke-opacity="0.9" stroke-width="0.8"/>
<circle cx="217.1" cy="425.5" r="1.85" fill="#88dbba" fill-opacity="0.93" stroke="#2a2a2a" stroke-opacity="0.9" stroke-width="0.8"/>
<circle cx="233.8" cy="420.1" r="1.85" fill="#88dbba" fill-opacity="0.93" stroke="#2a2a2a" stroke-opacity="0.9" stroke-width="0.8"/>
<circle cx="231.4" cy="424.6" r="1.85" fill="#88dbba" fill-opacity="0.93" stroke="#2a2a2a" stroke-opacity="0.9" stroke-width="0.8"/>
<circle cx="236.8" cy="424.6" r="1.85" fill="#88dbba" fill-opacity="0.93" stroke="#2a2a2a" stroke-opacity="0.9" stroke-width="0.8"/>
<circle cx="176" cy="433.2" r="1.85" fill="#88dbba" fill-opacity="0.93" stroke="#2a2a2a" stroke-opacity="0.9" stroke-width="0.8"/>
<circle cx="256.4" cy="354.6" r="1.85" fill="#88dbba" fill-opacity="0.93" stroke="#2a2a2a" stroke-opacity="0.9" stroke-width="0.8"/>
<circle cx="253.7" cy="361.7" r="1.85" fill="#88dbba" fill-opacity="0.93" stroke="#2a2a2a" stroke-opacity="0.9" stroke-width="0.8"/>
<circle cx="245.7" cy="370" r="1.85" fill="#88dbba" fill-opacity="0.93" stroke="#2a2a2a" stroke-opacity="0.9" stroke-width="0.8"/>
<circle cx="251.4" cy="372" r="1.85" fill="#f79f7c" fill-opacity="0.93" stroke="#2a2a2a" stroke-opacity="0.9" stroke-width="0.8"/>
<circle cx="255.7" cy="371.1" r="1.85" fill="#f79f7c" fill-opacity="0.93" stroke="#2a2a2a" stroke-opacity="0.9" stroke-width="0.8"/>
<circle cx="257.5" cy="375.4" r="1.85" fill="#f79f7c" fill-opacity="0.93" stroke="#2a2a2a" stroke-opacity="0.9" stroke-width="0.8"/>
<circle cx="276.1" cy="367.6" r="1.85" fill="#f79f7c" fill-opacity="0.93" stroke="#2a2a2a" stroke-opacity="0.9" stroke-width="0.8"/>
<circle cx="276.6" cy="369.8" r="1.85" fill="#88dbba" fill-opacity="0.93" stroke="#2a2a2a" stroke-opacity="0.9" stroke-width="0.8"/>
<circle cx="279.3" cy="371.4" r="1.85" fill="#88dbba" fill-opacity="0.93" stroke="#2a2a2a" stroke-opacity="0.9" stroke-width="0.8"/>
<circle cx="288.7" cy="387.5" r="1.85" fill="#88dbba" fill-opacity="0.93" stroke="#2a2a2a" stroke-opacity="0.9" stroke-width="0.8"/>
<circle cx="294.8" cy="384.6" r="1.85" fill="#88dbba" fill-opacity="0.93" stroke="#2a2a2a" stroke-opacity="0.9" stroke-width="0.8"/>
<circle cx="265.8" cy="390.9" r="1.85" fill="#88dbba" fill-opacity="0.93" stroke="#2a2a2a" stroke-opacity="0.9" stroke-width="0.8"/>
<circle cx="271" cy="394" r="1.85" fill="#88dbba" fill-opacity="0.93" stroke="#2a2a2a" stroke-opacity="0.9" stroke-width="0.8"/>
<circle cx="275.7" cy="394.9" r="1.85" fill="#88dbba" fill-opacity="0.93" stroke="#2a2a2a" stroke-opacity="0.9" stroke-width="0.8"/>
<circle cx="278" cy="390.2" r="1.85" fill="#f79f7c" fill-opacity="0.93" stroke="#2a2a2a" stroke-opacity="0.9" stroke-width="0.8"/>
<circle cx="266.9" cy="396.3" r="1.85" fill="#f79f7c" fill-opacity="0.93" stroke="#2a2a2a" stroke-opacity="0.9" stroke-width="0.8"/>
<circle cx="253.7" cy="399.5" r="1.85" fill="#f79f7c" fill-opacity="0.93" stroke="#2a2a2a" stroke-opacity="0.9" stroke-width="0.8"/>
<circle cx="252" cy="402.1" r="1.85" fill="#f79f7c" fill-opacity="0.93" stroke="#2a2a2a" stroke-opacity="0.9" stroke-width="0.8"/>
<circle cx="256.2" cy="402.1" r="1.85" fill="#f79f7c" fill-opacity="0.93" stroke="#2a2a2a" stroke-opacity="0.9" stroke-width="0.8"/>
<circle cx="257.2" cy="405" r="1.85" fill="#88dbba" fill-opacity="0.93" stroke="#2a2a2a" stroke-opacity="0.9" stroke-width="0.8"/>
<circle cx="261.1" cy="401.7" r="1.85" fill="#88dbba" fill-opacity="0.93" stroke="#2a2a2a" stroke-opacity="0.9" stroke-width="0.8"/>
<circle cx="271.6" cy="399.2" r="1.85" fill="#88dbba" fill-opacity="0.93" stroke="#2a2a2a" stroke-opacity="0.9" stroke-width="0.8"/>
<circle cx="275.3" cy="399.2" r="1.85" fill="#f79f7c" fill-opacity="0.93" stroke="#2a2a2a" stroke-opacity="0.9" stroke-width="0.8"/>
<circle cx="277" cy="405" r="1.85" fill="#88dbba" fill-opacity="0.93" stroke="#2a2a2a" stroke-opacity="0.9" stroke-width="0.8"/>
<circle cx="253.7" cy="412" r="1.85" fill="#f79f7c" fill-opacity="0.93" stroke="#2a2a2a" stroke-opacity="0.9" stroke-width="0.8"/>
<circle cx="255.7" cy="416.6" r="1.85" fill="#f79f7c" fill-opacity="0.93" stroke="#2a2a2a" stroke-opacity="0.9" stroke-width="0.8"/>
<circle cx="259.4" cy="416.4" r="1.85" fill="#88dbba" fill-opacity="0.93" stroke="#2a2a2a" stroke-opacity="0.9" stroke-width="0.8"/>
<circle cx="261.4" cy="416.4" r="1.85" fill="#f79f7c" fill-opacity="0.93" stroke="#2a2a2a" stroke-opacity="0.9" stroke-width="0.8"/>
<circle cx="272.1" cy="412.7" r="1.85" fill="#88dbba" fill-opacity="0.93" stroke="#2a2a2a" stroke-opacity="0.9" stroke-width="0.8"/>
<circle cx="275.5" cy="415.6" r="1.85" fill="#f79f7c" fill-opacity="0.93" stroke="#2a2a2a" stroke-opacity="0.9" stroke-width="0.8"/>
<circle cx="276.5" cy="419.7" r="1.85" fill="#f79f7c" fill-opacity="0.93" stroke="#2a2a2a" stroke-opacity="0.9" stroke-width="0.8"/>
<circle cx="279.5" cy="415.6" r="1.85" fill="#88dbba" fill-opacity="0.93" stroke="#2a2a2a" stroke-opacity="0.9" stroke-width="0.8"/>
<circle cx="282.3" cy="414.8" r="1.85" fill="#88dbba" fill-opacity="0.93" stroke="#2a2a2a" stroke-opacity="0.9" stroke-width="0.8"/>
<circle cx="284.7" cy="410.7" r="1.85" fill="#f79f7c" fill-opacity="0.93" stroke="#2a2a2a" stroke-opacity="0.9" stroke-width="0.8"/>
<circle cx="288.4" cy="416.6" r="1.85" fill="#f79f7c" fill-opacity="0.93" stroke="#2a2a2a" stroke-opacity="0.9" stroke-width="0.8"/>
<circle cx="290" cy="414.8" r="1.85" fill="#f79f7c" fill-opacity="0.93" stroke="#2a2a2a" stroke-opacity="0.9" stroke-width="0.8"/>
<circle cx="243.1" cy="423.7" r="1.85" fill="#88dbba" fill-opacity="0.93" stroke="#2a2a2a" stroke-opacity="0.9" stroke-width="0.8"/>
<circle cx="251.9" cy="421.8" r="1.85" fill="#88dbba" fill-opacity="0.93" stroke="#2a2a2a" stroke-opacity="0.9" stroke-width="0.8"/>
<circle cx="248.8" cy="430.7" r="1.85" fill="#f79f7c" fill-opacity="0.93" stroke="#2a2a2a" stroke-opacity="0.9" stroke-width="0.8"/>
<rect x="43.5" y="270.8" width="78.9" height="49.3" rx="2" fill="#fff" fill-opacity="0.8" stroke="#dcdcdc" stroke-width="0.8"/>
<text x="47.9" y="282.9" font-size="11" text-anchor="start" font-family="Liberation Serif, serif" fill="#1a1a1a" >mAge deviation</text>
<text x="83.5" y="298.5" font-size="11" text-anchor="start" font-family="Liberation Serif, serif" fill="#1a1a1a" >Lower</text>
<text x="83.5" y="313.8" font-size="11" text-anchor="start" font-family="Liberation Serif, serif" fill="#1a1a1a" >Higher</text>
<circle cx="63.5" cy="295.6" r="1.9" fill="#88dbba" stroke="#333" stroke-opacity="0.8" stroke-width="0.5"/>
<circle cx="63.5" cy="310.9" r="1.9" fill="#f79f7c" stroke="#333" stroke-opacity="0.8" stroke-width="0.5"/>
<rect x="38" y="265" width="269.3" height="193.1" fill="none" stroke="#747474" stroke-width="1.25"/>
<text x="172.6" y="485.2" font-size="12.85" text-anchor="middle" font-family="Liberation Serif, serif" fill="#1a1a1a" >PCo1 (11.7% variance explained)</text>
<text x="0" y="0" font-size="12.66" text-anchor="middle" font-family="Liberation Serif, serif" fill="#1a1a1a" transform="translate(10.6 361.6) rotate(-90)">PCo2 (7.7% variance explained)</text>
<text x="0.8" y="258.4" font-size="19.5" text-anchor="start" font-family="Liberation Serif, serif" fill="#1a1a1a" >C</text>
<line x1="434.9" y1="255.5" x2="434.9" y2="472.5" stroke="#efefef" stroke-width="0.6" />
<line x1="486.3" y1="255.5" x2="486.3" y2="472.5" stroke="#efefef" stroke-width="0.6" />
<line x1="537.7" y1="255.5" x2="537.7" y2="472.5" stroke="#efefef" stroke-width="0.6" />
<line x1="589.1" y1="255.5" x2="589.1" y2="472.5" stroke="#efefef" stroke-width="0.6" />
<line x1="400" y1="429.65" x2="601" y2="429.65" stroke="#efefef" stroke-width="0.6" />
<line x1="400" y1="363.95" x2="601" y2="363.95" stroke="#efefef" stroke-width="0.6" />
<line x1="400" y1="298.25" x2="601" y2="298.25" stroke="#efefef" stroke-width="0.6" />
<line x1="409.2" y1="255.5" x2="409.2" y2="472.5" stroke="#e6e6e6" stroke-width="1.1" />
<line x1="460.6" y1="255.5" x2="460.6" y2="472.5" stroke="#e6e6e6" stroke-width="1.1" />
<line x1="512" y1="255.5" x2="512" y2="472.5" stroke="#e6e6e6" stroke-width="1.1" />
<line x1="563.4" y1="255.5" x2="563.4" y2="472.5" stroke="#e6e6e6" stroke-width="1.1" />
<line x1="400" y1="462.5" x2="601" y2="462.5" stroke="#e6e6e6" stroke-width="1.1" />
<line x1="400" y1="396.8" x2="601" y2="396.8" stroke="#e6e6e6" stroke-width="1.1" />
<line x1="400" y1="331.1" x2="601" y2="331.1" stroke="#e6e6e6" stroke-width="1.1" />
<line x1="400" y1="265.4" x2="601" y2="265.4" stroke="#e6e6e6" stroke-width="1.1" />
<text x="409.2" y="482.6" font-size="8.4" text-anchor="middle" font-family="Liberation Sans, sans-serif" fill="#4d4d4d" >0.00</text>
<text x="460.6" y="482.6" font-size="8.4" text-anchor="middle" font-family="Liberation Sans, sans-serif" fill="#4d4d4d" >0.01</text>
<text x="512" y="482.6" font-size="8.4" text-anchor="middle" font-family="Liberation Sans, sans-serif" fill="#4d4d4d" >0.02</text>
<text x="563.4" y="482.6" font-size="8.4" text-anchor="middle" font-family="Liberation Sans, sans-serif" fill="#4d4d4d" >0.03</text>
<text x="395.4" y="465.4" font-size="8.2" text-anchor="end" font-family="Liberation Sans, sans-serif" fill="#4d4d4d" >0</text>
<text x="395.4" y="399.7" font-size="8.2" text-anchor="end" font-family="Liberation Sans, sans-serif" fill="#4d4d4d" >1</text>
<text x="395.4" y="334" font-size="8.2" text-anchor="end" font-family="Liberation Sans, sans-serif" fill="#4d4d4d" >2</text>
<text x="395.4" y="268.3" font-size="8.2" text-anchor="end" font-family="Liberation Sans, sans-serif" fill="#4d4d4d" >3</text>
<line x1="400" y1="377.5" x2="601" y2="377.5" stroke="#b3b3b3" stroke-width="0.6" stroke-dasharray="2 2"/>
<circle cx="409.3" cy="265.6" r="1.65" fill="#0000ff" fill-opacity="0.85"/>
<circle cx="410.2" cy="265.6" r="1.65" fill="#0000ff" fill-opacity="0.85"/>
<circle cx="411.2" cy="265.6" r="1.65" fill="#0000ff" fill-opacity="0.85"/>
<circle cx="412" cy="265.6" r="1.65" fill="#0000ff" fill-opacity="0.85"/>
<circle cx="409.3" cy="296.7" r="1.65" fill="#0000ff" fill-opacity="0.9"/>
<circle cx="409.3" cy="305.1" r="1.65" fill="#0000ff" fill-opacity="0.9"/>
<circle cx="409.3" cy="311.4" r="1.65" fill="#0000ff" fill-opacity="0.9"/>
<circle cx="411.5" cy="311.4" r="1.65" fill="#0000ff" fill-opacity="0.55"/>
<circle cx="409.3" cy="316.7" r="1.65" fill="#0000ff" fill-opacity="0.6"/>
<circle cx="409.3" cy="321.2" r="1.65" fill="#0000ff" fill-opacity="0.9"/>
<circle cx="409.3" cy="324.8" r="1.65" fill="#0000ff" fill-opacity="0.6"/>
<circle cx="409.3" cy="328" r="1.65" fill="#0000ff" fill-opacity="0.9"/>
<circle cx="411.1" cy="328.2" r="1.65" fill="#0000ff" fill-opacity="0.8"/>
<circle cx="409.3" cy="331.1" r="1.65" fill="#0000ff" fill-opacity="0.9"/>
<circle cx="409.3" cy="333.8" r="1.65" fill="#0000ff" fill-opacity="0.9"/>
<circle cx="410" cy="336.6" r="1.65" fill="#0000ff" fill-opacity="0.9"/>
<circle cx="409.3" cy="339.3" r="1.65" fill="#0000ff" fill-opacity="0.9"/>
<circle cx="409.4" cy="339" r="1.65" fill="#0000ff" fill-opacity="0.95"/>
<circle cx="409.53" cy="338.72" r="1.65" fill="#1b00fd" fill-opacity="0.85"/>
<circle cx="409.4" cy="339.8" r="1.65" fill="#0000ff" fill-opacity="0.95"/>
<circle cx="409.43" cy="339.83" r="1.65" fill="#1300fe" fill-opacity="0.85"/>
<circle cx="409.4" cy="340.6" r="1.65" fill="#0000ff" fill-opacity="0.95"/>
<circle cx="409.42" cy="340.61" r="1.65" fill="#0200ff" fill-opacity="0.85"/>
<circle cx="409.4" cy="341.4" r="1.65" fill="#0000ff" fill-opacity="0.95"/>
<circle cx="409.57" cy="341.06" r="1.65" fill="#0500ff" fill-opacity="0.85"/>
<circle cx="409.4" cy="342.2" r="1.65" fill="#0000ff" fill-opacity="0.95"/>
<circle cx="409.57" cy="342.46" r="1.65" fill="#0700ff" fill-opacity="0.85"/>
<circle cx="409.4" cy="343" r="1.65" fill="#0000ff" fill-opacity="0.95"/>
<circle cx="409.49" cy="343.1" r="1.65" fill="#2200fc" fill-opacity="0.85"/>
<circle cx="409.4" cy="343.8" r="1.65" fill="#0000ff" fill-opacity="0.95"/>
<circle cx="409.63" cy="343.72" r="1.65" fill="#2300fc" fill-opacity="0.85"/>
<circle cx="409.4" cy="344.6" r="1.65" fill="#0000ff" fill-opacity="0.95"/>
<circle cx="409.42" cy="344.89" r="1.65" fill="#1000fe" fill-opacity="0.85"/>
<circle cx="409.4" cy="345.4" r="1.65" fill="#0000ff" fill-opacity="0.95"/>
<circle cx="409.46" cy="345.09" r="1.65" fill="#1000fe" fill-opacity="0.85"/>
<circle cx="409.4" cy="346.2" r="1.65" fill="#0000ff" fill-opacity="0.95"/>
<circle cx="409.73" cy="345.94" r="1.65" fill="#1a00fd" fill-opacity="0.85"/>
<circle cx="409.4" cy="347" r="1.65" fill="#0000ff" fill-opacity="0.95"/>
<circle cx="409.66" cy="346.9" r="1.65" fill="#1900fd" fill-opacity="0.85"/>
<circle cx="409.4" cy="347.8" r="1.65" fill="#0000ff" fill-opacity="0.95"/>
<circle cx="409.43" cy="347.45" r="1.65" fill="#0c00fe" fill-opacity="0.85"/>
<circle cx="409.4" cy="348.6" r="1.65" fill="#0000ff" fill-opacity="0.95"/>
<circle cx="409.68" cy="348.54" r="1.65" fill="#1100fe" fill-opacity="0.85"/>
<circle cx="409.4" cy="349.4" r="1.65" fill="#0000ff" fill-opacity="0.95"/>
<circle cx="409.64" cy="349.36" r="1.65" fill="#1000fe" fill-opacity="0.85"/>
<circle cx="409.4" cy="350.2" r="1.65" fill="#0000ff" fill-opacity="0.95"/>
<circle cx="409.73" cy="350.36" r="1.65" fill="#0e00fe" fill-opacity="0.85"/>
<circle cx="409.4" cy="351" r="1.65" fill="#0000ff" fill-opacity="0.95"/>
<circle cx="409.64" cy="351.02" r="1.65" fill="#2100fc" fill-opacity="0.85"/>
<circle cx="409.4" cy="351.8" r="1.65" fill="#0000ff" fill-opacity="0.95"/>
<circle cx="409.71" cy="351.63" r="1.65" fill="#2300fc" fill-opacity="0.85"/>
<circle cx="409.4" cy="352.6" r="1.65" fill="#0000ff" fill-opacity="0.95"/>
<circle cx="409.45" cy="352.53" r="1.65" fill="#1e00fd" fill-opacity="0.85"/>
<circle cx="409.4" cy="353.4" r="1.65" fill="#0000ff" fill-opacity="0.95"/>
<circle cx="409.47" cy="353.39" r="1.65" fill="#0200ff" fill-opacity="0.85"/>
<circle cx="409.4" cy="354.2" r="1.65" fill="#0000ff" fill-opacity="0.95"/>
<circle cx="409.69" cy="354.41" r="1.65" fill="#1900fd" fill-opacity="0.85"/>
<circle cx="409.4" cy="355" r="1.65" fill="#0000ff" fill-opacity="0.95"/>
<circle cx="409.79" cy="354.85" r="1.65" fill="#1d00fd" fill-opacity="0.85"/>
<circle cx="409.4" cy="355.8" r="1.65" fill="#0000ff" fill-opacity="0.95"/>
<circle cx="409.66" cy="355.86" r="1.65" fill="#1600fe" fill-opacity="0.85"/>
<circle cx="409.4" cy="356.6" r="1.65" fill="#0000ff" fill-opacity="0.95"/>
<circle cx="409.78" cy="356.96" r="1.65" fill="#1600fe" fill-opacity="0.85"/>
<circle cx="409.4" cy="357.4" r="1.65" fill="#0000ff" fill-opacity="0.95"/>
<circle cx="409.7" cy="357.05" r="1.65" fill="#1d00fd" fill-opacity="0.85"/>
<circle cx="409.4" cy="358.2" r="1.65" fill="#0000ff" fill-opacity="0.95"/>
<circle cx="409.7" cy="358.59" r="1.65" fill="#2000fd" fill-opacity="0.85"/>
<circle cx="409.4" cy="359" r="1.65" fill="#0000ff" fill-opacity="0.95"/>
<circle cx="409.53" cy="358.91" r="1.65" fill="#1c00fd" fill-opacity="0.85"/>
<circle cx="409.4" cy="359.8" r="1.65" fill="#0000ff" fill-opacity="0.95"/>
<circle cx="409.41" cy="359.77" r="1.65" fill="#0a00ff" fill-opacity="0.85"/>
<circle cx="409.4" cy="360.6" r="1.65" fill="#0000ff" fill-opacity="0.95"/>
<circle cx="409.46" cy="360.25" r="1.65" fill="#1e00fd" fill-opacity="0.85"/>
<circle cx="409.4" cy="361.4" r="1.65" fill="#0000ff" fill-opacity="0.95"/>
<circle cx="409.46" cy="361.2" r="1.65" fill="#1400fe" fill-opacity="0.85"/>
<circle cx="409.4" cy="362.2" r="1.65" fill="#0000ff" fill-opacity="0.95"/>
<circle cx="409.83" cy="361.86" r="1.65" fill="#1600fe" fill-opacity="0.85"/>
<circle cx="409.4" cy="363" r="1.65" fill="#0000ff" fill-opacity="0.95"/>
<circle cx="409.67" cy="363.31" r="1.65" fill="#2000fd" fill-opacity="0.85"/>
<circle cx="409.4" cy="363.8" r="1.65" fill="#0000ff" fill-opacity="0.95"/>
<circle cx="409.84" cy="363.62" r="1.65" fill="#1400fe" fill-opacity="0.85"/>
<circle cx="409.4" cy="364.6" r="1.65" fill="#0000ff" fill-opacity="0.95"/>
<circle cx="409.58" cy="364.91" r="1.65" fill="#2300fc" fill-opacity="0.85"/>
<circle cx="409.4" cy="365.4" r="1.65" fill="#0000ff" fill-opacity="0.95"/>
<circle cx="409.48" cy="365.14" r="1.65" fill="#0d00fe" fill-opacity="0.85"/>
<circle cx="409.4" cy="366.2" r="1.65" fill="#0000ff" fill-opacity="0.95"/>
<circle cx="409.52" cy="366.19" r="1.65" fill="#1a00fd" fill-opacity="0.85"/>
<circle cx="409.4" cy="367" r="1.65" fill="#0000ff" fill-opacity="0.95"/>
<circle cx="409.54" cy="366.6" r="1.65" fill="#1500fe" fill-opacity="0.85"/>
<circle cx="409.4" cy="367.8" r="1.65" fill="#0000ff" fill-opacity="0.95"/>
<circle cx="409.6" cy="367.85" r="1.65" fill="#2300fc" fill-opacity="0.85"/>
<circle cx="409.4" cy="368.6" r="1.65" fill="#0000ff" fill-opacity="0.95"/>
<circle cx="409.78" cy="368.61" r="1.65" fill="#1b00fd" fill-opacity="0.85"/>
<circle cx="409.4" cy="369.4" r="1.65" fill="#0000ff" fill-opacity="0.95"/>
<circle cx="409.78" cy="369.04" r="1.65" fill="#2100fc" fill-opacity="0.85"/>
<circle cx="409.4" cy="370.2" r="1.65" fill="#0000ff" fill-opacity="0.95"/>
<circle cx="409.85" cy="370.5" r="1.65" fill="#1f00fd" fill-opacity="0.85"/>
<circle cx="409.4" cy="371" r="1.65" fill="#0000ff" fill-opacity="0.95"/>
<circle cx="409.63" cy="370.92" r="1.65" fill="#0600ff" fill-opacity="0.85"/>
<circle cx="409.4" cy="371.8" r="1.65" fill="#0000ff" fill-opacity="0.95"/>
<circle cx="409.78" cy="371.45" r="1.65" fill="#0400ff" fill-opacity="0.85"/>
<circle cx="409.4" cy="372.6" r="1.65" fill="#0000ff" fill-opacity="0.95"/>
<circle cx="409.53" cy="372.33" r="1.65" fill="#1200fe" fill-opacity="0.85"/>
<circle cx="409.4" cy="373.4" r="1.65" fill="#0000ff" fill-opacity="0.95"/>
<circle cx="409.43" cy="373" r="1.65" fill="#0900ff" fill-opacity="0.85"/>
<circle cx="409.4" cy="374.2" r="1.65" fill="#0000ff" fill-opacity="0.95"/>
<circle cx="409.46" cy="374.09" r="1.65" fill="#0100ff" fill-opacity="0.85"/>
<circle cx="409.4" cy="375" r="1.65" fill="#0000ff" fill-opacity="0.95"/>
<circle cx="409.96" cy="375.09" r="1.65" fill="#0800ff" fill-opacity="0.85"/>
<circle cx="409.4" cy="375.8" r="1.65" fill="#0000ff" fill-opacity="0.95"/>
<circle cx="409.56" cy="375.68" r="1.65" fill="#1300fe" fill-opacity="0.85"/>
<circle cx="409.4" cy="376.6" r="1.65" fill="#0000ff" fill-opacity="0.95"/>
<circle cx="409.48" cy="376.88" r="1.65" fill="#2300fc" fill-opacity="0.85"/>
<circle cx="409.4" cy="377.4" r="1.65" fill="#0000ff" fill-opacity="0.95"/>
<circle cx="409.72" cy="377.39" r="1.65" fill="#0500ff" fill-opacity="0.85"/>
<circle cx="409.4" cy="378.2" r="1.65" fill="#0000ff" fill-opacity="0.95"/>
<circle cx="409.47" cy="378.07" r="1.65" fill="#0f00fe" fill-opacity="0.85"/>
<circle cx="409.4" cy="379" r="1.65" fill="#0000ff" fill-opacity="0.95"/>
<circle cx="409.98" cy="378.73" r="1.65" fill="#0100ff" fill-opacity="0.85"/>
<circle cx="409.4" cy="379.8" r="1.65" fill="#0000ff" fill-opacity="0.95"/>
<circle cx="410.08" cy="379.82" r="1.65" fill="#0800ff" fill-opacity="0.85"/>
<circle cx="409.4" cy="380.6" r="1.65" fill="#0000ff" fill-opacity="0.95"/>
<circle cx="409.8" cy="380.22" r="1.65" fill="#1800fd" fill-opacity="0.85"/>
<circle cx="410.12" cy="380.89" r="1.65" fill="#1d00fd" fill-opacity="0.85"/>
<circle cx="409.4" cy="381.4" r="1.65" fill="#0000ff" fill-opacity="0.95"/>
<circle cx="409.59" cy="381.29" r="1.65" fill="#0a00ff" fill-opacity="0.85"/>
<circle cx="409.98" cy="381.43" r="1.65" fill="#1f00fd" fill-opacity="0.85"/>
<circle cx="409.4" cy="382.2" r="1.65" fill="#0000ff" fill-opacity="0.95"/>
<circle cx="409.65" cy="381.98" r="1.65" fill="#1f00fd" fill-opacity="0.85"/>
<circle cx="410.15" cy="382.48" r="1.65" fill="#1f00fd" fill-opacity="0.85"/>
<circle cx="409.4" cy="383" r="1.65" fill="#0000ff" fill-opacity="0.95"/>
<circle cx="410.03" cy="383.19" r="1.65" fill="#0d00fe" fill-opacity="0.85"/>
<circle cx="409.8" cy="382.88" r="1.65" fill="#0200ff" fill-opacity="0.85"/>
<circle cx="409.4" cy="383.8" r="1.65" fill="#0000ff" fill-opacity="0.95"/>
<circle cx="409.42" cy="383.62" r="1.65" fill="#0e00fe" fill-opacity="0.85"/>
<circle cx="409.95" cy="384.17" r="1.65" fill="#1500fe" fill-opacity="0.85"/>
<circle cx="409.4" cy="384.6" r="1.65" fill="#0000ff" fill-opacity="0.95"/>
<circle cx="410.15" cy="384.99" r="1.65" fill="#2300fc" fill-opacity="0.85"/>
<circle cx="409.69" cy="384.38" r="1.65" fill="#0d00fe" fill-opacity="0.85"/>
<circle cx="409.4" cy="385.4" r="1.65" fill="#0000ff" fill-opacity="0.95"/>
<circle cx="409.56" cy="385.16" r="1.65" fill="#1b00fd" fill-opacity="0.85"/>
<circle cx="410.14" cy="385.67" r="1.65" fill="#1700fe" fill-opacity="0.85"/>
<circle cx="409.4" cy="386.2" r="1.65" fill="#0000ff" fill-opacity="0.95"/>
<circle cx="409.95" cy="386.44" r="1.65" fill="#0500ff" fill-opacity="0.85"/>
<circle cx="409.95" cy="386.53" r="1.65" fill="#1f00fd" fill-opacity="0.85"/>
<circle cx="409.4" cy="387" r="1.65" fill="#0000ff" fill-opacity="0.95"/>
<circle cx="410.04" cy="386.98" r="1.65" fill="#0a00fe" fill-opacity="0.85"/>
<circle cx="410.07" cy="386.87" r="1.65" fill="#1f00fd" fill-opacity="0.85"/>
<circle cx="409.4" cy="387.8" r="1.65" fill="#0000ff" fill-opacity="0.95"/>
<circle cx="410.25" cy="387.72" r="1.65" fill="#1400fe" fill-opacity="0.85"/>
<circle cx="410.22" cy="387.98" r="1.65" fill="#0a00fe" fill-opacity="0.85"/>
<circle cx="409.4" cy="388.6" r="1.65" fill="#0000ff" fill-opacity="0.95"/>
<circle cx="409.51" cy="388.32" r="1.65" fill="#2200fc" fill-opacity="0.85"/>
<circle cx="410.12" cy="388.32" r="1.65" fill="#2000fd" fill-opacity="0.85"/>
<circle cx="409.4" cy="389.4" r="1.65" fill="#0000ff" fill-opacity="0.95"/>
<circle cx="410.29" cy="389.53" r="1.65" fill="#1200fe" fill-opacity="0.85"/>
<circle cx="409.9" cy="389.1" r="1.65" fill="#0100ff" fill-opacity="0.85"/>
<circle cx="409.4" cy="390.2" r="1.65" fill="#0000ff" fill-opacity="0.95"/>
<circle cx="410.3" cy="390.32" r="1.65" fill="#1800fd" fill-opacity="0.85"/>
<circle cx="410.26" cy="390.15" r="1.65" fill="#2100fc" fill-opacity="0.85"/>
<circle cx="409.4" cy="391" r="1.65" fill="#0000ff" fill-opacity="0.95"/>
<circle cx="410.18" cy="390.77" r="1.65" fill="#0e00fe" fill-opacity="0.85"/>
<circle cx="409.68" cy="390.79" r="1.65" fill="#1a00fd" fill-opacity="0.85"/>
<circle cx="409.4" cy="391.8" r="1.65" fill="#0000ff" fill-opacity="0.95"/>
<circle cx="409.65" cy="391.74" r="1.65" fill="#0700ff" fill-opacity="0.85"/>
<circle cx="410.27" cy="391.68" r="1.65" fill="#1600fe" fill-opacity="0.85"/>
<circle cx="409.4" cy="392.6" r="1.65" fill="#0000ff" fill-opacity="0.95"/>
<circle cx="409.97" cy="392.92" r="1.65" fill="#1500fe" fill-opacity="0.85"/>
<circle cx="410.3" cy="392.6" r="1.65" fill="#1800fd" fill-opacity="0.85"/>
<circle cx="409.4" cy="393.4" r="1.65" fill="#0000ff" fill-opacity="0.95"/>
<circle cx="409.92" cy="393.01" r="1.65" fill="#1500fe" fill-opacity="0.85"/>
<circle cx="409.58" cy="393" r="1.65" fill="#1f00fd" fill-opacity="0.85"/>
<circle cx="409.4" cy="394.2" r="1.65" fill="#0000ff" fill-opacity="0.95"/>
<circle cx="409.58" cy="394.18" r="1.65" fill="#1d00fd" fill-opacity="0.85"/>
<circle cx="409.97" cy="394.06" r="1.65" fill="#1800fd" fill-opacity="0.85"/>
<circle cx="409.4" cy="395" r="1.65" fill="#0000ff" fill-opacity="0.95"/>
<circle cx="409.98" cy="395.23" r="1.65" fill="#0600ff" fill-opacity="0.85"/>
<circle cx="409.98" cy="394.8" r="1.65" fill="#0f00fe" fill-opacity="0.85"/>
<circle cx="409.4" cy="395.8" r="1.65" fill="#0000ff" fill-opacity="0.95"/>
<circle cx="410.22" cy="395.81" r="1.65" fill="#1900fd" fill-opacity="0.85"/>
<circle cx="410.2" cy="396.13" r="1.65" fill="#1500fe" fill-opacity="0.85"/>
<circle cx="409.4" cy="396.6" r="1.65" fill="#0000ff" fill-opacity="0.95"/>
<circle cx="410.06" cy="396.6" r="1.65" fill="#1800fd" fill-opacity="0.85"/>
<circle cx="410.15" cy="396.56" r="1.65" fill="#1800fd" fill-opacity="0.85"/>
<circle cx="409.4" cy="397.4" r="1.65" fill="#0000ff" fill-opacity="0.95"/>
<circle cx="409.93" cy="397.75" r="1.65" fill="#1d00fd" fill-opacity="0.85"/>
<circle cx="410.36" cy="397.75" r="1.65" fill="#0e00fe" fill-opacity="0.85"/>
<circle cx="409.4" cy="398.2" r="1.65" fill="#0000ff" fill-opacity="0.95"/>
<circle cx="410.03" cy="398.55" r="1.65" fill="#2000fd" fill-opacity="0.85"/>
<circle cx="409.55" cy="397.9" r="1.65" fill="#1500fe" fill-opacity="0.85"/>
<circle cx="409.4" cy="399" r="1.65" fill="#0000ff" fill-opacity="0.95"/>
<circle cx="409.48" cy="398.79" r="1.65" fill="#0400ff" fill-opacity="0.85"/>
<circle cx="410.16" cy="399.23" r="1.65" fill="#2100fc" fill-opacity="0.85"/>
<circle cx="409.4" cy="399.8" r="1.65" fill="#0000ff" fill-opacity="0.95"/>
<circle cx="409.58" cy="399.97" r="1.65" fill="#1c00fd" fill-opacity="0.85"/>
<circle cx="409.57" cy="400.11" r="1.65" fill="#2300fc" fill-opacity="0.85"/>
<circle cx="409.4" cy="400.6" r="1.65" fill="#0000ff" fill-opacity="0.95"/>
<circle cx="409.66" cy="400.96" r="1.65" fill="#1400fe" fill-opacity="0.85"/>
<circle cx="409.98" cy="400.99" r="1.65" fill="#2000fd" fill-opacity="0.85"/>
<circle cx="409.4" cy="401.4" r="1.65" fill="#0000ff" fill-opacity="0.95"/>
<circle cx="409.6" cy="401.35" r="1.65" fill="#1800fd" fill-opacity="0.85"/>
<circle cx="409.81" cy="401.16" r="1.65" fill="#1100fe" fill-opacity="0.85"/>
<circle cx="409.4" cy="402.2" r="1.65" fill="#0000ff" fill-opacity="0.95"/>
<circle cx="410.29" cy="401.82" r="1.65" fill="#1900fd" fill-opacity="0.85"/>
<circle cx="409.94" cy="401.81" r="1.65" fill="#1100fe" fill-opacity="0.85"/>
<circle cx="409.4" cy="403" r="1.65" fill="#0000ff" fill-opacity="0.95"/>
<circle cx="410.18" cy="403.01" r="1.65" fill="#0400ff" fill-opacity="0.85"/>
<circle cx="410.64" cy="403.23" r="1.65" fill="#2300fc" fill-opacity="0.85"/>
<circle cx="409.4" cy="403.8" r="1.65" fill="#0000ff" fill-opacity="0.95"/>
<circle cx="409.53" cy="403.61" r="1.65" fill="#0200ff" fill-opacity="0.85"/>
<circle cx="410.4" cy="403.62" r="1.65" fill="#0700ff" fill-opacity="0.85"/>
<circle cx="409.4" cy="404.6" r="1.65" fill="#0000ff" fill-opacity="0.95"/>
<circle cx="409.95" cy="404.93" r="1.65" fill="#2000fd" fill-opacity="0.85"/>
<circle cx="409.74" cy="404.32" r="1.65" fill="#2200fc" fill-opacity="0.85"/>
<circle cx="409.4" cy="405.4" r="1.65" fill="#0000ff" fill-opacity="0.95"/>
<circle cx="410.16" cy="405.56" r="1.65" fill="#0500ff" fill-opacity="0.85"/>
<circle cx="409.48" cy="405.55" r="1.65" fill="#1500fe" fill-opacity="0.85"/>
<circle cx="409.4" cy="406.2" r="1.65" fill="#0000ff" fill-opacity="0.95"/>
<circle cx="409.5" cy="406.55" r="1.65" fill="#1b00fd" fill-opacity="0.85"/>
<circle cx="410.48" cy="405.87" r="1.65" fill="#2000fc" fill-opacity="0.85"/>
<circle cx="409.4" cy="407" r="1.65" fill="#0000ff" fill-opacity="0.95"/>
<circle cx="409.49" cy="407.29" r="1.65" fill="#1600fe" fill-opacity="0.85"/>
<circle cx="409.87" cy="407.04" r="1.65" fill="#2200fc" fill-opacity="0.85"/>
<circle cx="409.4" cy="407.8" r="1.65" fill="#0000ff" fill-opacity="0.95"/>
<circle cx="409.78" cy="407.5" r="1.65" fill="#1800fd" fill-opacity="0.85"/>
<circle cx="409.73" cy="407.49" r="1.65" fill="#0900ff" fill-opacity="0.85"/>
<circle cx="409.4" cy="408.6" r="1.65" fill="#0000ff" fill-opacity="0.95"/>
<circle cx="409.47" cy="408.36" r="1.65" fill="#1100fe" fill-opacity="0.85"/>
<circle cx="409.84" cy="408.81" r="1.65" fill="#1000fe" fill-opacity="0.85"/>
<circle cx="409.4" cy="409.4" r="1.65" fill="#0000ff" fill-opacity="0.95"/>
<circle cx="410.13" cy="409.14" r="1.65" fill="#1200fe" fill-opacity="0.85"/>
<circle cx="409.43" cy="409.2" r="1.65" fill="#0100ff" fill-opacity="0.85"/>
<circle cx="409.4" cy="410.2" r="1.65" fill="#0000ff" fill-opacity="0.95"/>
<circle cx="410.49" cy="410.24" r="1.65" fill="#0b00fe" fill-opacity="0.85"/>
<circle cx="410.1" cy="410.55" r="1.65" fill="#0600ff" fill-opacity="0.85"/>
<circle cx="409.4" cy="411" r="1.65" fill="#0000ff" fill-opacity="0.95"/>
<circle cx="410.64" cy="410.95" r="1.65" fill="#1700fe" fill-opacity="0.85"/>
<circle cx="410.66" cy="410.91" r="1.65" fill="#1700fe" fill-opacity="0.85"/>
<circle cx="409.4" cy="411.8" r="1.65" fill="#0000ff" fill-opacity="0.95"/>
<circle cx="410.46" cy="412.19" r="1.65" fill="#1200fe" fill-opacity="0.85"/>
<circle cx="410.68" cy="411.97" r="1.65" fill="#1b00fd" fill-opacity="0.85"/>
<circle cx="409.4" cy="412.6" r="1.65" fill="#0000ff" fill-opacity="0.95"/>
<circle cx="410.03" cy="412.48" r="1.65" fill="#0300ff" fill-opacity="0.85"/>
<circle cx="409.6" cy="412.26" r="1.65" fill="#1e00fd" fill-opacity="0.85"/>
<circle cx="409.4" cy="413.4" r="1.65" fill="#0000ff" fill-opacity="0.95"/>
<circle cx="409.81" cy="413.13" r="1.65" fill="#0500ff" fill-opacity="0.85"/>
<circle cx="410.74" cy="413.7" r="1.65" fill="#1c00fd" fill-opacity="0.85"/>
<circle cx="409.4" cy="414.2" r="1.65" fill="#0000ff" fill-opacity="0.95"/>
<circle cx="409.86" cy="413.99" r="1.65" fill="#1000fe" fill-opacity="0.85"/>
<circle cx="410.14" cy="413.93" r="1.65" fill="#1500fe" fill-opacity="0.85"/>
<circle cx="409.4" cy="415" r="1.65" fill="#0000ff" fill-opacity="0.95"/>
<circle cx="409.83" cy="415.37" r="1.65" fill="#2300fc" fill-opacity="0.85"/>
<circle cx="410.3" cy="414.8" r="1.65" fill="#2300fc" fill-opacity="0.85"/>
<circle cx="409.4" cy="415.8" r="1.65" fill="#0000ff" fill-opacity="0.95"/>
<circle cx="409.92" cy="415.69" r="1.65" fill="#0000ff" fill-opacity="0.85"/>
<circle cx="410.04" cy="415.78" r="1.65" fill="#1700fe" fill-opacity="0.85"/>
<circle cx="409.4" cy="416.6" r="1.65" fill="#0000ff" fill-opacity="0.95"/>
<circle cx="409.74" cy="416.6" r="1.65" fill="#0000ff" fill-opacity="0.85"/>
<circle cx="409.85" cy="416.27" r="1.65" fill="#1400fe" fill-opacity="0.85"/>
<circle cx="409.4" cy="417.4" r="1.65" fill="#0000ff" fill-opacity="0.95"/>
<circle cx="409.47" cy="417.02" r="1.65" fill="#1000fe" fill-opacity="0.85"/>
<circle cx="409.8" cy="417.47" r="1.65" fill="#1800fd" fill-opacity="0.85"/>
<circle cx="409.4" cy="418.2" r="1.65" fill="#0000ff" fill-opacity="0.95"/>
<circle cx="410.73" cy="418.33" r="1.65" fill="#1d00fd" fill-opacity="0.85"/>
<circle cx="410.95" cy="418.11" r="1.65" fill="#1100fe" fill-opacity="0.85"/>
<circle cx="409.4" cy="419" r="1.65" fill="#0000ff" fill-opacity="0.95"/>
<circle cx="411.17" cy="418.72" r="1.65" fill="#1d00fd" fill-opacity="0.85"/>
<circle cx="410.56" cy="418.64" r="1.65" fill="#2000fd" fill-opacity="0.85"/>
<circle cx="409.4" cy="419.8" r="1.65" fill="#0000ff" fill-opacity="0.95"/>
<circle cx="411.03" cy="419.9" r="1.65" fill="#1e00fd" fill-opacity="0.85"/>
<circle cx="410.88" cy="419.51" r="1.65" fill="#1800fd" fill-opacity="0.85"/>
<circle cx="409.4" cy="420.6" r="1.65" fill="#0000ff" fill-opacity="0.95"/>
<circle cx="410.34" cy="420.87" r="1.65" fill="#1f00fd" fill-opacity="0.85"/>
<circle cx="410.94" cy="420.67" r="1.65" fill="#2100fc" fill-opacity="0.85"/>
<circle cx="409.4" cy="421.4" r="1.65" fill="#0000ff" fill-opacity="0.95"/>
<circle cx="410.69" cy="421.55" r="1.65" fill="#0d00fe" fill-opacity="0.85"/>
<circle cx="409.46" cy="421.11" r="1.65" fill="#1200fe" fill-opacity="0.85"/>
<circle cx="409.6" cy="421.67" r="1.65" fill="#1900fd" fill-opacity="0.85"/>
<circle cx="409.4" cy="422.2" r="1.65" fill="#0000ff" fill-opacity="0.95"/>
<circle cx="410.61" cy="422.3" r="1.65" fill="#1c00fd" fill-opacity="0.85"/>
<circle cx="410.34" cy="421.8" r="1.65" fill="#1f00fd" fill-opacity="0.85"/>
<circle cx="410.84" cy="422.2" r="1.65" fill="#1800fd" fill-opacity="0.85"/>
<circle cx="409.4" cy="423" r="1.65" fill="#0000ff" fill-opacity="0.95"/>
<circle cx="410.69" cy="422.65" r="1.65" fill="#1e00fd" fill-opacity="0.85"/>
<circle cx="409.89" cy="422.66" r="1.65" fill="#0f00fe" fill-opacity="0.85"/>
<circle cx="410.83" cy="422.76" r="1.65" fill="#1e00fd" fill-opacity="0.85"/>
<circle cx="409.4" cy="423.8" r="1.65" fill="#0000ff" fill-opacity="0.95"/>
<circle cx="411.34" cy="423.8" r="1.65" fill="#1300fe" fill-opacity="0.85"/>
<circle cx="410.35" cy="423.95" r="1.65" fill="#1e00fd" fill-opacity="0.85"/>
<circle cx="410.63" cy="423.91" r="1.65" fill="#0400ff" fill-opacity="0.85"/>
<circle cx="409.4" cy="424.6" r="1.65" fill="#0000ff" fill-opacity="0.95"/>
<circle cx="409.7" cy="424.4" r="1.65" fill="#1e00fd" fill-opacity="0.85"/>
<circle cx="410.02" cy="424.65" r="1.65" fill="#0100ff" fill-opacity="0.85"/>
<circle cx="409.52" cy="424.42" r="1.65" fill="#1c00fd" fill-opacity="0.85"/>
<circle cx="409.4" cy="425.4" r="1.65" fill="#0000ff" fill-opacity="0.95"/>
<circle cx="410.82" cy="425.54" r="1.65" fill="#1000fe" fill-opacity="0.85"/>
<circle cx="410.46" cy="425.37" r="1.65" fill="#1600fe" fill-opacity="0.85"/>
<circle cx="409.64" cy="425.71" r="1.65" fill="#0b00fe" fill-opacity="0.85"/>
<circle cx="409.4" cy="426.2" r="1.65" fill="#0000ff" fill-opacity="0.95"/>
<circle cx="411.44" cy="426.55" r="1.65" fill="#0100ff" fill-opacity="0.85"/>
<circle cx="410.36" cy="426.46" r="1.65" fill="#2300fc" fill-opacity="0.85"/>
<circle cx="410.34" cy="426.01" r="1.65" fill="#0c00fe" fill-opacity="0.85"/>
<circle cx="409.4" cy="427" r="1.65" fill="#0000ff" fill-opacity="0.95"/>
<circle cx="411.41" cy="426.77" r="1.65" fill="#1a00fd" fill-opacity="0.85"/>
<circle cx="409.7" cy="427.02" r="1.65" fill="#2300fc" fill-opacity="0.85"/>
<circle cx="409.68" cy="427.26" r="1.65" fill="#1700fd" fill-opacity="0.85"/>
<circle cx="409.4" cy="427.8" r="1.65" fill="#0000ff" fill-opacity="0.95"/>
<circle cx="411.31" cy="427.96" r="1.65" fill="#0d00fe" fill-opacity="0.85"/>
<circle cx="411.34" cy="427.79" r="1.65" fill="#0100ff" fill-opacity="0.85"/>
<circle cx="409.41" cy="427.79" r="1.65" fill="#1600fe" fill-opacity="0.85"/>
<circle cx="409.4" cy="428.6" r="1.65" fill="#0000ff" fill-opacity="0.95"/>
<circle cx="410.06" cy="428.31" r="1.65" fill="#1200fe" fill-opacity="0.85"/>
<circle cx="410.09" cy="428.87" r="1.65" fill="#0000ff" fill-opacity="0.85"/>
<circle cx="411.05" cy="428.87" r="1.65" fill="#0700ff" fill-opacity="0.85"/>
<circle cx="409.4" cy="429.4" r="1.65" fill="#0000ff" fill-opacity="0.95"/>
<circle cx="411.46" cy="429.57" r="1.65" fill="#2100fc" fill-opacity="0.85"/>
<circle cx="410.05" cy="429.3" r="1.65" fill="#1400fe" fill-opacity="0.85"/>
<circle cx="411.63" cy="429.47" r="1.65" fill="#1200fe" fill-opacity="0.85"/>
<circle cx="409.4" cy="430.2" r="1.65" fill="#0000ff" fill-opacity="0.95"/>
<circle cx="410.37" cy="430.02" r="1.65" fill="#0300ff" fill-opacity="0.85"/>
<circle cx="409.63" cy="430.47" r="1.65" fill="#0f00fe" fill-opacity="0.85"/>
<circle cx="411.52" cy="430" r="1.65" fill="#0f00fe" fill-opacity="0.85"/>
<circle cx="409.4" cy="431" r="1.65" fill="#0000ff" fill-opacity="0.95"/>
<circle cx="410.58" cy="430.75" r="1.65" fill="#1300fe" fill-opacity="0.85"/>
<circle cx="411.6" cy="431.31" r="1.65" fill="#1f00fd" fill-opacity="0.85"/>
<circle cx="410.85" cy="431.33" r="1.65" fill="#2200fc" fill-opacity="0.85"/>
<circle cx="409.4" cy="431.8" r="1.65" fill="#0000ff" fill-opacity="0.95"/>
<circle cx="410.68" cy="431.98" r="1.65" fill="#0300ff" fill-opacity="0.85"/>
<circle cx="411.11" cy="431.76" r="1.65" fill="#1e00fd" fill-opacity="0.85"/>
<circle cx="410.91" cy="431.63" r="1.65" fill="#0300ff" fill-opacity="0.85"/>
<circle cx="409.4" cy="432.6" r="1.65" fill="#0000ff" fill-opacity="0.95"/>
<circle cx="411.6" cy="432.3" r="1.65" fill="#1600fe" fill-opacity="0.85"/>
<circle cx="410.22" cy="432.44" r="1.65" fill="#1e00fd" fill-opacity="0.85"/>
<circle cx="411.72" cy="432.41" r="1.65" fill="#1c00fd" fill-opacity="0.85"/>
<circle cx="409.4" cy="433.4" r="1.65" fill="#0000ff" fill-opacity="0.95"/>
<circle cx="410.13" cy="433.45" r="1.65" fill="#1400fe" fill-opacity="0.85"/>
<circle cx="409.8" cy="433.13" r="1.65" fill="#0c00fe" fill-opacity="0.85"/>
<circle cx="411.58" cy="433.4" r="1.65" fill="#0c00fe" fill-opacity="0.85"/>
<circle cx="409.4" cy="434.2" r="1.65" fill="#0000ff" fill-opacity="0.95"/>
<circle cx="411.62" cy="434.6" r="1.65" fill="#1600fe" fill-opacity="0.85"/>
<circle cx="409.74" cy="433.95" r="1.65" fill="#0500ff" fill-opacity="0.85"/>
<circle cx="410.24" cy="433.87" r="1.65" fill="#0d00fe" fill-opacity="0.85"/>
<circle cx="409.4" cy="435" r="1.65" fill="#0000ff" fill-opacity="0.95"/>
<circle cx="410.04" cy="435.06" r="1.65" fill="#2100fc" fill-opacity="0.85"/>
<circle cx="411.26" cy="434.93" r="1.65" fill="#1400fe" fill-opacity="0.85"/>
<circle cx="410.7" cy="434.9" r="1.65" fill="#1200fe" fill-opacity="0.85"/>
<circle cx="409.4" cy="435.8" r="1.65" fill="#0000ff" fill-opacity="0.95"/>
<circle cx="409.56" cy="435.62" r="1.65" fill="#2300fc" fill-opacity="0.85"/>
<circle cx="409.72" cy="435.8" r="1.65" fill="#1b00fd" fill-opacity="0.85"/>
<circle cx="411.58" cy="435.57" r="1.65" fill="#0f00fe" fill-opacity="0.85"/>
<circle cx="409.4" cy="436.6" r="1.65" fill="#0000ff" fill-opacity="0.95"/>
<circle cx="410.04" cy="436.52" r="1.65" fill="#1500fe" fill-opacity="0.85"/>
<circle cx="411.85" cy="436.88" r="1.65" fill="#2100fc" fill-opacity="0.85"/>
<circle cx="409.46" cy="436.23" r="1.65" fill="#1d00fd" fill-opacity="0.85"/>
<circle cx="409.4" cy="437.4" r="1.65" fill="#0000ff" fill-opacity="0.95"/>
<circle cx="411.73" cy="437.38" r="1.65" fill="#1a00fd" fill-opacity="0.85"/>
<circle cx="409.4" cy="437.31" r="1.65" fill="#2200fc" fill-opacity="0.85"/>
<circle cx="411.55" cy="437.68" r="1.65" fill="#2300fc" fill-opacity="0.85"/>
<circle cx="409.4" cy="438.2" r="1.65" fill="#0000ff" fill-opacity="0.95"/>
<circle cx="410.06" cy="437.89" r="1.65" fill="#0900ff" fill-opacity="0.85"/>
<circle cx="410.78" cy="438.35" r="1.65" fill="#2200fc" fill-opacity="0.85"/>
<circle cx="411.31" cy="438.32" r="1.65" fill="#1e00fd" fill-opacity="0.85"/>
<circle cx="409.4" cy="439" r="1.65" fill="#0000ff" fill-opacity="0.95"/>
<circle cx="410.63" cy="439.04" r="1.65" fill="#0200ff" fill-opacity="0.85"/>
<circle cx="411.5" cy="438.79" r="1.65" fill="#2200fc" fill-opacity="0.85"/>
<circle cx="411.13" cy="438.84" r="1.65" fill="#0700ff" fill-opacity="0.85"/>
<circle cx="409.4" cy="439.8" r="1.65" fill="#0000ff" fill-opacity="0.95"/>
<circle cx="410.09" cy="439.91" r="1.65" fill="#1d00fd" fill-opacity="0.85"/>
<circle cx="409.71" cy="439.46" r="1.65" fill="#1800fd" fill-opacity="0.85"/>
<circle cx="410.99" cy="439.71" r="1.65" fill="#0d00fe" fill-opacity="0.85"/>
<circle cx="409.4" cy="440.6" r="1.65" fill="#0000ff" fill-opacity="0.95"/>
<circle cx="411.06" cy="440.21" r="1.65" fill="#1000fe" fill-opacity="0.85"/>
<circle cx="410.67" cy="440.97" r="1.65" fill="#1b00fd" fill-opacity="0.85"/>
<circle cx="411.84" cy="440.58" r="1.65" fill="#0d00fe" fill-opacity="0.85"/>
<circle cx="409.4" cy="441.4" r="1.65" fill="#0000ff" fill-opacity="0.95"/>
<circle cx="410.09" cy="441.77" r="1.65" fill="#1d00fd" fill-opacity="0.85"/>
<circle cx="410.26" cy="441.02" r="1.65" fill="#1700fe" fill-opacity="0.85"/>
<circle cx="411.29" cy="441.34" r="1.65" fill="#0e00fe" fill-opacity="0.85"/>
<circle cx="409.4" cy="442.2" r="1.65" fill="#0000ff" fill-opacity="0.95"/>
<circle cx="411.3" cy="442.54" r="1.65" fill="#0d00fe" fill-opacity="0.85"/>
<circle cx="409.5" cy="442.07" r="1.65" fill="#1500fe" fill-opacity="0.85"/>
<circle cx="411.34" cy="441.96" r="1.65" fill="#1f00fd" fill-opacity="0.85"/>
<circle cx="409.4" cy="443" r="1.65" fill="#0000ff" fill-opacity="0.95"/>
<circle cx="411.54" cy="443" r="1.65" fill="#0c00fe" fill-opacity="0.85"/>
<circle cx="412.2" cy="442.85" r="1.65" fill="#2000fd" fill-opacity="0.85"/>
<circle cx="410.07" cy="442.78" r="1.65" fill="#1e00fd" fill-opacity="0.85"/>
<circle cx="409.4" cy="443.8" r="1.65" fill="#0000ff" fill-opacity="0.95"/>
<circle cx="410.26" cy="444.16" r="1.65" fill="#1700fe" fill-opacity="0.85"/>
<circle cx="409.95" cy="443.58" r="1.65" fill="#1400fe" fill-opacity="0.85"/>
<circle cx="411.35" cy="444.16" r="1.65" fill="#0800ff" fill-opacity="0.85"/>
<circle cx="409.4" cy="444.6" r="1.65" fill="#0000ff" fill-opacity="0.95"/>
<circle cx="410.57" cy="444.37" r="1.65" fill="#2300fc" fill-opacity="0.85"/>
<circle cx="409.82" cy="444.24" r="1.65" fill="#0300ff" fill-opacity="0.85"/>
<circle cx="410.57" cy="444.92" r="1.65" fill="#2100fc" fill-opacity="0.85"/>
<circle cx="409.4" cy="445.4" r="1.65" fill="#0000ff" fill-opacity="0.95"/>
<circle cx="411.61" cy="445.8" r="1.65" fill="#2200fc" fill-opacity="0.85"/>
<circle cx="410.39" cy="445.15" r="1.65" fill="#2200fc" fill-opacity="0.85"/>
<circle cx="411.65" cy="445.03" r="1.65" fill="#1c00fd" fill-opacity="0.85"/>
<circle cx="409.4" cy="446.2" r="1.65" fill="#0000ff" fill-opacity="0.95"/>
<circle cx="410.56" cy="446.1" r="1.65" fill="#1100fe" fill-opacity="0.85"/>
<circle cx="409.92" cy="445.8" r="1.65" fill="#0f00fe" fill-opacity="0.85"/>
<circle cx="410.48" cy="446.56" r="1.65" fill="#0700ff" fill-opacity="0.85"/>
<circle cx="409.4" cy="447" r="1.65" fill="#0000ff" fill-opacity="0.95"/>
<circle cx="412.39" cy="446.77" r="1.65" fill="#1200fe" fill-opacity="0.85"/>
<circle cx="411.95" cy="447.26" r="1.65" fill="#1500fe" fill-opacity="0.85"/>
<circle cx="409.55" cy="446.98" r="1.65" fill="#1300fe" fill-opacity="0.85"/>
<circle cx="409.4" cy="447.8" r="1.65" fill="#0000ff" fill-opacity="0.95"/>
<circle cx="412.3" cy="447.55" r="1.65" fill="#1300fe" fill-opacity="0.85"/>
<circle cx="412.22" cy="447.42" r="1.65" fill="#1400fe" fill-opacity="0.85"/>
<circle cx="411.96" cy="448.01" r="1.65" fill="#0200ff" fill-opacity="0.85"/>
<circle cx="409.4" cy="448.6" r="1.65" fill="#0000ff" fill-opacity="0.95"/>
<circle cx="409.51" cy="448.25" r="1.65" fill="#2200fc" fill-opacity="0.85"/>
<circle cx="410.22" cy="448.8" r="1.65" fill="#2100fc" fill-opacity="0.85"/>
<circle cx="410.48" cy="448.42" r="1.65" fill="#2300fc" fill-opacity="0.85"/>
<circle cx="409.4" cy="449.4" r="1.65" fill="#0000ff" fill-opacity="0.95"/>
<circle cx="411.4" cy="449.21" r="1.65" fill="#1d00fd" fill-opacity="0.85"/>
<circle cx="410.42" cy="449.22" r="1.65" fill="#0000ff" fill-opacity="0.85"/>
<circle cx="411.85" cy="449.73" r="1.65" fill="#1b00fd" fill-opacity="0.85"/>
<circle cx="409.4" cy="450.2" r="1.65" fill="#0000ff" fill-opacity="0.95"/>
<circle cx="412.5" cy="449.82" r="1.65" fill="#0d00fe" fill-opacity="0.85"/>
<circle cx="410.96" cy="450.57" r="1.65" fill="#2300fc" fill-opacity="0.85"/>
<circle cx="410.67" cy="450" r="1.65" fill="#1500fe" fill-opacity="0.85"/>
<circle cx="409.4" cy="451" r="1.65" fill="#0000ff" fill-opacity="0.95"/>
<circle cx="411.04" cy="451.34" r="1.65" fill="#0a00fe" fill-opacity="0.85"/>
<circle cx="412.07" cy="451.19" r="1.65" fill="#2000fd" fill-opacity="0.85"/>
<circle cx="411.97" cy="451.09" r="1.65" fill="#1100fe" fill-opacity="0.85"/>
<circle cx="409.4" cy="451.8" r="1.65" fill="#0000ff" fill-opacity="0.95"/>
<circle cx="410.48" cy="451.69" r="1.65" fill="#1f00fd" fill-opacity="0.85"/>
<circle cx="409.67" cy="451.56" r="1.65" fill="#1e00fd" fill-opacity="0.85"/>
<circle cx="410.23" cy="451.45" r="1.65" fill="#0200ff" fill-opacity="0.85"/>
<circle cx="409.4" cy="452.6" r="1.65" fill="#0000ff" fill-opacity="0.95"/>
<circle cx="411.29" cy="452.46" r="1.65" fill="#2300fc" fill-opacity="0.85"/>
<circle cx="412.42" cy="452.99" r="1.65" fill="#0f00fe" fill-opacity="0.85"/>
<circle cx="409.69" cy="452.28" r="1.65" fill="#1700fe" fill-opacity="0.85"/>
<circle cx="409.4" cy="453.4" r="1.65" fill="#0000ff" fill-opacity="0.95"/>
<circle cx="411.86" cy="453.36" r="1.65" fill="#0d00fe" fill-opacity="0.85"/>
<circle cx="410.85" cy="453.5" r="1.65" fill="#1c00fd" fill-opacity="0.85"/>
<circle cx="412" cy="453.68" r="1.65" fill="#1c00fd" fill-opacity="0.85"/>
<circle cx="409.4" cy="454.2" r="1.65" fill="#0000ff" fill-opacity="0.95"/>
<circle cx="409.83" cy="454.47" r="1.65" fill="#1000fe" fill-opacity="0.85"/>
<circle cx="411.39" cy="454.1" r="1.65" fill="#1e00fd" fill-opacity="0.85"/>
<circle cx="410.1" cy="454" r="1.65" fill="#0e00fe" fill-opacity="0.85"/>
<circle cx="409.4" cy="455" r="1.65" fill="#0000ff" fill-opacity="0.95"/>
<circle cx="409.95" cy="455.31" r="1.65" fill="#1900fd" fill-opacity="0.85"/>
<circle cx="410.56" cy="454.92" r="1.65" fill="#2300fc" fill-opacity="0.85"/>
<circle cx="411.21" cy="454.79" r="1.65" fill="#1f00fd" fill-opacity="0.85"/>
<circle cx="409.4" cy="455.8" r="1.65" fill="#0000ff" fill-opacity="0.95"/>
<circle cx="411.76" cy="456.19" r="1.65" fill="#0600ff" fill-opacity="0.85"/>
<circle cx="411.12" cy="456.06" r="1.65" fill="#2000fd" fill-opacity="0.85"/>
<circle cx="412.7" cy="455.43" r="1.65" fill="#1000fe" fill-opacity="0.85"/>
<circle cx="409.4" cy="456.6" r="1.65" fill="#0000ff" fill-opacity="0.95"/>
<circle cx="409.84" cy="456.35" r="1.65" fill="#2300fc" fill-opacity="0.85"/>
<circle cx="411.54" cy="456.94" r="1.65" fill="#1300fe" fill-opacity="0.85"/>
<circle cx="412.57" cy="456.56" r="1.65" fill="#0e00fe" fill-opacity="0.85"/>
<circle cx="409.4" cy="457.4" r="1.65" fill="#0000ff" fill-opacity="0.95"/>
<circle cx="412.29" cy="457.76" r="1.65" fill="#0600ff" fill-opacity="0.85"/>
<circle cx="411.61" cy="457.5" r="1.65" fill="#0c00fe" fill-opacity="0.85"/>
<circle cx="410.77" cy="457.11" r="1.65" fill="#0c00fe" fill-opacity="0.85"/>
<circle cx="409.4" cy="458.2" r="1.65" fill="#0000ff" fill-opacity="0.95"/>
<circle cx="410.36" cy="458.28" r="1.65" fill="#1b00fd" fill-opacity="0.85"/>
<circle cx="410.16" cy="457.81" r="1.65" fill="#1100fe" fill-opacity="0.85"/>
<circle cx="411.95" cy="457.95" r="1.65" fill="#1100fe" fill-opacity="0.85"/>
<circle cx="409.4" cy="459" r="1.65" fill="#0000ff" fill-opacity="0.95"/>
<circle cx="410.17" cy="459.24" r="1.65" fill="#1900fd" fill-opacity="0.85"/>
<circle cx="409.64" cy="458.68" r="1.65" fill="#1400fe" fill-opacity="0.85"/>
<circle cx="411.5" cy="459.11" r="1.65" fill="#0500ff" fill-opacity="0.85"/>
<circle cx="409.4" cy="459.8" r="1.65" fill="#0000ff" fill-opacity="0.95"/>
<circle cx="410.03" cy="459.96" r="1.65" fill="#1400fe" fill-opacity="0.85"/>
<circle cx="410.49" cy="459.65" r="1.65" fill="#2300fc" fill-opacity="0.85"/>
<circle cx="410.61" cy="459.85" r="1.65" fill="#1200fe" fill-opacity="0.85"/>
<circle cx="409.4" cy="460.6" r="1.65" fill="#0000ff" fill-opacity="0.95"/>
<circle cx="411.03" cy="460.89" r="1.65" fill="#2300fc" fill-opacity="0.85"/>
<circle cx="410.82" cy="460.36" r="1.65" fill="#1d00fd" fill-opacity="0.85"/>
<circle cx="410.2" cy="460.2" r="1.65" fill="#2100fc" fill-opacity="0.85"/>
<circle cx="409.4" cy="461.4" r="1.65" fill="#0000ff" fill-opacity="0.95"/>
<circle cx="411.08" cy="461.66" r="1.65" fill="#1400fe" fill-opacity="0.85"/>
<circle cx="412.9" cy="461.37" r="1.65" fill="#0900ff" fill-opacity="0.85"/>
<circle cx="409.46" cy="461.44" r="1.65" fill="#1b00fd" fill-opacity="0.85"/>
<circle cx="409.4" cy="462.2" r="1.65" fill="#0000ff" fill-opacity="0.95"/>
<circle cx="413.05" cy="461.87" r="1.65" fill="#1b00fd" fill-opacity="0.85"/>
<circle cx="410.89" cy="462.2" r="1.65" fill="#0800ff" fill-opacity="0.85"/>
<circle cx="410.54" cy="462.22" r="1.65" fill="#2200fc" fill-opacity="0.85"/>
<circle cx="409.84" cy="462.19" r="1.65" fill="#1f00fd" fill-opacity="0.85"/>
<circle cx="410.93" cy="398.01" r="1.65" fill="#1100fe" fill-opacity="0.8"/>
<circle cx="412.65" cy="396.58" r="1.65" fill="#2800fb" fill-opacity="0.8"/>
<circle cx="412.54" cy="343.2" r="1.65" fill="#2300fc" fill-opacity="0.8"/>
<circle cx="411.86" cy="394.25" r="1.65" fill="#3500f9" fill-opacity="0.8"/>
<circle cx="412.23" cy="349.62" r="1.65" fill="#1900fd" fill-opacity="0.8"/>
<circle cx="412.36" cy="364.27" r="1.65" fill="#3500f9" fill-opacity="0.8"/>
<circle cx="410.98" cy="350.98" r="1.65" fill="#2400fc" fill-opacity="0.8"/>
<circle cx="411.34" cy="371.07" r="1.65" fill="#1000fe" fill-opacity="0.8"/>
<circle cx="412.09" cy="354.82" r="1.65" fill="#3700f8" fill-opacity="0.8"/>
<circle cx="411.74" cy="342.47" r="1.65" fill="#3300f9" fill-opacity="0.8"/>
<circle cx="412.34" cy="342.29" r="1.65" fill="#1000fe" fill-opacity="0.8"/>
<circle cx="411.71" cy="375.97" r="1.65" fill="#2e00fa" fill-opacity="0.8"/>
<circle cx="411.42" cy="358.37" r="1.65" fill="#2c00fb" fill-opacity="0.8"/>
<circle cx="411.95" cy="365.54" r="1.65" fill="#2600fc" fill-opacity="0.8"/>
<circle cx="410.55" cy="366.3" r="1.65" fill="#2d00fa" fill-opacity="0.8"/>
<circle cx="411.02" cy="369.37" r="1.65" fill="#3300f9" fill-opacity="0.8"/>
<circle cx="411.51" cy="386.8" r="1.65" fill="#1600fe" fill-opacity="0.8"/>
<circle cx="410.74" cy="368.39" r="1.65" fill="#1100fe" fill-opacity="0.8"/>
<circle cx="410.7" cy="365.84" r="1.65" fill="#2600fc" fill-opacity="0.8"/>
<circle cx="410.59" cy="370.61" r="1.65" fill="#2e00fa" fill-opacity="0.8"/>
<circle cx="412.11" cy="344.93" r="1.65" fill="#3300f9" fill-opacity="0.8"/>
<circle cx="410.62" cy="370.69" r="1.65" fill="#2900fb" fill-opacity="0.8"/>
<circle cx="412.59" cy="362.67" r="1.65" fill="#1200fe" fill-opacity="0.8"/>
<circle cx="412.69" cy="391.42" r="1.65" fill="#3200fa" fill-opacity="0.8"/>
<circle cx="410.93" cy="388.9" r="1.65" fill="#3a00f8" fill-opacity="0.8"/>
<circle cx="414.78" cy="420.33" r="1.65" fill="#4900f4" fill-opacity="0.75"/>
<circle cx="413.7" cy="393.54" r="1.65" fill="#4900f3" fill-opacity="0.75"/>
<circle cx="412.41" cy="385.37" r="1.65" fill="#4400f5" fill-opacity="0.75"/>
<circle cx="413.96" cy="393.02" r="1.65" fill="#3000fa" fill-opacity="0.75"/>
<circle cx="413.39" cy="446.88" r="1.65" fill="#3a00f8" fill-opacity="0.75"/>
<circle cx="413.76" cy="455.43" r="1.65" fill="#3000fa" fill-opacity="0.75"/>
<circle cx="413.21" cy="421.49" r="1.65" fill="#2300fc" fill-opacity="0.75"/>
<circle cx="412.17" cy="394.93" r="1.65" fill="#4900f3" fill-opacity="0.75"/>
<circle cx="415" cy="435.73" r="1.65" fill="#2b00fb" fill-opacity="0.75"/>
<circle cx="413.26" cy="444.36" r="1.65" fill="#3c00f7" fill-opacity="0.75"/>
<circle cx="413.57" cy="432.18" r="1.65" fill="#4700f4" fill-opacity="0.75"/>
<circle cx="413.96" cy="425.52" r="1.65" fill="#4800f4" fill-opacity="0.75"/>
<circle cx="414.09" cy="388.58" r="1.65" fill="#3f00f6" fill-opacity="0.75"/>
<circle cx="414.18" cy="412.33" r="1.65" fill="#3000fa" fill-opacity="0.75"/>
<circle cx="414.82" cy="461.22" r="1.65" fill="#3400f9" fill-opacity="0.75"/>
<circle cx="414.03" cy="442.7" r="1.65" fill="#2b00fb" fill-opacity="0.75"/>
<circle cx="413.01" cy="440.97" r="1.65" fill="#4600f4" fill-opacity="0.75"/>
<circle cx="413.51" cy="400.8" r="1.65" fill="#4b00f3" fill-opacity="0.75"/>
<circle cx="414.23" cy="428.04" r="1.65" fill="#3200f9" fill-opacity="0.75"/>
<circle cx="411.49" cy="380.15" r="1.65" fill="#2a00fb" fill-opacity="0.75"/>
<circle cx="413.71" cy="430.52" r="1.65" fill="#3b00f7" fill-opacity="0.75"/>
<circle cx="413.52" cy="453.43" r="1.65" fill="#2e00fa" fill-opacity="0.75"/>
<circle cx="412.76" cy="433.55" r="1.65" fill="#2000fd" fill-opacity="0.75"/>
<circle cx="412.38" cy="409.11" r="1.65" fill="#3400f9" fill-opacity="0.75"/>
<circle cx="413.31" cy="398.39" r="1.65" fill="#3e00f7" fill-opacity="0.75"/>
<circle cx="413.37" cy="396.74" r="1.65" fill="#3900f8" fill-opacity="0.75"/>
<circle cx="414.01" cy="391.05" r="1.65" fill="#2f00fa" fill-opacity="0.75"/>
<circle cx="411.94" cy="392.24" r="1.65" fill="#4000f6" fill-opacity="0.75"/>
<circle cx="415.1" cy="451.45" r="1.65" fill="#3600f9" fill-opacity="0.75"/>
<circle cx="411.96" cy="401.67" r="1.65" fill="#4000f6" fill-opacity="0.75"/>
<circle cx="413.4" cy="426.11" r="1.65" fill="#4000f6" fill-opacity="0.75"/>
<circle cx="414.63" cy="416.39" r="1.65" fill="#4300f5" fill-opacity="0.75"/>
<circle cx="414.16" cy="400.38" r="1.65" fill="#2300fc" fill-opacity="0.75"/>
<circle cx="413.48" cy="423.59" r="1.65" fill="#2f00fa" fill-opacity="0.75"/>
<circle cx="413.46" cy="384.79" r="1.65" fill="#2100fc" fill-opacity="0.75"/>
<circle cx="414.85" cy="425.18" r="1.65" fill="#2900fb" fill-opacity="0.75"/>
<circle cx="413.32" cy="396.36" r="1.65" fill="#3b00f8" fill-opacity="0.75"/>
<circle cx="414.72" cy="432.61" r="1.65" fill="#2b00fb" fill-opacity="0.75"/>
<circle cx="412.77" cy="405.37" r="1.65" fill="#2300fc" fill-opacity="0.75"/>
<circle cx="415.14" cy="452.93" r="1.65" fill="#4200f6" fill-opacity="0.75"/>
<circle cx="416.3" cy="340.7" r="1.65" fill="#4500f5" fill-opacity="0.7"/>
<circle cx="412.1" cy="344.8" r="1.65" fill="#5400ef" fill-opacity="0.7"/>
<circle cx="411.1" cy="359.2" r="1.65" fill="#5200f0" fill-opacity="0.7"/>
<circle cx="414.8" cy="365.2" r="1.65" fill="#4f00f2" fill-opacity="0.7"/>
<circle cx="422" cy="364.5" r="1.65" fill="#5800ee" fill-opacity="0.7"/>
<circle cx="421.5" cy="369.3" r="1.65" fill="#5300f0" fill-opacity="0.7"/>
<circle cx="431.7" cy="373.5" r="1.65" fill="#5500ef" fill-opacity="0.7"/>
<circle cx="412.4" cy="367" r="1.65" fill="#4500f5" fill-opacity="0.7"/>
<circle cx="412.6" cy="372.2" r="1.65" fill="#4800f4" fill-opacity="0.7"/>
<circle cx="418.2" cy="381.8" r="1.65" fill="#4800f4" fill-opacity="0.7"/>
<circle cx="422.7" cy="380.4" r="1.65" fill="#5100f1" fill-opacity="0.7"/>
<circle cx="425.2" cy="381" r="1.65" fill="#5a00ed" fill-opacity="0.7"/>
<circle cx="413.4" cy="386.2" r="1.65" fill="#5200f0" fill-opacity="0.7"/>
<circle cx="430.7" cy="387.9" r="1.65" fill="#5f00eb" fill-opacity="0.7"/>
<circle cx="413" cy="391.4" r="1.65" fill="#5200f0" fill-opacity="0.7"/>
<circle cx="414.3" cy="395.7" r="1.65" fill="#4a00f3" fill-opacity="0.7"/>
<circle cx="431.5" cy="395.5" r="1.65" fill="#5b00ed" fill-opacity="0.7"/>
<circle cx="417.3" cy="398.4" r="1.65" fill="#5000f1" fill-opacity="0.7"/>
<circle cx="424.1" cy="399.6" r="1.65" fill="#5a00ed" fill-opacity="0.7"/>
<circle cx="444.5" cy="399.6" r="1.65" fill="#6100ea" fill-opacity="0.7"/>
<circle cx="445" cy="400.7" r="1.65" fill="#5d00ec" fill-opacity="0.7"/>
<circle cx="424.4" cy="401.3" r="1.65" fill="#5800ee" fill-opacity="0.7"/>
<circle cx="422.8" cy="402.8" r="1.65" fill="#5d00ec" fill-opacity="0.7"/>
<circle cx="421.3" cy="404.3" r="1.65" fill="#4e00f2" fill-opacity="0.7"/>
<circle cx="423.6" cy="409.8" r="1.65" fill="#5c00ec" fill-opacity="0.7"/>
<circle cx="445.4" cy="410.4" r="1.65" fill="#5900ed" fill-opacity="0.7"/>
<circle cx="412.3" cy="406.3" r="1.65" fill="#4800f4" fill-opacity="0.7"/>
<circle cx="415.3" cy="413.1" r="1.65" fill="#4a00f3" fill-opacity="0.7"/>
<circle cx="422.1" cy="414.3" r="1.65" fill="#5800ee" fill-opacity="0.7"/>
<circle cx="429.6" cy="414.6" r="1.65" fill="#6000ea" fill-opacity="0.7"/>
<circle cx="432.3" cy="414.3" r="1.65" fill="#5e00eb" fill-opacity="0.7"/>
<circle cx="430.8" cy="416.8" r="1.65" fill="#5600ef" fill-opacity="0.7"/>
<circle cx="440.9" cy="414.3" r="1.65" fill="#6500e8" fill-opacity="0.7"/>
<circle cx="434.9" cy="418.3" r="1.65" fill="#5900ee" fill-opacity="0.7"/>
<circle cx="439.4" cy="418.3" r="1.65" fill="#5a00ed" fill-opacity="0.7"/>
<circle cx="458.2" cy="417.3" r="1.65" fill="#6d00e4" fill-opacity="0.7"/>
<circle cx="417.6" cy="416.8" r="1.65" fill="#5400f0" fill-opacity="0.7"/>
<circle cx="423.9" cy="417.9" r="1.65" fill="#5900ee" fill-opacity="0.7"/>
<circle cx="419.1" cy="419.8" r="1.65" fill="#5500ef" fill-opacity="0.7"/>
<circle cx="425.9" cy="422.1" r="1.65" fill="#5f00eb" fill-opacity="0.7"/>
<circle cx="436.4" cy="423.3" r="1.65" fill="#5c00ec" fill-opacity="0.7"/>
<circle cx="413.1" cy="421.8" r="1.65" fill="#5500ef" fill-opacity="0.7"/>
<circle cx="422.1" cy="426.6" r="1.65" fill="#5800ee" fill-opacity="0.7"/>
<circle cx="425.9" cy="427.4" r="1.65" fill="#5d00ec" fill-opacity="0.7"/>
<circle cx="430.8" cy="428.4" r="1.65" fill="#5800ee" fill-opacity="0.7"/>
<circle cx="416.1" cy="425.1" r="1.65" fill="#5500ef" fill-opacity="0.7"/>
<circle cx="420.3" cy="431.1" r="1.65" fill="#5400ef" fill-opacity="0.7"/>
<circle cx="419.1" cy="432.3" r="1.65" fill="#4e00f2" fill-opacity="0.7"/>
<circle cx="444.4" cy="431.1" r="1.65" fill="#5c00ec" fill-opacity="0.7"/>
<circle cx="453" cy="431.9" r="1.65" fill="#6700e7" fill-opacity="0.7"/>
<circle cx="425.9" cy="433.9" r="1.65" fill="#4e00f2" fill-opacity="0.7"/>
<circle cx="430.8" cy="434.5" r="1.65" fill="#6000ea" fill-opacity="0.7"/>
<circle cx="416.1" cy="436" r="1.65" fill="#4900f4" fill-opacity="0.7"/>
<circle cx="428.9" cy="437.5" r="1.65" fill="#4f00f1" fill-opacity="0.7"/>
<circle cx="432.9" cy="438.4" r="1.65" fill="#5300f0" fill-opacity="0.7"/>
<circle cx="436.9" cy="439.4" r="1.65" fill="#6400e9" fill-opacity="0.7"/>
<circle cx="421.3" cy="439.9" r="1.65" fill="#5100f1" fill-opacity="0.7"/>
<circle cx="417.6" cy="439" r="1.65" fill="#4a00f3" fill-opacity="0.7"/>
<circle cx="428.9" cy="441.7" r="1.65" fill="#4f00f1" fill-opacity="0.7"/>
<circle cx="428.1" cy="443.5" r="1.65" fill="#4f00f1" fill-opacity="0.7"/>
<circle cx="416.1" cy="442.9" r="1.65" fill="#5400f0" fill-opacity="0.7"/>
<circle cx="438.4" cy="445" r="1.65" fill="#6000eb" fill-opacity="0.7"/>
<circle cx="442.9" cy="444.4" r="1.65" fill="#6300e9" fill-opacity="0.7"/>
<circle cx="451.5" cy="444.7" r="1.65" fill="#6800e7" fill-opacity="0.7"/>
<circle cx="426.9" cy="447.4" r="1.65" fill="#4f00f2" fill-opacity="0.7"/>
<circle cx="448.5" cy="447.7" r="1.65" fill="#6400e8" fill-opacity="0.7"/>
<circle cx="437.5" cy="448.9" r="1.65" fill="#5b00ed" fill-opacity="0.7"/>
<circle cx="437.5" cy="450.4" r="1.65" fill="#6200e9" fill-opacity="0.7"/>
<circle cx="416.8" cy="448.5" r="1.65" fill="#5700ee" fill-opacity="0.7"/>
<circle cx="419.1" cy="451" r="1.65" fill="#5900ed" fill-opacity="0.7"/>
<circle cx="424.4" cy="451" r="1.65" fill="#4d00f2" fill-opacity="0.7"/>
<circle cx="426.6" cy="452.2" r="1.65" fill="#5d00ec" fill-opacity="0.7"/>
<circle cx="451.5" cy="452.2" r="1.65" fill="#6a00e5" fill-opacity="0.7"/>
<circle cx="451.5" cy="454.9" r="1.65" fill="#6b00e5" fill-opacity="0.7"/>
<circle cx="455.5" cy="456.7" r="1.65" fill="#6000ea" fill-opacity="0.7"/>
<circle cx="429.6" cy="454.9" r="1.65" fill="#5300f0" fill-opacity="0.7"/>
<circle cx="419.8" cy="454.5" r="1.65" fill="#4b00f3" fill-opacity="0.7"/>
<circle cx="420.6" cy="456" r="1.65" fill="#4900f3" fill-opacity="0.7"/>
<circle cx="424.8" cy="457" r="1.65" fill="#5c00ec" fill-opacity="0.7"/>
<circle cx="415.8" cy="455.5" r="1.65" fill="#5600ef" fill-opacity="0.7"/>
<circle cx="434.4" cy="458.3" r="1.65" fill="#5e00ec" fill-opacity="0.7"/>
<circle cx="415.3" cy="460.1" r="1.65" fill="#5600ef" fill-opacity="0.7"/>
<circle cx="425.4" cy="462.6" r="1.65" fill="#5800ee" fill-opacity="0.7"/>
<circle cx="464" cy="423.8" r="1.65" fill="#6700e7" fill-opacity="0.7"/>
<circle cx="483.4" cy="440" r="1.65" fill="#6e00e4" fill-opacity="0.7"/>
<circle cx="489.9" cy="445.5" r="1.65" fill="#7000e2" fill-opacity="0.7"/>
<circle cx="492.1" cy="462.3" r="1.65" fill="#7900dd" fill-opacity="0.7"/>
<line x1="507.3" y1="305.5" x2="507.3" y2="332" stroke="#333" stroke-width="0.6" />
<line x1="550.5" y1="326.8" x2="555" y2="332.3" stroke="#333" stroke-width="0.6" />
<line x1="546.6" y1="346.3" x2="548.6" y2="353" stroke="#333" stroke-width="0.6" />
<line x1="495" y1="366.5" x2="499.9" y2="372.3" stroke="#333" stroke-width="0.6" />
<line x1="489.9" y1="445.5" x2="497" y2="437.8" stroke="#333" stroke-width="0.6" />
<circle cx="507.3" cy="333.9" r="1.65" fill="#bd009b" fill-opacity="0.75"/>
<circle cx="556" cy="333.9" r="1.65" fill="#d9006d" fill-opacity="0.75"/>
<circle cx="546.4" cy="344.6" r="1.65" fill="#d70072" fill-opacity="0.75"/>
<circle cx="501.1" cy="373.8" r="1.65" fill="#ac00b0" fill-opacity="0.75"/>
<circle cx="591.3" cy="378.7" r="1.65" fill="#f20037" fill-opacity="0.75"/>
<text x="453.3" y="303.7" font-size="7.4" text-anchor="start" font-family="Liberation Sans, sans-serif" fill="#1a1a1a" >s__uncultured_Haemophilus_sp.</text>
<text x="496.8" y="325.8" font-size="7.4" text-anchor="start" font-family="Liberation Sans, sans-serif" fill="#1a1a1a" >s__Prevotella_7_unclassified</text>
<text x="504.8" y="357.8" font-size="7.4" text-anchor="start" font-family="Liberation Sans, sans-serif" fill="#1a1a1a" >s__Veillonella_unclassified</text>
<text x="422.2" y="365" font-size="7.4" text-anchor="start" font-family="Liberation Sans, sans-serif" fill="#1a1a1a" >s__Prevotella_7_unclassified</text>
<text x="485.8" y="387.6" font-size="7.4" text-anchor="start" font-family="Liberation Sans, sans-serif" fill="#1a1a1a" >s__Streptococcus_pneumoniae</text>
<text x="456.8" y="437.5" font-size="7.4" text-anchor="start" font-family="Liberation Sans, sans-serif" fill="#1a1a1a" >s__Neisseria_unclassified</text>
<defs><linearGradient id="cb" x1="0" y1="1" x2="0" y2="0"><stop offset="0" stop-color="#2a10ff"/><stop offset="0.35" stop-color="#9020d8"/><stop offset="0.7" stop-color="#d82088"/><stop offset="1" stop-color="#ff1a1a"/></linearGradient></defs>
<rect x="615.3" y="347" width="9.1" height="47" fill="url(#cb)"/>
<line x1="615.3" y1="358.6" x2="617.2" y2="358.6" stroke="#fff" stroke-width="0.6" />
<line x1="622.5" y1="358.6" x2="624.4" y2="358.6" stroke="#fff" stroke-width="0.6" />
<line x1="615.3" y1="370.2" x2="617.2" y2="370.2" stroke="#fff" stroke-width="0.6" />
<line x1="622.5" y1="370.2" x2="624.4" y2="370.2" stroke="#fff" stroke-width="0.6" />
<line x1="615.3" y1="381.9" x2="617.2" y2="381.9" stroke="#fff" stroke-width="0.6" />
<line x1="622.5" y1="381.9" x2="624.4" y2="381.9" stroke="#fff" stroke-width="0.6" />
<text x="629.3" y="361.4" font-size="7.9" text-anchor="start" font-family="Liberation Sans, sans-serif" fill="#1a1a1a" >0.06</text>
<text x="629.3" y="373" font-size="7.9" text-anchor="start" font-family="Liberation Sans, sans-serif" fill="#1a1a1a" >0.04</text>
<text x="629.3" y="384.7" font-size="7.9" text-anchor="start" font-family="Liberation Sans, sans-serif" fill="#1a1a1a" >0.02</text>
<text x="615.3" y="340.9" font-size="7.8" text-anchor="start" font-family="Liberation Sans, sans-serif" fill="#1a1a1a" >Mean Abundance</text>
<text x="500.3" y="494.9" font-size="10.5" text-anchor="middle" font-family="Liberation Sans, sans-serif" fill="#1a1a1a" >Contribution (average)</text>
<text x="0" y="0" font-size="9.85" text-anchor="middle" font-family="Liberation Sans, sans-serif" fill="#1a1a1a" transform="translate(385.6 362.3) rotate(-90)">-log10(p-value)</text>
<text x="377.5" y="245.8" font-size="19.5" text-anchor="start" font-family="Liberation Serif, serif" fill="#1a1a1a" >D</text>
</svg></body></html>
